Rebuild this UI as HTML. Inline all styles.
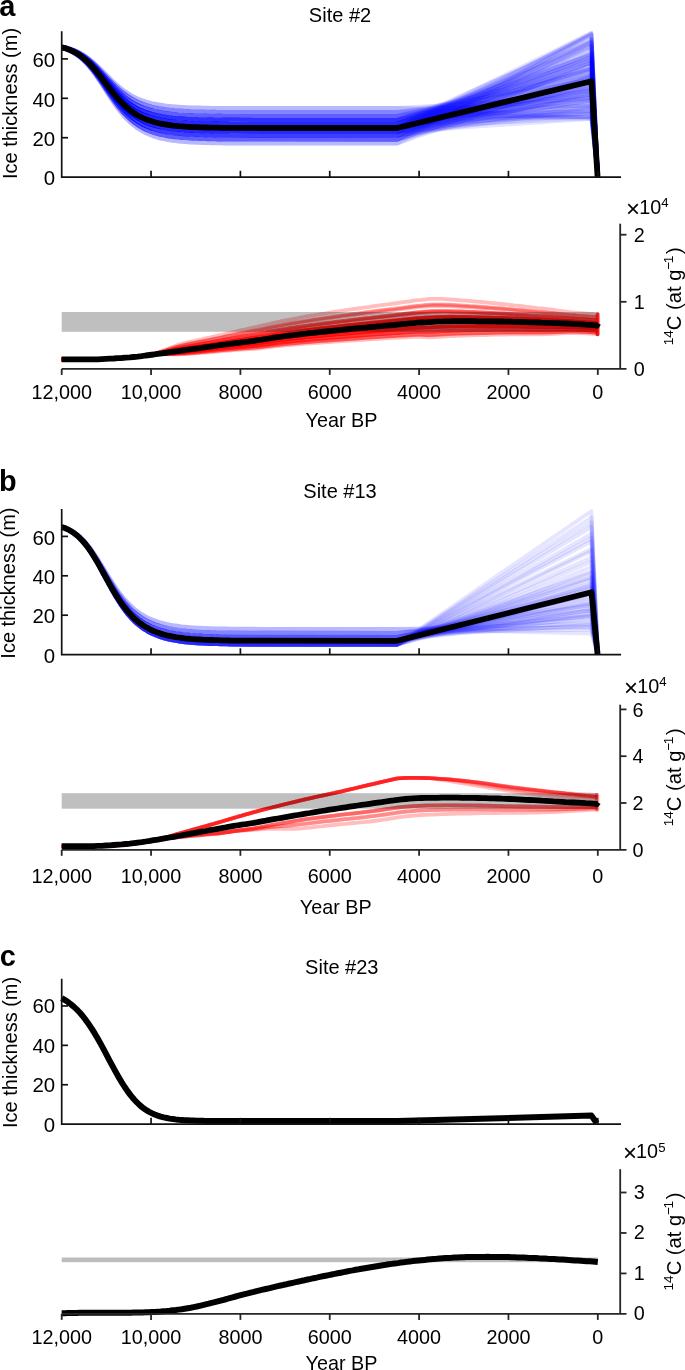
<!DOCTYPE html>
<html><head><meta charset="utf-8"><style>
html,body{margin:0;padding:0;background:#fff;}
body{width:685px;height:1370px;overflow:hidden;}
svg{display:block;will-change:transform;}
</style></head><body>
<svg width="685" height="1370" viewBox="0 0 685 1370">
<rect width="685" height="1370" fill="#fff"/>
<text x="-0.8" y="15.6" font-size="29" font-weight="bold" font-family="Liberation Sans, sans-serif">a</text>
<text x="340" y="22.1" text-anchor="middle" font-size="20" font-family="Liberation Sans, sans-serif">Site #2</text>
<g><polyline points="61.7,46.5 64.7,47.1 67.7,47.8 70.7,48.7 73.7,49.8 76.7,51.1 79.7,52.5 82.7,54.2 85.7,56.2 88.7,58.3 91.7,60.7 94.7,63.3 97.7,66.1 100.7,69.0 103.7,72.0 106.7,75.0 109.7,78.0 112.7,80.9 115.7,83.7 118.7,86.3 121.7,88.7 124.7,91.0 127.7,93.0 130.7,94.9 133.7,96.5 136.7,98.0 139.7,99.3 142.7,100.4 145.7,101.4 148.7,102.3 151.7,103.1 154.7,103.7 157.7,104.3 160.7,104.8 163.7,105.3 166.7,105.7 169.7,106.0 172.7,106.3 175.7,106.5 178.7,106.7 181.7,106.9 184.7,107.1 187.7,107.2 190.7,107.4 193.7,107.5 196.7,107.6 199.7,107.6 202.7,107.7 205.7,107.8 208.7,107.8 211.7,107.9 214.7,107.9 217.7,107.9 220.7,108.0 223.7,108.0 226.7,108.0 229.7,108.0 260.0,108.1 397.0,108.1 591.4,117.8 597.9,177.1" fill="none" stroke="#0000ff" stroke-width="4.0" stroke-opacity="0.100" stroke-linejoin="round" /><polyline points="61.7,46.5 64.7,47.1 67.7,47.8 70.7,48.7 73.7,49.8 76.7,51.1 79.7,52.5 82.7,54.2 85.7,56.2 88.7,58.3 91.7,60.7 94.7,63.3 97.7,66.1 100.7,69.0 103.7,72.0 106.7,75.0 109.7,78.0 112.7,80.9 115.7,83.7 118.7,86.3 121.7,88.7 124.7,91.0 127.7,93.0 130.7,94.9 133.7,96.5 136.7,98.0 139.7,99.3 142.7,100.4 145.7,101.4 148.7,102.3 151.7,103.1 154.7,103.7 157.7,104.3 160.7,104.8 163.7,105.3 166.7,105.7 169.7,106.0 172.7,106.3 175.7,106.5 178.7,106.7 181.7,106.9 184.7,107.1 187.7,107.2 190.7,107.4 193.7,107.5 196.7,107.6 199.7,107.6 202.7,107.7 205.7,107.8 208.7,107.8 211.7,107.9 214.7,107.9 217.7,107.9 220.7,108.0 223.7,108.0 226.7,108.0 229.7,108.0 260.0,108.1 397.0,108.1 591.4,106.1 597.9,177.1" fill="none" stroke="#0000ff" stroke-width="4.0" stroke-opacity="0.100" stroke-linejoin="round" /><polyline points="61.7,46.5 64.7,47.1 67.7,47.8 70.7,48.7 73.7,49.8 76.7,51.1 79.7,52.5 82.7,54.2 85.7,56.2 88.7,58.3 91.7,60.7 94.7,63.3 97.7,66.1 100.7,69.0 103.7,72.0 106.7,75.0 109.7,78.0 112.7,80.9 115.7,83.7 118.7,86.3 121.7,88.7 124.7,91.0 127.7,93.0 130.7,94.9 133.7,96.5 136.7,98.0 139.7,99.3 142.7,100.4 145.7,101.4 148.7,102.3 151.7,103.1 154.7,103.7 157.7,104.3 160.7,104.8 163.7,105.3 166.7,105.7 169.7,106.0 172.7,106.3 175.7,106.5 178.7,106.7 181.7,106.9 184.7,107.1 187.7,107.2 190.7,107.4 193.7,107.5 196.7,107.6 199.7,107.6 202.7,107.7 205.7,107.8 208.7,107.8 211.7,107.9 214.7,107.9 217.7,107.9 220.7,108.0 223.7,108.0 226.7,108.0 229.7,108.0 260.0,108.1 397.0,108.1 591.4,96.3 597.9,177.1" fill="none" stroke="#0000ff" stroke-width="4.0" stroke-opacity="0.100" stroke-linejoin="round" /><polyline points="61.7,46.6 64.7,47.3 67.7,48.1 70.7,49.0 73.7,50.2 76.7,51.5 79.7,53.1 82.7,54.9 85.7,56.9 88.7,59.2 91.7,61.8 94.7,64.5 97.7,67.5 100.7,70.6 103.7,73.8 106.7,77.0 109.7,80.1 112.7,83.2 115.7,86.1 118.7,88.9 121.7,91.5 124.7,93.9 127.7,96.0 130.7,98.0 133.7,99.7 136.7,101.3 139.7,102.7 142.7,103.9 145.7,104.9 148.7,105.9 151.7,106.7 154.7,107.4 157.7,108.0 160.7,108.6 163.7,109.0 166.7,109.4 169.7,109.8 172.7,110.1 175.7,110.4 178.7,110.6 181.7,110.8 184.7,111.0 187.7,111.1 190.7,111.3 193.7,111.4 196.7,111.5 199.7,111.5 202.7,111.6 205.7,111.7 208.7,111.7 211.7,111.8 214.7,111.8 217.7,111.9 220.7,111.9 223.7,111.9 226.7,111.9 229.7,112.0 260.0,112.1 397.0,112.1 591.4,118.8 597.9,177.1" fill="none" stroke="#0000ff" stroke-width="4.0" stroke-opacity="0.100" stroke-linejoin="round" /><polyline points="61.7,46.6 64.7,47.3 67.7,48.1 70.7,49.0 73.7,50.2 76.7,51.5 79.7,53.1 82.7,54.9 85.7,56.9 88.7,59.2 91.7,61.8 94.7,64.5 97.7,67.5 100.7,70.6 103.7,73.8 106.7,77.0 109.7,80.1 112.7,83.2 115.7,86.1 118.7,88.9 121.7,91.5 124.7,93.9 127.7,96.0 130.7,98.0 133.7,99.7 136.7,101.3 139.7,102.7 142.7,103.9 145.7,104.9 148.7,105.9 151.7,106.7 154.7,107.4 157.7,108.0 160.7,108.6 163.7,109.0 166.7,109.4 169.7,109.8 172.7,110.1 175.7,110.4 178.7,110.6 181.7,110.8 184.7,111.0 187.7,111.1 190.7,111.3 193.7,111.4 196.7,111.5 199.7,111.5 202.7,111.6 205.7,111.7 208.7,111.7 211.7,111.8 214.7,111.8 217.7,111.9 220.7,111.9 223.7,111.9 226.7,111.9 229.7,112.0 260.0,112.1 397.0,112.1 591.4,111.3 597.9,177.1" fill="none" stroke="#0000ff" stroke-width="4.0" stroke-opacity="0.100" stroke-linejoin="round" /><polyline points="61.7,46.6 64.7,47.3 67.7,48.1 70.7,49.0 73.7,50.2 76.7,51.5 79.7,53.1 82.7,54.9 85.7,56.9 88.7,59.2 91.7,61.8 94.7,64.5 97.7,67.5 100.7,70.6 103.7,73.8 106.7,77.0 109.7,80.1 112.7,83.2 115.7,86.1 118.7,88.9 121.7,91.5 124.7,93.9 127.7,96.0 130.7,98.0 133.7,99.7 136.7,101.3 139.7,102.7 142.7,103.9 145.7,104.9 148.7,105.9 151.7,106.7 154.7,107.4 157.7,108.0 160.7,108.6 163.7,109.0 166.7,109.4 169.7,109.8 172.7,110.1 175.7,110.4 178.7,110.6 181.7,110.8 184.7,111.0 187.7,111.1 190.7,111.3 193.7,111.4 196.7,111.5 199.7,111.5 202.7,111.6 205.7,111.7 208.7,111.7 211.7,111.8 214.7,111.8 217.7,111.9 220.7,111.9 223.7,111.9 226.7,111.9 229.7,112.0 260.0,112.1 397.0,112.1 591.4,100.7 597.9,177.1" fill="none" stroke="#0000ff" stroke-width="4.0" stroke-opacity="0.100" stroke-linejoin="round" /><polyline points="61.7,46.6 64.7,47.3 67.7,48.1 70.7,49.0 73.7,50.2 76.7,51.5 79.7,53.1 82.7,54.9 85.7,56.9 88.7,59.2 91.7,61.8 94.7,64.5 97.7,67.5 100.7,70.6 103.7,73.8 106.7,77.0 109.7,80.1 112.7,83.2 115.7,86.1 118.7,88.9 121.7,91.5 124.7,93.9 127.7,96.0 130.7,98.0 133.7,99.7 136.7,101.3 139.7,102.7 142.7,103.9 145.7,104.9 148.7,105.9 151.7,106.7 154.7,107.4 157.7,108.0 160.7,108.6 163.7,109.0 166.7,109.4 169.7,109.8 172.7,110.1 175.7,110.4 178.7,110.6 181.7,110.8 184.7,111.0 187.7,111.1 190.7,111.3 193.7,111.4 196.7,111.5 199.7,111.5 202.7,111.6 205.7,111.7 208.7,111.7 211.7,111.8 214.7,111.8 217.7,111.9 220.7,111.9 223.7,111.9 226.7,111.9 229.7,112.0 260.0,112.1 397.0,112.1 591.4,97.9 597.9,177.1" fill="none" stroke="#0000ff" stroke-width="4.0" stroke-opacity="0.100" stroke-linejoin="round" /><polyline points="61.7,46.6 64.7,47.3 67.7,48.1 70.7,49.0 73.7,50.2 76.7,51.5 79.7,53.1 82.7,54.9 85.7,56.9 88.7,59.2 91.7,61.8 94.7,64.5 97.7,67.5 100.7,70.6 103.7,73.8 106.7,77.0 109.7,80.1 112.7,83.2 115.7,86.1 118.7,88.9 121.7,91.5 124.7,93.9 127.7,96.0 130.7,98.0 133.7,99.7 136.7,101.3 139.7,102.7 142.7,103.9 145.7,104.9 148.7,105.9 151.7,106.7 154.7,107.4 157.7,108.0 160.7,108.6 163.7,109.0 166.7,109.4 169.7,109.8 172.7,110.1 175.7,110.4 178.7,110.6 181.7,110.8 184.7,111.0 187.7,111.1 190.7,111.3 193.7,111.4 196.7,111.5 199.7,111.5 202.7,111.6 205.7,111.7 208.7,111.7 211.7,111.8 214.7,111.8 217.7,111.9 220.7,111.9 223.7,111.9 226.7,111.9 229.7,112.0 260.0,112.1 397.0,112.1 591.4,90.8 597.9,177.1" fill="none" stroke="#0000ff" stroke-width="4.0" stroke-opacity="0.100" stroke-linejoin="round" /><polyline points="61.7,46.6 64.7,47.3 67.7,48.1 70.7,49.0 73.7,50.2 76.7,51.5 79.7,53.1 82.7,54.9 85.7,56.9 88.7,59.2 91.7,61.8 94.7,64.5 97.7,67.5 100.7,70.6 103.7,73.8 106.7,77.0 109.7,80.1 112.7,83.2 115.7,86.1 118.7,88.9 121.7,91.5 124.7,93.9 127.7,96.0 130.7,98.0 133.7,99.7 136.7,101.3 139.7,102.7 142.7,103.9 145.7,104.9 148.7,105.9 151.7,106.7 154.7,107.4 157.7,108.0 160.7,108.6 163.7,109.0 166.7,109.4 169.7,109.8 172.7,110.1 175.7,110.4 178.7,110.6 181.7,110.8 184.7,111.0 187.7,111.1 190.7,111.3 193.7,111.4 196.7,111.5 199.7,111.5 202.7,111.6 205.7,111.7 208.7,111.7 211.7,111.8 214.7,111.8 217.7,111.9 220.7,111.9 223.7,111.9 226.7,111.9 229.7,112.0 260.0,112.1 397.0,112.1 591.4,80.0 597.9,177.1" fill="none" stroke="#0000ff" stroke-width="4.0" stroke-opacity="0.100" stroke-linejoin="round" /><polyline points="61.7,46.8 64.7,47.5 67.7,48.3 70.7,49.4 73.7,50.5 76.7,52.0 79.7,53.6 82.7,55.5 85.7,57.7 88.7,60.1 91.7,62.8 94.7,65.7 97.7,68.9 100.7,72.1 103.7,75.5 106.7,78.9 109.7,82.2 112.7,85.5 115.7,88.6 118.7,91.5 121.7,94.3 124.7,96.8 127.7,99.0 130.7,101.1 133.7,103.0 136.7,104.6 139.7,106.1 142.7,107.3 145.7,108.5 148.7,109.5 151.7,110.3 154.7,111.1 157.7,111.7 160.7,112.3 163.7,112.8 166.7,113.2 169.7,113.6 172.7,113.9 175.7,114.2 178.7,114.5 181.7,114.7 184.7,114.9 187.7,115.0 190.7,115.1 193.7,115.3 196.7,115.4 199.7,115.5 202.7,115.5 205.7,115.6 208.7,115.7 211.7,115.7 214.7,115.8 217.7,115.8 220.7,115.8 223.7,115.9 226.7,115.9 229.7,115.9 260.0,116.0 397.0,116.0 591.4,116.4 597.9,177.1" fill="none" stroke="#0000ff" stroke-width="4.0" stroke-opacity="0.100" stroke-linejoin="round" /><polyline points="61.7,46.8 64.7,47.5 67.7,48.3 70.7,49.4 73.7,50.5 76.7,52.0 79.7,53.6 82.7,55.5 85.7,57.7 88.7,60.1 91.7,62.8 94.7,65.7 97.7,68.9 100.7,72.1 103.7,75.5 106.7,78.9 109.7,82.2 112.7,85.5 115.7,88.6 118.7,91.5 121.7,94.3 124.7,96.8 127.7,99.0 130.7,101.1 133.7,103.0 136.7,104.6 139.7,106.1 142.7,107.3 145.7,108.5 148.7,109.5 151.7,110.3 154.7,111.1 157.7,111.7 160.7,112.3 163.7,112.8 166.7,113.2 169.7,113.6 172.7,113.9 175.7,114.2 178.7,114.5 181.7,114.7 184.7,114.9 187.7,115.0 190.7,115.1 193.7,115.3 196.7,115.4 199.7,115.5 202.7,115.5 205.7,115.6 208.7,115.7 211.7,115.7 214.7,115.8 217.7,115.8 220.7,115.8 223.7,115.9 226.7,115.9 229.7,115.9 260.0,116.0 397.0,116.0 591.4,111.4 597.9,177.1" fill="none" stroke="#0000ff" stroke-width="4.0" stroke-opacity="0.100" stroke-linejoin="round" /><polyline points="61.7,46.8 64.7,47.5 67.7,48.3 70.7,49.4 73.7,50.5 76.7,52.0 79.7,53.6 82.7,55.5 85.7,57.7 88.7,60.1 91.7,62.8 94.7,65.7 97.7,68.9 100.7,72.1 103.7,75.5 106.7,78.9 109.7,82.2 112.7,85.5 115.7,88.6 118.7,91.5 121.7,94.3 124.7,96.8 127.7,99.0 130.7,101.1 133.7,103.0 136.7,104.6 139.7,106.1 142.7,107.3 145.7,108.5 148.7,109.5 151.7,110.3 154.7,111.1 157.7,111.7 160.7,112.3 163.7,112.8 166.7,113.2 169.7,113.6 172.7,113.9 175.7,114.2 178.7,114.5 181.7,114.7 184.7,114.9 187.7,115.0 190.7,115.1 193.7,115.3 196.7,115.4 199.7,115.5 202.7,115.5 205.7,115.6 208.7,115.7 211.7,115.7 214.7,115.8 217.7,115.8 220.7,115.8 223.7,115.9 226.7,115.9 229.7,115.9 260.0,116.0 397.0,116.0 591.4,104.7 597.9,177.1" fill="none" stroke="#0000ff" stroke-width="4.0" stroke-opacity="0.100" stroke-linejoin="round" /><polyline points="61.7,46.8 64.7,47.5 67.7,48.3 70.7,49.4 73.7,50.5 76.7,52.0 79.7,53.6 82.7,55.5 85.7,57.7 88.7,60.1 91.7,62.8 94.7,65.7 97.7,68.9 100.7,72.1 103.7,75.5 106.7,78.9 109.7,82.2 112.7,85.5 115.7,88.6 118.7,91.5 121.7,94.3 124.7,96.8 127.7,99.0 130.7,101.1 133.7,103.0 136.7,104.6 139.7,106.1 142.7,107.3 145.7,108.5 148.7,109.5 151.7,110.3 154.7,111.1 157.7,111.7 160.7,112.3 163.7,112.8 166.7,113.2 169.7,113.6 172.7,113.9 175.7,114.2 178.7,114.5 181.7,114.7 184.7,114.9 187.7,115.0 190.7,115.1 193.7,115.3 196.7,115.4 199.7,115.5 202.7,115.5 205.7,115.6 208.7,115.7 211.7,115.7 214.7,115.8 217.7,115.8 220.7,115.8 223.7,115.9 226.7,115.9 229.7,115.9 260.0,116.0 397.0,116.0 591.4,97.9 597.9,177.1" fill="none" stroke="#0000ff" stroke-width="4.0" stroke-opacity="0.100" stroke-linejoin="round" /><polyline points="61.7,46.8 64.7,47.5 67.7,48.3 70.7,49.4 73.7,50.5 76.7,52.0 79.7,53.6 82.7,55.5 85.7,57.7 88.7,60.1 91.7,62.8 94.7,65.7 97.7,68.9 100.7,72.1 103.7,75.5 106.7,78.9 109.7,82.2 112.7,85.5 115.7,88.6 118.7,91.5 121.7,94.3 124.7,96.8 127.7,99.0 130.7,101.1 133.7,103.0 136.7,104.6 139.7,106.1 142.7,107.3 145.7,108.5 148.7,109.5 151.7,110.3 154.7,111.1 157.7,111.7 160.7,112.3 163.7,112.8 166.7,113.2 169.7,113.6 172.7,113.9 175.7,114.2 178.7,114.5 181.7,114.7 184.7,114.9 187.7,115.0 190.7,115.1 193.7,115.3 196.7,115.4 199.7,115.5 202.7,115.5 205.7,115.6 208.7,115.7 211.7,115.7 214.7,115.8 217.7,115.8 220.7,115.8 223.7,115.9 226.7,115.9 229.7,115.9 260.0,116.0 397.0,116.0 591.4,93.5 597.9,177.1" fill="none" stroke="#0000ff" stroke-width="4.0" stroke-opacity="0.100" stroke-linejoin="round" /><polyline points="61.7,46.8 64.7,47.5 67.7,48.3 70.7,49.4 73.7,50.5 76.7,52.0 79.7,53.6 82.7,55.5 85.7,57.7 88.7,60.1 91.7,62.8 94.7,65.7 97.7,68.9 100.7,72.1 103.7,75.5 106.7,78.9 109.7,82.2 112.7,85.5 115.7,88.6 118.7,91.5 121.7,94.3 124.7,96.8 127.7,99.0 130.7,101.1 133.7,103.0 136.7,104.6 139.7,106.1 142.7,107.3 145.7,108.5 148.7,109.5 151.7,110.3 154.7,111.1 157.7,111.7 160.7,112.3 163.7,112.8 166.7,113.2 169.7,113.6 172.7,113.9 175.7,114.2 178.7,114.5 181.7,114.7 184.7,114.9 187.7,115.0 190.7,115.1 193.7,115.3 196.7,115.4 199.7,115.5 202.7,115.5 205.7,115.6 208.7,115.7 211.7,115.7 214.7,115.8 217.7,115.8 220.7,115.8 223.7,115.9 226.7,115.9 229.7,115.9 260.0,116.0 397.0,116.0 591.4,87.9 597.9,177.1" fill="none" stroke="#0000ff" stroke-width="4.0" stroke-opacity="0.100" stroke-linejoin="round" /><polyline points="61.7,46.8 64.7,47.5 67.7,48.3 70.7,49.4 73.7,50.5 76.7,52.0 79.7,53.6 82.7,55.5 85.7,57.7 88.7,60.1 91.7,62.8 94.7,65.7 97.7,68.9 100.7,72.1 103.7,75.5 106.7,78.9 109.7,82.2 112.7,85.5 115.7,88.6 118.7,91.5 121.7,94.3 124.7,96.8 127.7,99.0 130.7,101.1 133.7,103.0 136.7,104.6 139.7,106.1 142.7,107.3 145.7,108.5 148.7,109.5 151.7,110.3 154.7,111.1 157.7,111.7 160.7,112.3 163.7,112.8 166.7,113.2 169.7,113.6 172.7,113.9 175.7,114.2 178.7,114.5 181.7,114.7 184.7,114.9 187.7,115.0 190.7,115.1 193.7,115.3 196.7,115.4 199.7,115.5 202.7,115.5 205.7,115.6 208.7,115.7 211.7,115.7 214.7,115.8 217.7,115.8 220.7,115.8 223.7,115.9 226.7,115.9 229.7,115.9 260.0,116.0 397.0,116.0 591.4,79.1 597.9,177.1" fill="none" stroke="#0000ff" stroke-width="4.0" stroke-opacity="0.100" stroke-linejoin="round" /><polyline points="61.7,46.8 64.7,47.5 67.7,48.3 70.7,49.4 73.7,50.5 76.7,52.0 79.7,53.6 82.7,55.5 85.7,57.7 88.7,60.1 91.7,62.8 94.7,65.7 97.7,68.9 100.7,72.1 103.7,75.5 106.7,78.9 109.7,82.2 112.7,85.5 115.7,88.6 118.7,91.5 121.7,94.3 124.7,96.8 127.7,99.0 130.7,101.1 133.7,103.0 136.7,104.6 139.7,106.1 142.7,107.3 145.7,108.5 148.7,109.5 151.7,110.3 154.7,111.1 157.7,111.7 160.7,112.3 163.7,112.8 166.7,113.2 169.7,113.6 172.7,113.9 175.7,114.2 178.7,114.5 181.7,114.7 184.7,114.9 187.7,115.0 190.7,115.1 193.7,115.3 196.7,115.4 199.7,115.5 202.7,115.5 205.7,115.6 208.7,115.7 211.7,115.7 214.7,115.8 217.7,115.8 220.7,115.8 223.7,115.9 226.7,115.9 229.7,115.9 260.0,116.0 397.0,116.0 591.4,73.5 597.9,177.1" fill="none" stroke="#0000ff" stroke-width="4.0" stroke-opacity="0.100" stroke-linejoin="round" /><polyline points="61.7,46.8 64.7,47.5 67.7,48.3 70.7,49.4 73.7,50.5 76.7,52.0 79.7,53.6 82.7,55.5 85.7,57.7 88.7,60.1 91.7,62.8 94.7,65.7 97.7,68.9 100.7,72.1 103.7,75.5 106.7,78.9 109.7,82.2 112.7,85.5 115.7,88.6 118.7,91.5 121.7,94.3 124.7,96.8 127.7,99.0 130.7,101.1 133.7,103.0 136.7,104.6 139.7,106.1 142.7,107.3 145.7,108.5 148.7,109.5 151.7,110.3 154.7,111.1 157.7,111.7 160.7,112.3 163.7,112.8 166.7,113.2 169.7,113.6 172.7,113.9 175.7,114.2 178.7,114.5 181.7,114.7 184.7,114.9 187.7,115.0 190.7,115.1 193.7,115.3 196.7,115.4 199.7,115.5 202.7,115.5 205.7,115.6 208.7,115.7 211.7,115.7 214.7,115.8 217.7,115.8 220.7,115.8 223.7,115.9 226.7,115.9 229.7,115.9 260.0,116.0 397.0,116.0 591.4,68.0 597.9,177.1" fill="none" stroke="#0000ff" stroke-width="4.0" stroke-opacity="0.100" stroke-linejoin="round" /><polyline points="61.7,47.0 64.7,47.7 67.7,48.6 70.7,49.7 73.7,50.9 76.7,52.4 79.7,54.1 82.7,56.2 85.7,58.4 88.7,61.0 91.7,63.8 94.7,66.9 97.7,70.2 100.7,73.7 103.7,77.2 106.7,80.8 109.7,84.3 112.7,87.8 115.7,91.0 118.7,94.1 121.7,97.0 124.7,99.7 127.7,102.1 130.7,104.2 133.7,106.2 136.7,107.9 139.7,109.5 142.7,110.8 145.7,112.0 148.7,113.0 151.7,113.9 154.7,114.7 157.7,115.4 160.7,116.0 163.7,116.6 166.7,117.0 169.7,117.4 172.7,117.8 175.7,118.1 178.7,118.3 181.7,118.5 184.7,118.7 187.7,118.9 190.7,119.0 193.7,119.2 196.7,119.3 199.7,119.4 202.7,119.4 205.7,119.5 208.7,119.6 211.7,119.6 214.7,119.7 217.7,119.7 220.7,119.8 223.7,119.8 226.7,119.8 229.7,119.8 260.0,119.9 397.0,120.0 591.4,116.7 597.9,177.1" fill="none" stroke="#0000ff" stroke-width="4.0" stroke-opacity="0.100" stroke-linejoin="round" /><polyline points="61.7,47.0 64.7,47.7 67.7,48.6 70.7,49.7 73.7,50.9 76.7,52.4 79.7,54.1 82.7,56.2 85.7,58.4 88.7,61.0 91.7,63.8 94.7,66.9 97.7,70.2 100.7,73.7 103.7,77.2 106.7,80.8 109.7,84.3 112.7,87.8 115.7,91.0 118.7,94.1 121.7,97.0 124.7,99.7 127.7,102.1 130.7,104.2 133.7,106.2 136.7,107.9 139.7,109.5 142.7,110.8 145.7,112.0 148.7,113.0 151.7,113.9 154.7,114.7 157.7,115.4 160.7,116.0 163.7,116.6 166.7,117.0 169.7,117.4 172.7,117.8 175.7,118.1 178.7,118.3 181.7,118.5 184.7,118.7 187.7,118.9 190.7,119.0 193.7,119.2 196.7,119.3 199.7,119.4 202.7,119.4 205.7,119.5 208.7,119.6 211.7,119.6 214.7,119.7 217.7,119.7 220.7,119.8 223.7,119.8 226.7,119.8 229.7,119.8 260.0,119.9 397.0,120.0 591.4,113.0 597.9,177.1" fill="none" stroke="#0000ff" stroke-width="4.0" stroke-opacity="0.100" stroke-linejoin="round" /><polyline points="61.7,47.0 64.7,47.7 67.7,48.6 70.7,49.7 73.7,50.9 76.7,52.4 79.7,54.1 82.7,56.2 85.7,58.4 88.7,61.0 91.7,63.8 94.7,66.9 97.7,70.2 100.7,73.7 103.7,77.2 106.7,80.8 109.7,84.3 112.7,87.8 115.7,91.0 118.7,94.1 121.7,97.0 124.7,99.7 127.7,102.1 130.7,104.2 133.7,106.2 136.7,107.9 139.7,109.5 142.7,110.8 145.7,112.0 148.7,113.0 151.7,113.9 154.7,114.7 157.7,115.4 160.7,116.0 163.7,116.6 166.7,117.0 169.7,117.4 172.7,117.8 175.7,118.1 178.7,118.3 181.7,118.5 184.7,118.7 187.7,118.9 190.7,119.0 193.7,119.2 196.7,119.3 199.7,119.4 202.7,119.4 205.7,119.5 208.7,119.6 211.7,119.6 214.7,119.7 217.7,119.7 220.7,119.8 223.7,119.8 226.7,119.8 229.7,119.8 260.0,119.9 397.0,120.0 591.4,107.0 597.9,177.1" fill="none" stroke="#0000ff" stroke-width="4.0" stroke-opacity="0.100" stroke-linejoin="round" /><polyline points="61.7,47.0 64.7,47.7 67.7,48.6 70.7,49.7 73.7,50.9 76.7,52.4 79.7,54.1 82.7,56.2 85.7,58.4 88.7,61.0 91.7,63.8 94.7,66.9 97.7,70.2 100.7,73.7 103.7,77.2 106.7,80.8 109.7,84.3 112.7,87.8 115.7,91.0 118.7,94.1 121.7,97.0 124.7,99.7 127.7,102.1 130.7,104.2 133.7,106.2 136.7,107.9 139.7,109.5 142.7,110.8 145.7,112.0 148.7,113.0 151.7,113.9 154.7,114.7 157.7,115.4 160.7,116.0 163.7,116.6 166.7,117.0 169.7,117.4 172.7,117.8 175.7,118.1 178.7,118.3 181.7,118.5 184.7,118.7 187.7,118.9 190.7,119.0 193.7,119.2 196.7,119.3 199.7,119.4 202.7,119.4 205.7,119.5 208.7,119.6 211.7,119.6 214.7,119.7 217.7,119.7 220.7,119.8 223.7,119.8 226.7,119.8 229.7,119.8 260.0,119.9 397.0,120.0 591.4,104.9 597.9,177.1" fill="none" stroke="#0000ff" stroke-width="4.0" stroke-opacity="0.100" stroke-linejoin="round" /><polyline points="61.7,47.0 64.7,47.7 67.7,48.6 70.7,49.7 73.7,50.9 76.7,52.4 79.7,54.1 82.7,56.2 85.7,58.4 88.7,61.0 91.7,63.8 94.7,66.9 97.7,70.2 100.7,73.7 103.7,77.2 106.7,80.8 109.7,84.3 112.7,87.8 115.7,91.0 118.7,94.1 121.7,97.0 124.7,99.7 127.7,102.1 130.7,104.2 133.7,106.2 136.7,107.9 139.7,109.5 142.7,110.8 145.7,112.0 148.7,113.0 151.7,113.9 154.7,114.7 157.7,115.4 160.7,116.0 163.7,116.6 166.7,117.0 169.7,117.4 172.7,117.8 175.7,118.1 178.7,118.3 181.7,118.5 184.7,118.7 187.7,118.9 190.7,119.0 193.7,119.2 196.7,119.3 199.7,119.4 202.7,119.4 205.7,119.5 208.7,119.6 211.7,119.6 214.7,119.7 217.7,119.7 220.7,119.8 223.7,119.8 226.7,119.8 229.7,119.8 260.0,119.9 397.0,120.0 591.4,99.2 597.9,177.1" fill="none" stroke="#0000ff" stroke-width="4.0" stroke-opacity="0.100" stroke-linejoin="round" /><polyline points="61.7,47.0 64.7,47.7 67.7,48.6 70.7,49.7 73.7,50.9 76.7,52.4 79.7,54.1 82.7,56.2 85.7,58.4 88.7,61.0 91.7,63.8 94.7,66.9 97.7,70.2 100.7,73.7 103.7,77.2 106.7,80.8 109.7,84.3 112.7,87.8 115.7,91.0 118.7,94.1 121.7,97.0 124.7,99.7 127.7,102.1 130.7,104.2 133.7,106.2 136.7,107.9 139.7,109.5 142.7,110.8 145.7,112.0 148.7,113.0 151.7,113.9 154.7,114.7 157.7,115.4 160.7,116.0 163.7,116.6 166.7,117.0 169.7,117.4 172.7,117.8 175.7,118.1 178.7,118.3 181.7,118.5 184.7,118.7 187.7,118.9 190.7,119.0 193.7,119.2 196.7,119.3 199.7,119.4 202.7,119.4 205.7,119.5 208.7,119.6 211.7,119.6 214.7,119.7 217.7,119.7 220.7,119.8 223.7,119.8 226.7,119.8 229.7,119.8 260.0,119.9 397.0,120.0 591.4,94.9 597.9,177.1" fill="none" stroke="#0000ff" stroke-width="4.0" stroke-opacity="0.100" stroke-linejoin="round" /><polyline points="61.7,47.0 64.7,47.7 67.7,48.6 70.7,49.7 73.7,50.9 76.7,52.4 79.7,54.1 82.7,56.2 85.7,58.4 88.7,61.0 91.7,63.8 94.7,66.9 97.7,70.2 100.7,73.7 103.7,77.2 106.7,80.8 109.7,84.3 112.7,87.8 115.7,91.0 118.7,94.1 121.7,97.0 124.7,99.7 127.7,102.1 130.7,104.2 133.7,106.2 136.7,107.9 139.7,109.5 142.7,110.8 145.7,112.0 148.7,113.0 151.7,113.9 154.7,114.7 157.7,115.4 160.7,116.0 163.7,116.6 166.7,117.0 169.7,117.4 172.7,117.8 175.7,118.1 178.7,118.3 181.7,118.5 184.7,118.7 187.7,118.9 190.7,119.0 193.7,119.2 196.7,119.3 199.7,119.4 202.7,119.4 205.7,119.5 208.7,119.6 211.7,119.6 214.7,119.7 217.7,119.7 220.7,119.8 223.7,119.8 226.7,119.8 229.7,119.8 260.0,119.9 397.0,120.0 591.4,90.7 597.9,177.1" fill="none" stroke="#0000ff" stroke-width="4.0" stroke-opacity="0.100" stroke-linejoin="round" /><polyline points="61.7,47.0 64.7,47.7 67.7,48.6 70.7,49.7 73.7,50.9 76.7,52.4 79.7,54.1 82.7,56.2 85.7,58.4 88.7,61.0 91.7,63.8 94.7,66.9 97.7,70.2 100.7,73.7 103.7,77.2 106.7,80.8 109.7,84.3 112.7,87.8 115.7,91.0 118.7,94.1 121.7,97.0 124.7,99.7 127.7,102.1 130.7,104.2 133.7,106.2 136.7,107.9 139.7,109.5 142.7,110.8 145.7,112.0 148.7,113.0 151.7,113.9 154.7,114.7 157.7,115.4 160.7,116.0 163.7,116.6 166.7,117.0 169.7,117.4 172.7,117.8 175.7,118.1 178.7,118.3 181.7,118.5 184.7,118.7 187.7,118.9 190.7,119.0 193.7,119.2 196.7,119.3 199.7,119.4 202.7,119.4 205.7,119.5 208.7,119.6 211.7,119.6 214.7,119.7 217.7,119.7 220.7,119.8 223.7,119.8 226.7,119.8 229.7,119.8 260.0,119.9 397.0,120.0 591.4,85.4 597.9,177.1" fill="none" stroke="#0000ff" stroke-width="4.0" stroke-opacity="0.100" stroke-linejoin="round" /><polyline points="61.7,47.0 64.7,47.7 67.7,48.6 70.7,49.7 73.7,50.9 76.7,52.4 79.7,54.1 82.7,56.2 85.7,58.4 88.7,61.0 91.7,63.8 94.7,66.9 97.7,70.2 100.7,73.7 103.7,77.2 106.7,80.8 109.7,84.3 112.7,87.8 115.7,91.0 118.7,94.1 121.7,97.0 124.7,99.7 127.7,102.1 130.7,104.2 133.7,106.2 136.7,107.9 139.7,109.5 142.7,110.8 145.7,112.0 148.7,113.0 151.7,113.9 154.7,114.7 157.7,115.4 160.7,116.0 163.7,116.6 166.7,117.0 169.7,117.4 172.7,117.8 175.7,118.1 178.7,118.3 181.7,118.5 184.7,118.7 187.7,118.9 190.7,119.0 193.7,119.2 196.7,119.3 199.7,119.4 202.7,119.4 205.7,119.5 208.7,119.6 211.7,119.6 214.7,119.7 217.7,119.7 220.7,119.8 223.7,119.8 226.7,119.8 229.7,119.8 260.0,119.9 397.0,120.0 591.4,81.9 597.9,177.1" fill="none" stroke="#0000ff" stroke-width="4.0" stroke-opacity="0.100" stroke-linejoin="round" /><polyline points="61.7,47.0 64.7,47.7 67.7,48.6 70.7,49.7 73.7,50.9 76.7,52.4 79.7,54.1 82.7,56.2 85.7,58.4 88.7,61.0 91.7,63.8 94.7,66.9 97.7,70.2 100.7,73.7 103.7,77.2 106.7,80.8 109.7,84.3 112.7,87.8 115.7,91.0 118.7,94.1 121.7,97.0 124.7,99.7 127.7,102.1 130.7,104.2 133.7,106.2 136.7,107.9 139.7,109.5 142.7,110.8 145.7,112.0 148.7,113.0 151.7,113.9 154.7,114.7 157.7,115.4 160.7,116.0 163.7,116.6 166.7,117.0 169.7,117.4 172.7,117.8 175.7,118.1 178.7,118.3 181.7,118.5 184.7,118.7 187.7,118.9 190.7,119.0 193.7,119.2 196.7,119.3 199.7,119.4 202.7,119.4 205.7,119.5 208.7,119.6 211.7,119.6 214.7,119.7 217.7,119.7 220.7,119.8 223.7,119.8 226.7,119.8 229.7,119.8 260.0,119.9 397.0,120.0 591.4,75.6 597.9,177.1" fill="none" stroke="#0000ff" stroke-width="4.0" stroke-opacity="0.100" stroke-linejoin="round" /><polyline points="61.7,47.0 64.7,47.7 67.7,48.6 70.7,49.7 73.7,50.9 76.7,52.4 79.7,54.1 82.7,56.2 85.7,58.4 88.7,61.0 91.7,63.8 94.7,66.9 97.7,70.2 100.7,73.7 103.7,77.2 106.7,80.8 109.7,84.3 112.7,87.8 115.7,91.0 118.7,94.1 121.7,97.0 124.7,99.7 127.7,102.1 130.7,104.2 133.7,106.2 136.7,107.9 139.7,109.5 142.7,110.8 145.7,112.0 148.7,113.0 151.7,113.9 154.7,114.7 157.7,115.4 160.7,116.0 163.7,116.6 166.7,117.0 169.7,117.4 172.7,117.8 175.7,118.1 178.7,118.3 181.7,118.5 184.7,118.7 187.7,118.9 190.7,119.0 193.7,119.2 196.7,119.3 199.7,119.4 202.7,119.4 205.7,119.5 208.7,119.6 211.7,119.6 214.7,119.7 217.7,119.7 220.7,119.8 223.7,119.8 226.7,119.8 229.7,119.8 260.0,119.9 397.0,120.0 591.4,70.8 597.9,177.1" fill="none" stroke="#0000ff" stroke-width="4.0" stroke-opacity="0.100" stroke-linejoin="round" /><polyline points="61.7,47.0 64.7,47.7 67.7,48.6 70.7,49.7 73.7,50.9 76.7,52.4 79.7,54.1 82.7,56.2 85.7,58.4 88.7,61.0 91.7,63.8 94.7,66.9 97.7,70.2 100.7,73.7 103.7,77.2 106.7,80.8 109.7,84.3 112.7,87.8 115.7,91.0 118.7,94.1 121.7,97.0 124.7,99.7 127.7,102.1 130.7,104.2 133.7,106.2 136.7,107.9 139.7,109.5 142.7,110.8 145.7,112.0 148.7,113.0 151.7,113.9 154.7,114.7 157.7,115.4 160.7,116.0 163.7,116.6 166.7,117.0 169.7,117.4 172.7,117.8 175.7,118.1 178.7,118.3 181.7,118.5 184.7,118.7 187.7,118.9 190.7,119.0 193.7,119.2 196.7,119.3 199.7,119.4 202.7,119.4 205.7,119.5 208.7,119.6 211.7,119.6 214.7,119.7 217.7,119.7 220.7,119.8 223.7,119.8 226.7,119.8 229.7,119.8 260.0,119.9 397.0,120.0 591.4,68.6 597.9,177.1" fill="none" stroke="#0000ff" stroke-width="4.0" stroke-opacity="0.100" stroke-linejoin="round" /><polyline points="61.7,47.0 64.7,47.7 67.7,48.6 70.7,49.7 73.7,50.9 76.7,52.4 79.7,54.1 82.7,56.2 85.7,58.4 88.7,61.0 91.7,63.8 94.7,66.9 97.7,70.2 100.7,73.7 103.7,77.2 106.7,80.8 109.7,84.3 112.7,87.8 115.7,91.0 118.7,94.1 121.7,97.0 124.7,99.7 127.7,102.1 130.7,104.2 133.7,106.2 136.7,107.9 139.7,109.5 142.7,110.8 145.7,112.0 148.7,113.0 151.7,113.9 154.7,114.7 157.7,115.4 160.7,116.0 163.7,116.6 166.7,117.0 169.7,117.4 172.7,117.8 175.7,118.1 178.7,118.3 181.7,118.5 184.7,118.7 187.7,118.9 190.7,119.0 193.7,119.2 196.7,119.3 199.7,119.4 202.7,119.4 205.7,119.5 208.7,119.6 211.7,119.6 214.7,119.7 217.7,119.7 220.7,119.8 223.7,119.8 226.7,119.8 229.7,119.8 260.0,119.9 397.0,120.0 591.4,62.9 597.9,177.1" fill="none" stroke="#0000ff" stroke-width="4.0" stroke-opacity="0.100" stroke-linejoin="round" /><polyline points="61.7,47.0 64.7,47.7 67.7,48.6 70.7,49.7 73.7,50.9 76.7,52.4 79.7,54.1 82.7,56.2 85.7,58.4 88.7,61.0 91.7,63.8 94.7,66.9 97.7,70.2 100.7,73.7 103.7,77.2 106.7,80.8 109.7,84.3 112.7,87.8 115.7,91.0 118.7,94.1 121.7,97.0 124.7,99.7 127.7,102.1 130.7,104.2 133.7,106.2 136.7,107.9 139.7,109.5 142.7,110.8 145.7,112.0 148.7,113.0 151.7,113.9 154.7,114.7 157.7,115.4 160.7,116.0 163.7,116.6 166.7,117.0 169.7,117.4 172.7,117.8 175.7,118.1 178.7,118.3 181.7,118.5 184.7,118.7 187.7,118.9 190.7,119.0 193.7,119.2 196.7,119.3 199.7,119.4 202.7,119.4 205.7,119.5 208.7,119.6 211.7,119.6 214.7,119.7 217.7,119.7 220.7,119.8 223.7,119.8 226.7,119.8 229.7,119.8 260.0,119.9 397.0,120.0 591.4,58.9 597.9,177.1" fill="none" stroke="#0000ff" stroke-width="4.0" stroke-opacity="0.100" stroke-linejoin="round" /><polyline points="61.7,47.0 64.7,47.7 67.7,48.6 70.7,49.7 73.7,50.9 76.7,52.4 79.7,54.1 82.7,56.2 85.7,58.4 88.7,61.0 91.7,63.8 94.7,66.9 97.7,70.2 100.7,73.7 103.7,77.2 106.7,80.8 109.7,84.3 112.7,87.8 115.7,91.0 118.7,94.1 121.7,97.0 124.7,99.7 127.7,102.1 130.7,104.2 133.7,106.2 136.7,107.9 139.7,109.5 142.7,110.8 145.7,112.0 148.7,113.0 151.7,113.9 154.7,114.7 157.7,115.4 160.7,116.0 163.7,116.6 166.7,117.0 169.7,117.4 172.7,117.8 175.7,118.1 178.7,118.3 181.7,118.5 184.7,118.7 187.7,118.9 190.7,119.0 193.7,119.2 196.7,119.3 199.7,119.4 202.7,119.4 205.7,119.5 208.7,119.6 211.7,119.6 214.7,119.7 217.7,119.7 220.7,119.8 223.7,119.8 226.7,119.8 229.7,119.8 260.0,119.9 397.0,120.0 591.4,55.0 597.9,177.1" fill="none" stroke="#0000ff" stroke-width="4.0" stroke-opacity="0.100" stroke-linejoin="round" /><polyline points="61.7,47.1 64.7,47.9 67.7,48.9 70.7,50.0 73.7,51.3 76.7,52.9 79.7,54.7 82.7,56.8 85.7,59.2 88.7,61.9 91.7,64.9 94.7,68.1 97.7,71.6 100.7,75.2 103.7,79.0 106.7,82.7 109.7,86.4 112.7,90.0 115.7,93.5 118.7,96.7 121.7,99.8 124.7,102.5 127.7,105.1 130.7,107.4 133.7,109.4 136.7,111.2 139.7,112.8 142.7,114.3 145.7,115.5 148.7,116.6 151.7,117.6 154.7,118.4 157.7,119.1 160.7,119.8 163.7,120.3 166.7,120.8 169.7,121.2 172.7,121.6 175.7,121.9 178.7,122.2 181.7,122.4 184.7,122.6 187.7,122.8 190.7,122.9 193.7,123.1 196.7,123.2 199.7,123.3 202.7,123.4 205.7,123.4 208.7,123.5 211.7,123.6 214.7,123.6 217.7,123.6 220.7,123.7 223.7,123.7 226.7,123.7 229.7,123.8 260.0,123.9 397.0,123.9 591.4,116.2 597.9,177.1" fill="none" stroke="#0000ff" stroke-width="4.0" stroke-opacity="0.100" stroke-linejoin="round" /><polyline points="61.7,47.1 64.7,47.9 67.7,48.9 70.7,50.0 73.7,51.3 76.7,52.9 79.7,54.7 82.7,56.8 85.7,59.2 88.7,61.9 91.7,64.9 94.7,68.1 97.7,71.6 100.7,75.2 103.7,79.0 106.7,82.7 109.7,86.4 112.7,90.0 115.7,93.5 118.7,96.7 121.7,99.8 124.7,102.5 127.7,105.1 130.7,107.4 133.7,109.4 136.7,111.2 139.7,112.8 142.7,114.3 145.7,115.5 148.7,116.6 151.7,117.6 154.7,118.4 157.7,119.1 160.7,119.8 163.7,120.3 166.7,120.8 169.7,121.2 172.7,121.6 175.7,121.9 178.7,122.2 181.7,122.4 184.7,122.6 187.7,122.8 190.7,122.9 193.7,123.1 196.7,123.2 199.7,123.3 202.7,123.4 205.7,123.4 208.7,123.5 211.7,123.6 214.7,123.6 217.7,123.6 220.7,123.7 223.7,123.7 226.7,123.7 229.7,123.8 260.0,123.9 397.0,123.9 591.4,113.0 597.9,177.1" fill="none" stroke="#0000ff" stroke-width="4.0" stroke-opacity="0.100" stroke-linejoin="round" /><polyline points="61.7,47.1 64.7,47.9 67.7,48.9 70.7,50.0 73.7,51.3 76.7,52.9 79.7,54.7 82.7,56.8 85.7,59.2 88.7,61.9 91.7,64.9 94.7,68.1 97.7,71.6 100.7,75.2 103.7,79.0 106.7,82.7 109.7,86.4 112.7,90.0 115.7,93.5 118.7,96.7 121.7,99.8 124.7,102.5 127.7,105.1 130.7,107.4 133.7,109.4 136.7,111.2 139.7,112.8 142.7,114.3 145.7,115.5 148.7,116.6 151.7,117.6 154.7,118.4 157.7,119.1 160.7,119.8 163.7,120.3 166.7,120.8 169.7,121.2 172.7,121.6 175.7,121.9 178.7,122.2 181.7,122.4 184.7,122.6 187.7,122.8 190.7,122.9 193.7,123.1 196.7,123.2 199.7,123.3 202.7,123.4 205.7,123.4 208.7,123.5 211.7,123.6 214.7,123.6 217.7,123.6 220.7,123.7 223.7,123.7 226.7,123.7 229.7,123.8 260.0,123.9 397.0,123.9 591.4,109.1 597.9,177.1" fill="none" stroke="#0000ff" stroke-width="4.0" stroke-opacity="0.100" stroke-linejoin="round" /><polyline points="61.7,47.1 64.7,47.9 67.7,48.9 70.7,50.0 73.7,51.3 76.7,52.9 79.7,54.7 82.7,56.8 85.7,59.2 88.7,61.9 91.7,64.9 94.7,68.1 97.7,71.6 100.7,75.2 103.7,79.0 106.7,82.7 109.7,86.4 112.7,90.0 115.7,93.5 118.7,96.7 121.7,99.8 124.7,102.5 127.7,105.1 130.7,107.4 133.7,109.4 136.7,111.2 139.7,112.8 142.7,114.3 145.7,115.5 148.7,116.6 151.7,117.6 154.7,118.4 157.7,119.1 160.7,119.8 163.7,120.3 166.7,120.8 169.7,121.2 172.7,121.6 175.7,121.9 178.7,122.2 181.7,122.4 184.7,122.6 187.7,122.8 190.7,122.9 193.7,123.1 196.7,123.2 199.7,123.3 202.7,123.4 205.7,123.4 208.7,123.5 211.7,123.6 214.7,123.6 217.7,123.6 220.7,123.7 223.7,123.7 226.7,123.7 229.7,123.8 260.0,123.9 397.0,123.9 591.4,102.4 597.9,177.1" fill="none" stroke="#0000ff" stroke-width="4.0" stroke-opacity="0.100" stroke-linejoin="round" /><polyline points="61.7,47.1 64.7,47.9 67.7,48.9 70.7,50.0 73.7,51.3 76.7,52.9 79.7,54.7 82.7,56.8 85.7,59.2 88.7,61.9 91.7,64.9 94.7,68.1 97.7,71.6 100.7,75.2 103.7,79.0 106.7,82.7 109.7,86.4 112.7,90.0 115.7,93.5 118.7,96.7 121.7,99.8 124.7,102.5 127.7,105.1 130.7,107.4 133.7,109.4 136.7,111.2 139.7,112.8 142.7,114.3 145.7,115.5 148.7,116.6 151.7,117.6 154.7,118.4 157.7,119.1 160.7,119.8 163.7,120.3 166.7,120.8 169.7,121.2 172.7,121.6 175.7,121.9 178.7,122.2 181.7,122.4 184.7,122.6 187.7,122.8 190.7,122.9 193.7,123.1 196.7,123.2 199.7,123.3 202.7,123.4 205.7,123.4 208.7,123.5 211.7,123.6 214.7,123.6 217.7,123.6 220.7,123.7 223.7,123.7 226.7,123.7 229.7,123.8 260.0,123.9 397.0,123.9 591.4,99.2 597.9,177.1" fill="none" stroke="#0000ff" stroke-width="4.0" stroke-opacity="0.100" stroke-linejoin="round" /><polyline points="61.7,47.1 64.7,47.9 67.7,48.9 70.7,50.0 73.7,51.3 76.7,52.9 79.7,54.7 82.7,56.8 85.7,59.2 88.7,61.9 91.7,64.9 94.7,68.1 97.7,71.6 100.7,75.2 103.7,79.0 106.7,82.7 109.7,86.4 112.7,90.0 115.7,93.5 118.7,96.7 121.7,99.8 124.7,102.5 127.7,105.1 130.7,107.4 133.7,109.4 136.7,111.2 139.7,112.8 142.7,114.3 145.7,115.5 148.7,116.6 151.7,117.6 154.7,118.4 157.7,119.1 160.7,119.8 163.7,120.3 166.7,120.8 169.7,121.2 172.7,121.6 175.7,121.9 178.7,122.2 181.7,122.4 184.7,122.6 187.7,122.8 190.7,122.9 193.7,123.1 196.7,123.2 199.7,123.3 202.7,123.4 205.7,123.4 208.7,123.5 211.7,123.6 214.7,123.6 217.7,123.6 220.7,123.7 223.7,123.7 226.7,123.7 229.7,123.8 260.0,123.9 397.0,123.9 591.4,92.0 597.9,177.1" fill="none" stroke="#0000ff" stroke-width="4.0" stroke-opacity="0.100" stroke-linejoin="round" /><polyline points="61.7,47.1 64.7,47.9 67.7,48.9 70.7,50.0 73.7,51.3 76.7,52.9 79.7,54.7 82.7,56.8 85.7,59.2 88.7,61.9 91.7,64.9 94.7,68.1 97.7,71.6 100.7,75.2 103.7,79.0 106.7,82.7 109.7,86.4 112.7,90.0 115.7,93.5 118.7,96.7 121.7,99.8 124.7,102.5 127.7,105.1 130.7,107.4 133.7,109.4 136.7,111.2 139.7,112.8 142.7,114.3 145.7,115.5 148.7,116.6 151.7,117.6 154.7,118.4 157.7,119.1 160.7,119.8 163.7,120.3 166.7,120.8 169.7,121.2 172.7,121.6 175.7,121.9 178.7,122.2 181.7,122.4 184.7,122.6 187.7,122.8 190.7,122.9 193.7,123.1 196.7,123.2 199.7,123.3 202.7,123.4 205.7,123.4 208.7,123.5 211.7,123.6 214.7,123.6 217.7,123.6 220.7,123.7 223.7,123.7 226.7,123.7 229.7,123.8 260.0,123.9 397.0,123.9 591.4,89.5 597.9,177.1" fill="none" stroke="#0000ff" stroke-width="4.0" stroke-opacity="0.100" stroke-linejoin="round" /><polyline points="61.7,47.1 64.7,47.9 67.7,48.9 70.7,50.0 73.7,51.3 76.7,52.9 79.7,54.7 82.7,56.8 85.7,59.2 88.7,61.9 91.7,64.9 94.7,68.1 97.7,71.6 100.7,75.2 103.7,79.0 106.7,82.7 109.7,86.4 112.7,90.0 115.7,93.5 118.7,96.7 121.7,99.8 124.7,102.5 127.7,105.1 130.7,107.4 133.7,109.4 136.7,111.2 139.7,112.8 142.7,114.3 145.7,115.5 148.7,116.6 151.7,117.6 154.7,118.4 157.7,119.1 160.7,119.8 163.7,120.3 166.7,120.8 169.7,121.2 172.7,121.6 175.7,121.9 178.7,122.2 181.7,122.4 184.7,122.6 187.7,122.8 190.7,122.9 193.7,123.1 196.7,123.2 199.7,123.3 202.7,123.4 205.7,123.4 208.7,123.5 211.7,123.6 214.7,123.6 217.7,123.6 220.7,123.7 223.7,123.7 226.7,123.7 229.7,123.8 260.0,123.9 397.0,123.9 591.4,85.3 597.9,177.1" fill="none" stroke="#0000ff" stroke-width="4.0" stroke-opacity="0.100" stroke-linejoin="round" /><polyline points="61.7,47.1 64.7,47.9 67.7,48.9 70.7,50.0 73.7,51.3 76.7,52.9 79.7,54.7 82.7,56.8 85.7,59.2 88.7,61.9 91.7,64.9 94.7,68.1 97.7,71.6 100.7,75.2 103.7,79.0 106.7,82.7 109.7,86.4 112.7,90.0 115.7,93.5 118.7,96.7 121.7,99.8 124.7,102.5 127.7,105.1 130.7,107.4 133.7,109.4 136.7,111.2 139.7,112.8 142.7,114.3 145.7,115.5 148.7,116.6 151.7,117.6 154.7,118.4 157.7,119.1 160.7,119.8 163.7,120.3 166.7,120.8 169.7,121.2 172.7,121.6 175.7,121.9 178.7,122.2 181.7,122.4 184.7,122.6 187.7,122.8 190.7,122.9 193.7,123.1 196.7,123.2 199.7,123.3 202.7,123.4 205.7,123.4 208.7,123.5 211.7,123.6 214.7,123.6 217.7,123.6 220.7,123.7 223.7,123.7 226.7,123.7 229.7,123.8 260.0,123.9 397.0,123.9 591.4,79.9 597.9,177.1" fill="none" stroke="#0000ff" stroke-width="4.0" stroke-opacity="0.100" stroke-linejoin="round" /><polyline points="61.7,47.1 64.7,47.9 67.7,48.9 70.7,50.0 73.7,51.3 76.7,52.9 79.7,54.7 82.7,56.8 85.7,59.2 88.7,61.9 91.7,64.9 94.7,68.1 97.7,71.6 100.7,75.2 103.7,79.0 106.7,82.7 109.7,86.4 112.7,90.0 115.7,93.5 118.7,96.7 121.7,99.8 124.7,102.5 127.7,105.1 130.7,107.4 133.7,109.4 136.7,111.2 139.7,112.8 142.7,114.3 145.7,115.5 148.7,116.6 151.7,117.6 154.7,118.4 157.7,119.1 160.7,119.8 163.7,120.3 166.7,120.8 169.7,121.2 172.7,121.6 175.7,121.9 178.7,122.2 181.7,122.4 184.7,122.6 187.7,122.8 190.7,122.9 193.7,123.1 196.7,123.2 199.7,123.3 202.7,123.4 205.7,123.4 208.7,123.5 211.7,123.6 214.7,123.6 217.7,123.6 220.7,123.7 223.7,123.7 226.7,123.7 229.7,123.8 260.0,123.9 397.0,123.9 591.4,74.5 597.9,177.1" fill="none" stroke="#0000ff" stroke-width="4.0" stroke-opacity="0.100" stroke-linejoin="round" /><polyline points="61.7,47.1 64.7,47.9 67.7,48.9 70.7,50.0 73.7,51.3 76.7,52.9 79.7,54.7 82.7,56.8 85.7,59.2 88.7,61.9 91.7,64.9 94.7,68.1 97.7,71.6 100.7,75.2 103.7,79.0 106.7,82.7 109.7,86.4 112.7,90.0 115.7,93.5 118.7,96.7 121.7,99.8 124.7,102.5 127.7,105.1 130.7,107.4 133.7,109.4 136.7,111.2 139.7,112.8 142.7,114.3 145.7,115.5 148.7,116.6 151.7,117.6 154.7,118.4 157.7,119.1 160.7,119.8 163.7,120.3 166.7,120.8 169.7,121.2 172.7,121.6 175.7,121.9 178.7,122.2 181.7,122.4 184.7,122.6 187.7,122.8 190.7,122.9 193.7,123.1 196.7,123.2 199.7,123.3 202.7,123.4 205.7,123.4 208.7,123.5 211.7,123.6 214.7,123.6 217.7,123.6 220.7,123.7 223.7,123.7 226.7,123.7 229.7,123.8 260.0,123.9 397.0,123.9 591.4,69.3 597.9,177.1" fill="none" stroke="#0000ff" stroke-width="4.0" stroke-opacity="0.100" stroke-linejoin="round" /><polyline points="61.7,47.1 64.7,47.9 67.7,48.9 70.7,50.0 73.7,51.3 76.7,52.9 79.7,54.7 82.7,56.8 85.7,59.2 88.7,61.9 91.7,64.9 94.7,68.1 97.7,71.6 100.7,75.2 103.7,79.0 106.7,82.7 109.7,86.4 112.7,90.0 115.7,93.5 118.7,96.7 121.7,99.8 124.7,102.5 127.7,105.1 130.7,107.4 133.7,109.4 136.7,111.2 139.7,112.8 142.7,114.3 145.7,115.5 148.7,116.6 151.7,117.6 154.7,118.4 157.7,119.1 160.7,119.8 163.7,120.3 166.7,120.8 169.7,121.2 172.7,121.6 175.7,121.9 178.7,122.2 181.7,122.4 184.7,122.6 187.7,122.8 190.7,122.9 193.7,123.1 196.7,123.2 199.7,123.3 202.7,123.4 205.7,123.4 208.7,123.5 211.7,123.6 214.7,123.6 217.7,123.6 220.7,123.7 223.7,123.7 226.7,123.7 229.7,123.8 260.0,123.9 397.0,123.9 591.4,63.0 597.9,177.1" fill="none" stroke="#0000ff" stroke-width="4.0" stroke-opacity="0.100" stroke-linejoin="round" /><polyline points="61.7,47.1 64.7,47.9 67.7,48.9 70.7,50.0 73.7,51.3 76.7,52.9 79.7,54.7 82.7,56.8 85.7,59.2 88.7,61.9 91.7,64.9 94.7,68.1 97.7,71.6 100.7,75.2 103.7,79.0 106.7,82.7 109.7,86.4 112.7,90.0 115.7,93.5 118.7,96.7 121.7,99.8 124.7,102.5 127.7,105.1 130.7,107.4 133.7,109.4 136.7,111.2 139.7,112.8 142.7,114.3 145.7,115.5 148.7,116.6 151.7,117.6 154.7,118.4 157.7,119.1 160.7,119.8 163.7,120.3 166.7,120.8 169.7,121.2 172.7,121.6 175.7,121.9 178.7,122.2 181.7,122.4 184.7,122.6 187.7,122.8 190.7,122.9 193.7,123.1 196.7,123.2 199.7,123.3 202.7,123.4 205.7,123.4 208.7,123.5 211.7,123.6 214.7,123.6 217.7,123.6 220.7,123.7 223.7,123.7 226.7,123.7 229.7,123.8 260.0,123.9 397.0,123.9 591.4,58.8 597.9,177.1" fill="none" stroke="#0000ff" stroke-width="4.0" stroke-opacity="0.100" stroke-linejoin="round" /><polyline points="61.7,47.1 64.7,47.9 67.7,48.9 70.7,50.0 73.7,51.3 76.7,52.9 79.7,54.7 82.7,56.8 85.7,59.2 88.7,61.9 91.7,64.9 94.7,68.1 97.7,71.6 100.7,75.2 103.7,79.0 106.7,82.7 109.7,86.4 112.7,90.0 115.7,93.5 118.7,96.7 121.7,99.8 124.7,102.5 127.7,105.1 130.7,107.4 133.7,109.4 136.7,111.2 139.7,112.8 142.7,114.3 145.7,115.5 148.7,116.6 151.7,117.6 154.7,118.4 157.7,119.1 160.7,119.8 163.7,120.3 166.7,120.8 169.7,121.2 172.7,121.6 175.7,121.9 178.7,122.2 181.7,122.4 184.7,122.6 187.7,122.8 190.7,122.9 193.7,123.1 196.7,123.2 199.7,123.3 202.7,123.4 205.7,123.4 208.7,123.5 211.7,123.6 214.7,123.6 217.7,123.6 220.7,123.7 223.7,123.7 226.7,123.7 229.7,123.8 260.0,123.9 397.0,123.9 591.4,55.2 597.9,177.1" fill="none" stroke="#0000ff" stroke-width="4.0" stroke-opacity="0.100" stroke-linejoin="round" /><polyline points="61.7,47.1 64.7,47.9 67.7,48.9 70.7,50.0 73.7,51.3 76.7,52.9 79.7,54.7 82.7,56.8 85.7,59.2 88.7,61.9 91.7,64.9 94.7,68.1 97.7,71.6 100.7,75.2 103.7,79.0 106.7,82.7 109.7,86.4 112.7,90.0 115.7,93.5 118.7,96.7 121.7,99.8 124.7,102.5 127.7,105.1 130.7,107.4 133.7,109.4 136.7,111.2 139.7,112.8 142.7,114.3 145.7,115.5 148.7,116.6 151.7,117.6 154.7,118.4 157.7,119.1 160.7,119.8 163.7,120.3 166.7,120.8 169.7,121.2 172.7,121.6 175.7,121.9 178.7,122.2 181.7,122.4 184.7,122.6 187.7,122.8 190.7,122.9 193.7,123.1 196.7,123.2 199.7,123.3 202.7,123.4 205.7,123.4 208.7,123.5 211.7,123.6 214.7,123.6 217.7,123.6 220.7,123.7 223.7,123.7 226.7,123.7 229.7,123.8 260.0,123.9 397.0,123.9 591.4,51.5 597.9,177.1" fill="none" stroke="#0000ff" stroke-width="4.0" stroke-opacity="0.100" stroke-linejoin="round" /><polyline points="61.7,47.1 64.7,47.9 67.7,48.9 70.7,50.0 73.7,51.3 76.7,52.9 79.7,54.7 82.7,56.8 85.7,59.2 88.7,61.9 91.7,64.9 94.7,68.1 97.7,71.6 100.7,75.2 103.7,79.0 106.7,82.7 109.7,86.4 112.7,90.0 115.7,93.5 118.7,96.7 121.7,99.8 124.7,102.5 127.7,105.1 130.7,107.4 133.7,109.4 136.7,111.2 139.7,112.8 142.7,114.3 145.7,115.5 148.7,116.6 151.7,117.6 154.7,118.4 157.7,119.1 160.7,119.8 163.7,120.3 166.7,120.8 169.7,121.2 172.7,121.6 175.7,121.9 178.7,122.2 181.7,122.4 184.7,122.6 187.7,122.8 190.7,122.9 193.7,123.1 196.7,123.2 199.7,123.3 202.7,123.4 205.7,123.4 208.7,123.5 211.7,123.6 214.7,123.6 217.7,123.6 220.7,123.7 223.7,123.7 226.7,123.7 229.7,123.8 260.0,123.9 397.0,123.9 591.4,46.1 597.9,177.1" fill="none" stroke="#0000ff" stroke-width="4.0" stroke-opacity="0.100" stroke-linejoin="round" /><polyline points="61.7,47.1 64.7,47.9 67.7,48.9 70.7,50.0 73.7,51.3 76.7,52.9 79.7,54.7 82.7,56.8 85.7,59.2 88.7,61.9 91.7,64.9 94.7,68.1 97.7,71.6 100.7,75.2 103.7,79.0 106.7,82.7 109.7,86.4 112.7,90.0 115.7,93.5 118.7,96.7 121.7,99.8 124.7,102.5 127.7,105.1 130.7,107.4 133.7,109.4 136.7,111.2 139.7,112.8 142.7,114.3 145.7,115.5 148.7,116.6 151.7,117.6 154.7,118.4 157.7,119.1 160.7,119.8 163.7,120.3 166.7,120.8 169.7,121.2 172.7,121.6 175.7,121.9 178.7,122.2 181.7,122.4 184.7,122.6 187.7,122.8 190.7,122.9 193.7,123.1 196.7,123.2 199.7,123.3 202.7,123.4 205.7,123.4 208.7,123.5 211.7,123.6 214.7,123.6 217.7,123.6 220.7,123.7 223.7,123.7 226.7,123.7 229.7,123.8 260.0,123.9 397.0,123.9 591.4,38.5 597.9,177.1" fill="none" stroke="#0000ff" stroke-width="4.0" stroke-opacity="0.100" stroke-linejoin="round" /><polyline points="61.7,47.3 64.7,48.1 67.7,49.1 70.7,50.3 73.7,51.7 76.7,53.3 79.7,55.2 82.7,57.4 85.7,60.0 88.7,62.8 91.7,65.9 94.7,69.3 97.7,73.0 100.7,76.8 103.7,80.7 106.7,84.6 109.7,88.5 112.7,92.3 115.7,95.9 118.7,99.3 121.7,102.5 124.7,105.4 127.7,108.1 130.7,110.5 133.7,112.6 136.7,114.5 139.7,116.2 142.7,117.7 145.7,119.1 148.7,120.2 151.7,121.2 154.7,122.1 157.7,122.8 160.7,123.5 163.7,124.1 166.7,124.6 169.7,125.0 172.7,125.4 175.7,125.7 178.7,126.0 181.7,126.3 184.7,126.5 187.7,126.7 190.7,126.8 193.7,127.0 196.7,127.1 199.7,127.2 202.7,127.3 205.7,127.4 208.7,127.4 211.7,127.5 214.7,127.5 217.7,127.6 220.7,127.6 223.7,127.6 226.7,127.7 229.7,127.7 260.0,127.8 397.0,127.8 591.4,118.0 597.9,177.1" fill="none" stroke="#0000ff" stroke-width="4.0" stroke-opacity="0.100" stroke-linejoin="round" /><polyline points="61.7,47.3 64.7,48.1 67.7,49.1 70.7,50.3 73.7,51.7 76.7,53.3 79.7,55.2 82.7,57.4 85.7,60.0 88.7,62.8 91.7,65.9 94.7,69.3 97.7,73.0 100.7,76.8 103.7,80.7 106.7,84.6 109.7,88.5 112.7,92.3 115.7,95.9 118.7,99.3 121.7,102.5 124.7,105.4 127.7,108.1 130.7,110.5 133.7,112.6 136.7,114.5 139.7,116.2 142.7,117.7 145.7,119.1 148.7,120.2 151.7,121.2 154.7,122.1 157.7,122.8 160.7,123.5 163.7,124.1 166.7,124.6 169.7,125.0 172.7,125.4 175.7,125.7 178.7,126.0 181.7,126.3 184.7,126.5 187.7,126.7 190.7,126.8 193.7,127.0 196.7,127.1 199.7,127.2 202.7,127.3 205.7,127.4 208.7,127.4 211.7,127.5 214.7,127.5 217.7,127.6 220.7,127.6 223.7,127.6 226.7,127.7 229.7,127.7 260.0,127.8 397.0,127.8 591.4,113.3 597.9,177.1" fill="none" stroke="#0000ff" stroke-width="4.0" stroke-opacity="0.100" stroke-linejoin="round" /><polyline points="61.7,47.3 64.7,48.1 67.7,49.1 70.7,50.3 73.7,51.7 76.7,53.3 79.7,55.2 82.7,57.4 85.7,60.0 88.7,62.8 91.7,65.9 94.7,69.3 97.7,73.0 100.7,76.8 103.7,80.7 106.7,84.6 109.7,88.5 112.7,92.3 115.7,95.9 118.7,99.3 121.7,102.5 124.7,105.4 127.7,108.1 130.7,110.5 133.7,112.6 136.7,114.5 139.7,116.2 142.7,117.7 145.7,119.1 148.7,120.2 151.7,121.2 154.7,122.1 157.7,122.8 160.7,123.5 163.7,124.1 166.7,124.6 169.7,125.0 172.7,125.4 175.7,125.7 178.7,126.0 181.7,126.3 184.7,126.5 187.7,126.7 190.7,126.8 193.7,127.0 196.7,127.1 199.7,127.2 202.7,127.3 205.7,127.4 208.7,127.4 211.7,127.5 214.7,127.5 217.7,127.6 220.7,127.6 223.7,127.6 226.7,127.7 229.7,127.7 260.0,127.8 397.0,127.8 591.4,111.0 597.9,177.1" fill="none" stroke="#0000ff" stroke-width="4.0" stroke-opacity="0.100" stroke-linejoin="round" /><polyline points="61.7,47.3 64.7,48.1 67.7,49.1 70.7,50.3 73.7,51.7 76.7,53.3 79.7,55.2 82.7,57.4 85.7,60.0 88.7,62.8 91.7,65.9 94.7,69.3 97.7,73.0 100.7,76.8 103.7,80.7 106.7,84.6 109.7,88.5 112.7,92.3 115.7,95.9 118.7,99.3 121.7,102.5 124.7,105.4 127.7,108.1 130.7,110.5 133.7,112.6 136.7,114.5 139.7,116.2 142.7,117.7 145.7,119.1 148.7,120.2 151.7,121.2 154.7,122.1 157.7,122.8 160.7,123.5 163.7,124.1 166.7,124.6 169.7,125.0 172.7,125.4 175.7,125.7 178.7,126.0 181.7,126.3 184.7,126.5 187.7,126.7 190.7,126.8 193.7,127.0 196.7,127.1 199.7,127.2 202.7,127.3 205.7,127.4 208.7,127.4 211.7,127.5 214.7,127.5 217.7,127.6 220.7,127.6 223.7,127.6 226.7,127.7 229.7,127.7 260.0,127.8 397.0,127.8 591.4,107.0 597.9,177.1" fill="none" stroke="#0000ff" stroke-width="4.0" stroke-opacity="0.100" stroke-linejoin="round" /><polyline points="61.7,47.3 64.7,48.1 67.7,49.1 70.7,50.3 73.7,51.7 76.7,53.3 79.7,55.2 82.7,57.4 85.7,60.0 88.7,62.8 91.7,65.9 94.7,69.3 97.7,73.0 100.7,76.8 103.7,80.7 106.7,84.6 109.7,88.5 112.7,92.3 115.7,95.9 118.7,99.3 121.7,102.5 124.7,105.4 127.7,108.1 130.7,110.5 133.7,112.6 136.7,114.5 139.7,116.2 142.7,117.7 145.7,119.1 148.7,120.2 151.7,121.2 154.7,122.1 157.7,122.8 160.7,123.5 163.7,124.1 166.7,124.6 169.7,125.0 172.7,125.4 175.7,125.7 178.7,126.0 181.7,126.3 184.7,126.5 187.7,126.7 190.7,126.8 193.7,127.0 196.7,127.1 199.7,127.2 202.7,127.3 205.7,127.4 208.7,127.4 211.7,127.5 214.7,127.5 217.7,127.6 220.7,127.6 223.7,127.6 226.7,127.7 229.7,127.7 260.0,127.8 397.0,127.8 591.4,100.5 597.9,177.1" fill="none" stroke="#0000ff" stroke-width="4.0" stroke-opacity="0.100" stroke-linejoin="round" /><polyline points="61.7,47.3 64.7,48.1 67.7,49.1 70.7,50.3 73.7,51.7 76.7,53.3 79.7,55.2 82.7,57.4 85.7,60.0 88.7,62.8 91.7,65.9 94.7,69.3 97.7,73.0 100.7,76.8 103.7,80.7 106.7,84.6 109.7,88.5 112.7,92.3 115.7,95.9 118.7,99.3 121.7,102.5 124.7,105.4 127.7,108.1 130.7,110.5 133.7,112.6 136.7,114.5 139.7,116.2 142.7,117.7 145.7,119.1 148.7,120.2 151.7,121.2 154.7,122.1 157.7,122.8 160.7,123.5 163.7,124.1 166.7,124.6 169.7,125.0 172.7,125.4 175.7,125.7 178.7,126.0 181.7,126.3 184.7,126.5 187.7,126.7 190.7,126.8 193.7,127.0 196.7,127.1 199.7,127.2 202.7,127.3 205.7,127.4 208.7,127.4 211.7,127.5 214.7,127.5 217.7,127.6 220.7,127.6 223.7,127.6 226.7,127.7 229.7,127.7 260.0,127.8 397.0,127.8 591.4,97.2 597.9,177.1" fill="none" stroke="#0000ff" stroke-width="4.0" stroke-opacity="0.100" stroke-linejoin="round" /><polyline points="61.7,47.3 64.7,48.1 67.7,49.1 70.7,50.3 73.7,51.7 76.7,53.3 79.7,55.2 82.7,57.4 85.7,60.0 88.7,62.8 91.7,65.9 94.7,69.3 97.7,73.0 100.7,76.8 103.7,80.7 106.7,84.6 109.7,88.5 112.7,92.3 115.7,95.9 118.7,99.3 121.7,102.5 124.7,105.4 127.7,108.1 130.7,110.5 133.7,112.6 136.7,114.5 139.7,116.2 142.7,117.7 145.7,119.1 148.7,120.2 151.7,121.2 154.7,122.1 157.7,122.8 160.7,123.5 163.7,124.1 166.7,124.6 169.7,125.0 172.7,125.4 175.7,125.7 178.7,126.0 181.7,126.3 184.7,126.5 187.7,126.7 190.7,126.8 193.7,127.0 196.7,127.1 199.7,127.2 202.7,127.3 205.7,127.4 208.7,127.4 211.7,127.5 214.7,127.5 217.7,127.6 220.7,127.6 223.7,127.6 226.7,127.7 229.7,127.7 260.0,127.8 397.0,127.8 591.4,93.9 597.9,177.1" fill="none" stroke="#0000ff" stroke-width="4.0" stroke-opacity="0.100" stroke-linejoin="round" /><polyline points="61.7,47.3 64.7,48.1 67.7,49.1 70.7,50.3 73.7,51.7 76.7,53.3 79.7,55.2 82.7,57.4 85.7,60.0 88.7,62.8 91.7,65.9 94.7,69.3 97.7,73.0 100.7,76.8 103.7,80.7 106.7,84.6 109.7,88.5 112.7,92.3 115.7,95.9 118.7,99.3 121.7,102.5 124.7,105.4 127.7,108.1 130.7,110.5 133.7,112.6 136.7,114.5 139.7,116.2 142.7,117.7 145.7,119.1 148.7,120.2 151.7,121.2 154.7,122.1 157.7,122.8 160.7,123.5 163.7,124.1 166.7,124.6 169.7,125.0 172.7,125.4 175.7,125.7 178.7,126.0 181.7,126.3 184.7,126.5 187.7,126.7 190.7,126.8 193.7,127.0 196.7,127.1 199.7,127.2 202.7,127.3 205.7,127.4 208.7,127.4 211.7,127.5 214.7,127.5 217.7,127.6 220.7,127.6 223.7,127.6 226.7,127.7 229.7,127.7 260.0,127.8 397.0,127.8 591.4,89.7 597.9,177.1" fill="none" stroke="#0000ff" stroke-width="4.0" stroke-opacity="0.100" stroke-linejoin="round" /><polyline points="61.7,47.3 64.7,48.1 67.7,49.1 70.7,50.3 73.7,51.7 76.7,53.3 79.7,55.2 82.7,57.4 85.7,60.0 88.7,62.8 91.7,65.9 94.7,69.3 97.7,73.0 100.7,76.8 103.7,80.7 106.7,84.6 109.7,88.5 112.7,92.3 115.7,95.9 118.7,99.3 121.7,102.5 124.7,105.4 127.7,108.1 130.7,110.5 133.7,112.6 136.7,114.5 139.7,116.2 142.7,117.7 145.7,119.1 148.7,120.2 151.7,121.2 154.7,122.1 157.7,122.8 160.7,123.5 163.7,124.1 166.7,124.6 169.7,125.0 172.7,125.4 175.7,125.7 178.7,126.0 181.7,126.3 184.7,126.5 187.7,126.7 190.7,126.8 193.7,127.0 196.7,127.1 199.7,127.2 202.7,127.3 205.7,127.4 208.7,127.4 211.7,127.5 214.7,127.5 217.7,127.6 220.7,127.6 223.7,127.6 226.7,127.7 229.7,127.7 260.0,127.8 397.0,127.8 591.4,86.3 597.9,177.1" fill="none" stroke="#0000ff" stroke-width="4.0" stroke-opacity="0.100" stroke-linejoin="round" /><polyline points="61.7,47.3 64.7,48.1 67.7,49.1 70.7,50.3 73.7,51.7 76.7,53.3 79.7,55.2 82.7,57.4 85.7,60.0 88.7,62.8 91.7,65.9 94.7,69.3 97.7,73.0 100.7,76.8 103.7,80.7 106.7,84.6 109.7,88.5 112.7,92.3 115.7,95.9 118.7,99.3 121.7,102.5 124.7,105.4 127.7,108.1 130.7,110.5 133.7,112.6 136.7,114.5 139.7,116.2 142.7,117.7 145.7,119.1 148.7,120.2 151.7,121.2 154.7,122.1 157.7,122.8 160.7,123.5 163.7,124.1 166.7,124.6 169.7,125.0 172.7,125.4 175.7,125.7 178.7,126.0 181.7,126.3 184.7,126.5 187.7,126.7 190.7,126.8 193.7,127.0 196.7,127.1 199.7,127.2 202.7,127.3 205.7,127.4 208.7,127.4 211.7,127.5 214.7,127.5 217.7,127.6 220.7,127.6 223.7,127.6 226.7,127.7 229.7,127.7 260.0,127.8 397.0,127.8 591.4,81.9 597.9,177.1" fill="none" stroke="#0000ff" stroke-width="4.0" stroke-opacity="0.100" stroke-linejoin="round" /><polyline points="61.7,47.3 64.7,48.1 67.7,49.1 70.7,50.3 73.7,51.7 76.7,53.3 79.7,55.2 82.7,57.4 85.7,60.0 88.7,62.8 91.7,65.9 94.7,69.3 97.7,73.0 100.7,76.8 103.7,80.7 106.7,84.6 109.7,88.5 112.7,92.3 115.7,95.9 118.7,99.3 121.7,102.5 124.7,105.4 127.7,108.1 130.7,110.5 133.7,112.6 136.7,114.5 139.7,116.2 142.7,117.7 145.7,119.1 148.7,120.2 151.7,121.2 154.7,122.1 157.7,122.8 160.7,123.5 163.7,124.1 166.7,124.6 169.7,125.0 172.7,125.4 175.7,125.7 178.7,126.0 181.7,126.3 184.7,126.5 187.7,126.7 190.7,126.8 193.7,127.0 196.7,127.1 199.7,127.2 202.7,127.3 205.7,127.4 208.7,127.4 211.7,127.5 214.7,127.5 217.7,127.6 220.7,127.6 223.7,127.6 226.7,127.7 229.7,127.7 260.0,127.8 397.0,127.8 591.4,78.3 597.9,177.1" fill="none" stroke="#0000ff" stroke-width="4.0" stroke-opacity="0.100" stroke-linejoin="round" /><polyline points="61.7,47.3 64.7,48.1 67.7,49.1 70.7,50.3 73.7,51.7 76.7,53.3 79.7,55.2 82.7,57.4 85.7,60.0 88.7,62.8 91.7,65.9 94.7,69.3 97.7,73.0 100.7,76.8 103.7,80.7 106.7,84.6 109.7,88.5 112.7,92.3 115.7,95.9 118.7,99.3 121.7,102.5 124.7,105.4 127.7,108.1 130.7,110.5 133.7,112.6 136.7,114.5 139.7,116.2 142.7,117.7 145.7,119.1 148.7,120.2 151.7,121.2 154.7,122.1 157.7,122.8 160.7,123.5 163.7,124.1 166.7,124.6 169.7,125.0 172.7,125.4 175.7,125.7 178.7,126.0 181.7,126.3 184.7,126.5 187.7,126.7 190.7,126.8 193.7,127.0 196.7,127.1 199.7,127.2 202.7,127.3 205.7,127.4 208.7,127.4 211.7,127.5 214.7,127.5 217.7,127.6 220.7,127.6 223.7,127.6 226.7,127.7 229.7,127.7 260.0,127.8 397.0,127.8 591.4,71.8 597.9,177.1" fill="none" stroke="#0000ff" stroke-width="4.0" stroke-opacity="0.100" stroke-linejoin="round" /><polyline points="61.7,47.3 64.7,48.1 67.7,49.1 70.7,50.3 73.7,51.7 76.7,53.3 79.7,55.2 82.7,57.4 85.7,60.0 88.7,62.8 91.7,65.9 94.7,69.3 97.7,73.0 100.7,76.8 103.7,80.7 106.7,84.6 109.7,88.5 112.7,92.3 115.7,95.9 118.7,99.3 121.7,102.5 124.7,105.4 127.7,108.1 130.7,110.5 133.7,112.6 136.7,114.5 139.7,116.2 142.7,117.7 145.7,119.1 148.7,120.2 151.7,121.2 154.7,122.1 157.7,122.8 160.7,123.5 163.7,124.1 166.7,124.6 169.7,125.0 172.7,125.4 175.7,125.7 178.7,126.0 181.7,126.3 184.7,126.5 187.7,126.7 190.7,126.8 193.7,127.0 196.7,127.1 199.7,127.2 202.7,127.3 205.7,127.4 208.7,127.4 211.7,127.5 214.7,127.5 217.7,127.6 220.7,127.6 223.7,127.6 226.7,127.7 229.7,127.7 260.0,127.8 397.0,127.8 591.4,68.8 597.9,177.1" fill="none" stroke="#0000ff" stroke-width="4.0" stroke-opacity="0.100" stroke-linejoin="round" /><polyline points="61.7,47.3 64.7,48.1 67.7,49.1 70.7,50.3 73.7,51.7 76.7,53.3 79.7,55.2 82.7,57.4 85.7,60.0 88.7,62.8 91.7,65.9 94.7,69.3 97.7,73.0 100.7,76.8 103.7,80.7 106.7,84.6 109.7,88.5 112.7,92.3 115.7,95.9 118.7,99.3 121.7,102.5 124.7,105.4 127.7,108.1 130.7,110.5 133.7,112.6 136.7,114.5 139.7,116.2 142.7,117.7 145.7,119.1 148.7,120.2 151.7,121.2 154.7,122.1 157.7,122.8 160.7,123.5 163.7,124.1 166.7,124.6 169.7,125.0 172.7,125.4 175.7,125.7 178.7,126.0 181.7,126.3 184.7,126.5 187.7,126.7 190.7,126.8 193.7,127.0 196.7,127.1 199.7,127.2 202.7,127.3 205.7,127.4 208.7,127.4 211.7,127.5 214.7,127.5 217.7,127.6 220.7,127.6 223.7,127.6 226.7,127.7 229.7,127.7 260.0,127.8 397.0,127.8 591.4,65.7 597.9,177.1" fill="none" stroke="#0000ff" stroke-width="4.0" stroke-opacity="0.100" stroke-linejoin="round" /><polyline points="61.7,47.3 64.7,48.1 67.7,49.1 70.7,50.3 73.7,51.7 76.7,53.3 79.7,55.2 82.7,57.4 85.7,60.0 88.7,62.8 91.7,65.9 94.7,69.3 97.7,73.0 100.7,76.8 103.7,80.7 106.7,84.6 109.7,88.5 112.7,92.3 115.7,95.9 118.7,99.3 121.7,102.5 124.7,105.4 127.7,108.1 130.7,110.5 133.7,112.6 136.7,114.5 139.7,116.2 142.7,117.7 145.7,119.1 148.7,120.2 151.7,121.2 154.7,122.1 157.7,122.8 160.7,123.5 163.7,124.1 166.7,124.6 169.7,125.0 172.7,125.4 175.7,125.7 178.7,126.0 181.7,126.3 184.7,126.5 187.7,126.7 190.7,126.8 193.7,127.0 196.7,127.1 199.7,127.2 202.7,127.3 205.7,127.4 208.7,127.4 211.7,127.5 214.7,127.5 217.7,127.6 220.7,127.6 223.7,127.6 226.7,127.7 229.7,127.7 260.0,127.8 397.0,127.8 591.4,59.8 597.9,177.1" fill="none" stroke="#0000ff" stroke-width="4.0" stroke-opacity="0.100" stroke-linejoin="round" /><polyline points="61.7,47.3 64.7,48.1 67.7,49.1 70.7,50.3 73.7,51.7 76.7,53.3 79.7,55.2 82.7,57.4 85.7,60.0 88.7,62.8 91.7,65.9 94.7,69.3 97.7,73.0 100.7,76.8 103.7,80.7 106.7,84.6 109.7,88.5 112.7,92.3 115.7,95.9 118.7,99.3 121.7,102.5 124.7,105.4 127.7,108.1 130.7,110.5 133.7,112.6 136.7,114.5 139.7,116.2 142.7,117.7 145.7,119.1 148.7,120.2 151.7,121.2 154.7,122.1 157.7,122.8 160.7,123.5 163.7,124.1 166.7,124.6 169.7,125.0 172.7,125.4 175.7,125.7 178.7,126.0 181.7,126.3 184.7,126.5 187.7,126.7 190.7,126.8 193.7,127.0 196.7,127.1 199.7,127.2 202.7,127.3 205.7,127.4 208.7,127.4 211.7,127.5 214.7,127.5 217.7,127.6 220.7,127.6 223.7,127.6 226.7,127.7 229.7,127.7 260.0,127.8 397.0,127.8 591.4,57.3 597.9,177.1" fill="none" stroke="#0000ff" stroke-width="4.0" stroke-opacity="0.100" stroke-linejoin="round" /><polyline points="61.7,47.3 64.7,48.1 67.7,49.1 70.7,50.3 73.7,51.7 76.7,53.3 79.7,55.2 82.7,57.4 85.7,60.0 88.7,62.8 91.7,65.9 94.7,69.3 97.7,73.0 100.7,76.8 103.7,80.7 106.7,84.6 109.7,88.5 112.7,92.3 115.7,95.9 118.7,99.3 121.7,102.5 124.7,105.4 127.7,108.1 130.7,110.5 133.7,112.6 136.7,114.5 139.7,116.2 142.7,117.7 145.7,119.1 148.7,120.2 151.7,121.2 154.7,122.1 157.7,122.8 160.7,123.5 163.7,124.1 166.7,124.6 169.7,125.0 172.7,125.4 175.7,125.7 178.7,126.0 181.7,126.3 184.7,126.5 187.7,126.7 190.7,126.8 193.7,127.0 196.7,127.1 199.7,127.2 202.7,127.3 205.7,127.4 208.7,127.4 211.7,127.5 214.7,127.5 217.7,127.6 220.7,127.6 223.7,127.6 226.7,127.7 229.7,127.7 260.0,127.8 397.0,127.8 591.4,53.6 597.9,177.1" fill="none" stroke="#0000ff" stroke-width="4.0" stroke-opacity="0.100" stroke-linejoin="round" /><polyline points="61.7,47.3 64.7,48.1 67.7,49.1 70.7,50.3 73.7,51.7 76.7,53.3 79.7,55.2 82.7,57.4 85.7,60.0 88.7,62.8 91.7,65.9 94.7,69.3 97.7,73.0 100.7,76.8 103.7,80.7 106.7,84.6 109.7,88.5 112.7,92.3 115.7,95.9 118.7,99.3 121.7,102.5 124.7,105.4 127.7,108.1 130.7,110.5 133.7,112.6 136.7,114.5 139.7,116.2 142.7,117.7 145.7,119.1 148.7,120.2 151.7,121.2 154.7,122.1 157.7,122.8 160.7,123.5 163.7,124.1 166.7,124.6 169.7,125.0 172.7,125.4 175.7,125.7 178.7,126.0 181.7,126.3 184.7,126.5 187.7,126.7 190.7,126.8 193.7,127.0 196.7,127.1 199.7,127.2 202.7,127.3 205.7,127.4 208.7,127.4 211.7,127.5 214.7,127.5 217.7,127.6 220.7,127.6 223.7,127.6 226.7,127.7 229.7,127.7 260.0,127.8 397.0,127.8 591.4,47.9 597.9,177.1" fill="none" stroke="#0000ff" stroke-width="4.0" stroke-opacity="0.100" stroke-linejoin="round" /><polyline points="61.7,47.3 64.7,48.1 67.7,49.1 70.7,50.3 73.7,51.7 76.7,53.3 79.7,55.2 82.7,57.4 85.7,60.0 88.7,62.8 91.7,65.9 94.7,69.3 97.7,73.0 100.7,76.8 103.7,80.7 106.7,84.6 109.7,88.5 112.7,92.3 115.7,95.9 118.7,99.3 121.7,102.5 124.7,105.4 127.7,108.1 130.7,110.5 133.7,112.6 136.7,114.5 139.7,116.2 142.7,117.7 145.7,119.1 148.7,120.2 151.7,121.2 154.7,122.1 157.7,122.8 160.7,123.5 163.7,124.1 166.7,124.6 169.7,125.0 172.7,125.4 175.7,125.7 178.7,126.0 181.7,126.3 184.7,126.5 187.7,126.7 190.7,126.8 193.7,127.0 196.7,127.1 199.7,127.2 202.7,127.3 205.7,127.4 208.7,127.4 211.7,127.5 214.7,127.5 217.7,127.6 220.7,127.6 223.7,127.6 226.7,127.7 229.7,127.7 260.0,127.8 397.0,127.8 591.4,43.0 597.9,177.1" fill="none" stroke="#0000ff" stroke-width="4.0" stroke-opacity="0.100" stroke-linejoin="round" /><polyline points="61.7,47.3 64.7,48.1 67.7,49.1 70.7,50.3 73.7,51.7 76.7,53.3 79.7,55.2 82.7,57.4 85.7,60.0 88.7,62.8 91.7,65.9 94.7,69.3 97.7,73.0 100.7,76.8 103.7,80.7 106.7,84.6 109.7,88.5 112.7,92.3 115.7,95.9 118.7,99.3 121.7,102.5 124.7,105.4 127.7,108.1 130.7,110.5 133.7,112.6 136.7,114.5 139.7,116.2 142.7,117.7 145.7,119.1 148.7,120.2 151.7,121.2 154.7,122.1 157.7,122.8 160.7,123.5 163.7,124.1 166.7,124.6 169.7,125.0 172.7,125.4 175.7,125.7 178.7,126.0 181.7,126.3 184.7,126.5 187.7,126.7 190.7,126.8 193.7,127.0 196.7,127.1 199.7,127.2 202.7,127.3 205.7,127.4 208.7,127.4 211.7,127.5 214.7,127.5 217.7,127.6 220.7,127.6 223.7,127.6 226.7,127.7 229.7,127.7 260.0,127.8 397.0,127.8 591.4,41.4 597.9,177.1" fill="none" stroke="#0000ff" stroke-width="4.0" stroke-opacity="0.100" stroke-linejoin="round" /><polyline points="61.7,47.3 64.7,48.1 67.7,49.1 70.7,50.3 73.7,51.7 76.7,53.3 79.7,55.2 82.7,57.4 85.7,60.0 88.7,62.8 91.7,65.9 94.7,69.3 97.7,73.0 100.7,76.8 103.7,80.7 106.7,84.6 109.7,88.5 112.7,92.3 115.7,95.9 118.7,99.3 121.7,102.5 124.7,105.4 127.7,108.1 130.7,110.5 133.7,112.6 136.7,114.5 139.7,116.2 142.7,117.7 145.7,119.1 148.7,120.2 151.7,121.2 154.7,122.1 157.7,122.8 160.7,123.5 163.7,124.1 166.7,124.6 169.7,125.0 172.7,125.4 175.7,125.7 178.7,126.0 181.7,126.3 184.7,126.5 187.7,126.7 190.7,126.8 193.7,127.0 196.7,127.1 199.7,127.2 202.7,127.3 205.7,127.4 208.7,127.4 211.7,127.5 214.7,127.5 217.7,127.6 220.7,127.6 223.7,127.6 226.7,127.7 229.7,127.7 260.0,127.8 397.0,127.8 591.4,35.0 597.9,177.1" fill="none" stroke="#0000ff" stroke-width="4.0" stroke-opacity="0.100" stroke-linejoin="round" /><polyline points="61.7,47.3 64.7,48.1 67.7,49.1 70.7,50.3 73.7,51.7 76.7,53.3 79.7,55.2 82.7,57.4 85.7,60.0 88.7,62.8 91.7,65.9 94.7,69.3 97.7,73.0 100.7,76.8 103.7,80.7 106.7,84.6 109.7,88.5 112.7,92.3 115.7,95.9 118.7,99.3 121.7,102.5 124.7,105.4 127.7,108.1 130.7,110.5 133.7,112.6 136.7,114.5 139.7,116.2 142.7,117.7 145.7,119.1 148.7,120.2 151.7,121.2 154.7,122.1 157.7,122.8 160.7,123.5 163.7,124.1 166.7,124.6 169.7,125.0 172.7,125.4 175.7,125.7 178.7,126.0 181.7,126.3 184.7,126.5 187.7,126.7 190.7,126.8 193.7,127.0 196.7,127.1 199.7,127.2 202.7,127.3 205.7,127.4 208.7,127.4 211.7,127.5 214.7,127.5 217.7,127.6 220.7,127.6 223.7,127.6 226.7,127.7 229.7,127.7 260.0,127.8 397.0,127.8 591.4,32.7 597.9,177.1" fill="none" stroke="#0000ff" stroke-width="4.0" stroke-opacity="0.100" stroke-linejoin="round" /><polyline points="61.7,47.5 64.7,48.3 67.7,49.4 70.7,50.6 73.7,52.0 76.7,53.8 79.7,55.8 82.7,58.1 85.7,60.7 88.7,63.7 91.7,67.0 94.7,70.5 97.7,74.3 100.7,78.3 103.7,82.4 106.7,86.5 109.7,90.6 112.7,94.6 115.7,98.4 118.7,101.9 121.7,105.3 124.7,108.3 127.7,111.1 130.7,113.6 133.7,115.9 136.7,117.9 139.7,119.6 142.7,121.2 145.7,122.6 148.7,123.8 151.7,124.8 154.7,125.8 157.7,126.6 160.7,127.3 163.7,127.9 166.7,128.4 169.7,128.8 172.7,129.2 175.7,129.6 178.7,129.9 181.7,130.1 184.7,130.4 187.7,130.5 190.7,130.7 193.7,130.9 196.7,131.0 199.7,131.1 202.7,131.2 205.7,131.3 208.7,131.3 211.7,131.4 214.7,131.5 217.7,131.5 220.7,131.5 223.7,131.6 226.7,131.6 229.7,131.6 260.0,131.8 397.0,131.8 591.4,118.8 597.9,177.1" fill="none" stroke="#0000ff" stroke-width="4.0" stroke-opacity="0.100" stroke-linejoin="round" /><polyline points="61.7,47.5 64.7,48.3 67.7,49.4 70.7,50.6 73.7,52.0 76.7,53.8 79.7,55.8 82.7,58.1 85.7,60.7 88.7,63.7 91.7,67.0 94.7,70.5 97.7,74.3 100.7,78.3 103.7,82.4 106.7,86.5 109.7,90.6 112.7,94.6 115.7,98.4 118.7,101.9 121.7,105.3 124.7,108.3 127.7,111.1 130.7,113.6 133.7,115.9 136.7,117.9 139.7,119.6 142.7,121.2 145.7,122.6 148.7,123.8 151.7,124.8 154.7,125.8 157.7,126.6 160.7,127.3 163.7,127.9 166.7,128.4 169.7,128.8 172.7,129.2 175.7,129.6 178.7,129.9 181.7,130.1 184.7,130.4 187.7,130.5 190.7,130.7 193.7,130.9 196.7,131.0 199.7,131.1 202.7,131.2 205.7,131.3 208.7,131.3 211.7,131.4 214.7,131.5 217.7,131.5 220.7,131.5 223.7,131.6 226.7,131.6 229.7,131.6 260.0,131.8 397.0,131.8 591.4,113.8 597.9,177.1" fill="none" stroke="#0000ff" stroke-width="4.0" stroke-opacity="0.100" stroke-linejoin="round" /><polyline points="61.7,47.5 64.7,48.3 67.7,49.4 70.7,50.6 73.7,52.0 76.7,53.8 79.7,55.8 82.7,58.1 85.7,60.7 88.7,63.7 91.7,67.0 94.7,70.5 97.7,74.3 100.7,78.3 103.7,82.4 106.7,86.5 109.7,90.6 112.7,94.6 115.7,98.4 118.7,101.9 121.7,105.3 124.7,108.3 127.7,111.1 130.7,113.6 133.7,115.9 136.7,117.9 139.7,119.6 142.7,121.2 145.7,122.6 148.7,123.8 151.7,124.8 154.7,125.8 157.7,126.6 160.7,127.3 163.7,127.9 166.7,128.4 169.7,128.8 172.7,129.2 175.7,129.6 178.7,129.9 181.7,130.1 184.7,130.4 187.7,130.5 190.7,130.7 193.7,130.9 196.7,131.0 199.7,131.1 202.7,131.2 205.7,131.3 208.7,131.3 211.7,131.4 214.7,131.5 217.7,131.5 220.7,131.5 223.7,131.6 226.7,131.6 229.7,131.6 260.0,131.8 397.0,131.8 591.4,107.5 597.9,177.1" fill="none" stroke="#0000ff" stroke-width="4.0" stroke-opacity="0.100" stroke-linejoin="round" /><polyline points="61.7,47.5 64.7,48.3 67.7,49.4 70.7,50.6 73.7,52.0 76.7,53.8 79.7,55.8 82.7,58.1 85.7,60.7 88.7,63.7 91.7,67.0 94.7,70.5 97.7,74.3 100.7,78.3 103.7,82.4 106.7,86.5 109.7,90.6 112.7,94.6 115.7,98.4 118.7,101.9 121.7,105.3 124.7,108.3 127.7,111.1 130.7,113.6 133.7,115.9 136.7,117.9 139.7,119.6 142.7,121.2 145.7,122.6 148.7,123.8 151.7,124.8 154.7,125.8 157.7,126.6 160.7,127.3 163.7,127.9 166.7,128.4 169.7,128.8 172.7,129.2 175.7,129.6 178.7,129.9 181.7,130.1 184.7,130.4 187.7,130.5 190.7,130.7 193.7,130.9 196.7,131.0 199.7,131.1 202.7,131.2 205.7,131.3 208.7,131.3 211.7,131.4 214.7,131.5 217.7,131.5 220.7,131.5 223.7,131.6 226.7,131.6 229.7,131.6 260.0,131.8 397.0,131.8 591.4,100.6 597.9,177.1" fill="none" stroke="#0000ff" stroke-width="4.0" stroke-opacity="0.100" stroke-linejoin="round" /><polyline points="61.7,47.5 64.7,48.3 67.7,49.4 70.7,50.6 73.7,52.0 76.7,53.8 79.7,55.8 82.7,58.1 85.7,60.7 88.7,63.7 91.7,67.0 94.7,70.5 97.7,74.3 100.7,78.3 103.7,82.4 106.7,86.5 109.7,90.6 112.7,94.6 115.7,98.4 118.7,101.9 121.7,105.3 124.7,108.3 127.7,111.1 130.7,113.6 133.7,115.9 136.7,117.9 139.7,119.6 142.7,121.2 145.7,122.6 148.7,123.8 151.7,124.8 154.7,125.8 157.7,126.6 160.7,127.3 163.7,127.9 166.7,128.4 169.7,128.8 172.7,129.2 175.7,129.6 178.7,129.9 181.7,130.1 184.7,130.4 187.7,130.5 190.7,130.7 193.7,130.9 196.7,131.0 199.7,131.1 202.7,131.2 205.7,131.3 208.7,131.3 211.7,131.4 214.7,131.5 217.7,131.5 220.7,131.5 223.7,131.6 226.7,131.6 229.7,131.6 260.0,131.8 397.0,131.8 591.4,96.1 597.9,177.1" fill="none" stroke="#0000ff" stroke-width="4.0" stroke-opacity="0.100" stroke-linejoin="round" /><polyline points="61.7,47.5 64.7,48.3 67.7,49.4 70.7,50.6 73.7,52.0 76.7,53.8 79.7,55.8 82.7,58.1 85.7,60.7 88.7,63.7 91.7,67.0 94.7,70.5 97.7,74.3 100.7,78.3 103.7,82.4 106.7,86.5 109.7,90.6 112.7,94.6 115.7,98.4 118.7,101.9 121.7,105.3 124.7,108.3 127.7,111.1 130.7,113.6 133.7,115.9 136.7,117.9 139.7,119.6 142.7,121.2 145.7,122.6 148.7,123.8 151.7,124.8 154.7,125.8 157.7,126.6 160.7,127.3 163.7,127.9 166.7,128.4 169.7,128.8 172.7,129.2 175.7,129.6 178.7,129.9 181.7,130.1 184.7,130.4 187.7,130.5 190.7,130.7 193.7,130.9 196.7,131.0 199.7,131.1 202.7,131.2 205.7,131.3 208.7,131.3 211.7,131.4 214.7,131.5 217.7,131.5 220.7,131.5 223.7,131.6 226.7,131.6 229.7,131.6 260.0,131.8 397.0,131.8 591.4,89.5 597.9,177.1" fill="none" stroke="#0000ff" stroke-width="4.0" stroke-opacity="0.100" stroke-linejoin="round" /><polyline points="61.7,47.5 64.7,48.3 67.7,49.4 70.7,50.6 73.7,52.0 76.7,53.8 79.7,55.8 82.7,58.1 85.7,60.7 88.7,63.7 91.7,67.0 94.7,70.5 97.7,74.3 100.7,78.3 103.7,82.4 106.7,86.5 109.7,90.6 112.7,94.6 115.7,98.4 118.7,101.9 121.7,105.3 124.7,108.3 127.7,111.1 130.7,113.6 133.7,115.9 136.7,117.9 139.7,119.6 142.7,121.2 145.7,122.6 148.7,123.8 151.7,124.8 154.7,125.8 157.7,126.6 160.7,127.3 163.7,127.9 166.7,128.4 169.7,128.8 172.7,129.2 175.7,129.6 178.7,129.9 181.7,130.1 184.7,130.4 187.7,130.5 190.7,130.7 193.7,130.9 196.7,131.0 199.7,131.1 202.7,131.2 205.7,131.3 208.7,131.3 211.7,131.4 214.7,131.5 217.7,131.5 220.7,131.5 223.7,131.6 226.7,131.6 229.7,131.6 260.0,131.8 397.0,131.8 591.4,86.5 597.9,177.1" fill="none" stroke="#0000ff" stroke-width="4.0" stroke-opacity="0.100" stroke-linejoin="round" /><polyline points="61.7,47.5 64.7,48.3 67.7,49.4 70.7,50.6 73.7,52.0 76.7,53.8 79.7,55.8 82.7,58.1 85.7,60.7 88.7,63.7 91.7,67.0 94.7,70.5 97.7,74.3 100.7,78.3 103.7,82.4 106.7,86.5 109.7,90.6 112.7,94.6 115.7,98.4 118.7,101.9 121.7,105.3 124.7,108.3 127.7,111.1 130.7,113.6 133.7,115.9 136.7,117.9 139.7,119.6 142.7,121.2 145.7,122.6 148.7,123.8 151.7,124.8 154.7,125.8 157.7,126.6 160.7,127.3 163.7,127.9 166.7,128.4 169.7,128.8 172.7,129.2 175.7,129.6 178.7,129.9 181.7,130.1 184.7,130.4 187.7,130.5 190.7,130.7 193.7,130.9 196.7,131.0 199.7,131.1 202.7,131.2 205.7,131.3 208.7,131.3 211.7,131.4 214.7,131.5 217.7,131.5 220.7,131.5 223.7,131.6 226.7,131.6 229.7,131.6 260.0,131.8 397.0,131.8 591.4,80.9 597.9,177.1" fill="none" stroke="#0000ff" stroke-width="4.0" stroke-opacity="0.100" stroke-linejoin="round" /><polyline points="61.7,47.5 64.7,48.3 67.7,49.4 70.7,50.6 73.7,52.0 76.7,53.8 79.7,55.8 82.7,58.1 85.7,60.7 88.7,63.7 91.7,67.0 94.7,70.5 97.7,74.3 100.7,78.3 103.7,82.4 106.7,86.5 109.7,90.6 112.7,94.6 115.7,98.4 118.7,101.9 121.7,105.3 124.7,108.3 127.7,111.1 130.7,113.6 133.7,115.9 136.7,117.9 139.7,119.6 142.7,121.2 145.7,122.6 148.7,123.8 151.7,124.8 154.7,125.8 157.7,126.6 160.7,127.3 163.7,127.9 166.7,128.4 169.7,128.8 172.7,129.2 175.7,129.6 178.7,129.9 181.7,130.1 184.7,130.4 187.7,130.5 190.7,130.7 193.7,130.9 196.7,131.0 199.7,131.1 202.7,131.2 205.7,131.3 208.7,131.3 211.7,131.4 214.7,131.5 217.7,131.5 220.7,131.5 223.7,131.6 226.7,131.6 229.7,131.6 260.0,131.8 397.0,131.8 591.4,75.8 597.9,177.1" fill="none" stroke="#0000ff" stroke-width="4.0" stroke-opacity="0.100" stroke-linejoin="round" /><polyline points="61.7,47.5 64.7,48.3 67.7,49.4 70.7,50.6 73.7,52.0 76.7,53.8 79.7,55.8 82.7,58.1 85.7,60.7 88.7,63.7 91.7,67.0 94.7,70.5 97.7,74.3 100.7,78.3 103.7,82.4 106.7,86.5 109.7,90.6 112.7,94.6 115.7,98.4 118.7,101.9 121.7,105.3 124.7,108.3 127.7,111.1 130.7,113.6 133.7,115.9 136.7,117.9 139.7,119.6 142.7,121.2 145.7,122.6 148.7,123.8 151.7,124.8 154.7,125.8 157.7,126.6 160.7,127.3 163.7,127.9 166.7,128.4 169.7,128.8 172.7,129.2 175.7,129.6 178.7,129.9 181.7,130.1 184.7,130.4 187.7,130.5 190.7,130.7 193.7,130.9 196.7,131.0 199.7,131.1 202.7,131.2 205.7,131.3 208.7,131.3 211.7,131.4 214.7,131.5 217.7,131.5 220.7,131.5 223.7,131.6 226.7,131.6 229.7,131.6 260.0,131.8 397.0,131.8 591.4,67.8 597.9,177.1" fill="none" stroke="#0000ff" stroke-width="4.0" stroke-opacity="0.100" stroke-linejoin="round" /><polyline points="61.7,47.5 64.7,48.3 67.7,49.4 70.7,50.6 73.7,52.0 76.7,53.8 79.7,55.8 82.7,58.1 85.7,60.7 88.7,63.7 91.7,67.0 94.7,70.5 97.7,74.3 100.7,78.3 103.7,82.4 106.7,86.5 109.7,90.6 112.7,94.6 115.7,98.4 118.7,101.9 121.7,105.3 124.7,108.3 127.7,111.1 130.7,113.6 133.7,115.9 136.7,117.9 139.7,119.6 142.7,121.2 145.7,122.6 148.7,123.8 151.7,124.8 154.7,125.8 157.7,126.6 160.7,127.3 163.7,127.9 166.7,128.4 169.7,128.8 172.7,129.2 175.7,129.6 178.7,129.9 181.7,130.1 184.7,130.4 187.7,130.5 190.7,130.7 193.7,130.9 196.7,131.0 199.7,131.1 202.7,131.2 205.7,131.3 208.7,131.3 211.7,131.4 214.7,131.5 217.7,131.5 220.7,131.5 223.7,131.6 226.7,131.6 229.7,131.6 260.0,131.8 397.0,131.8 591.4,62.6 597.9,177.1" fill="none" stroke="#0000ff" stroke-width="4.0" stroke-opacity="0.100" stroke-linejoin="round" /><polyline points="61.7,47.5 64.7,48.3 67.7,49.4 70.7,50.6 73.7,52.0 76.7,53.8 79.7,55.8 82.7,58.1 85.7,60.7 88.7,63.7 91.7,67.0 94.7,70.5 97.7,74.3 100.7,78.3 103.7,82.4 106.7,86.5 109.7,90.6 112.7,94.6 115.7,98.4 118.7,101.9 121.7,105.3 124.7,108.3 127.7,111.1 130.7,113.6 133.7,115.9 136.7,117.9 139.7,119.6 142.7,121.2 145.7,122.6 148.7,123.8 151.7,124.8 154.7,125.8 157.7,126.6 160.7,127.3 163.7,127.9 166.7,128.4 169.7,128.8 172.7,129.2 175.7,129.6 178.7,129.9 181.7,130.1 184.7,130.4 187.7,130.5 190.7,130.7 193.7,130.9 196.7,131.0 199.7,131.1 202.7,131.2 205.7,131.3 208.7,131.3 211.7,131.4 214.7,131.5 217.7,131.5 220.7,131.5 223.7,131.6 226.7,131.6 229.7,131.6 260.0,131.8 397.0,131.8 591.4,59.5 597.9,177.1" fill="none" stroke="#0000ff" stroke-width="4.0" stroke-opacity="0.100" stroke-linejoin="round" /><polyline points="61.7,47.5 64.7,48.3 67.7,49.4 70.7,50.6 73.7,52.0 76.7,53.8 79.7,55.8 82.7,58.1 85.7,60.7 88.7,63.7 91.7,67.0 94.7,70.5 97.7,74.3 100.7,78.3 103.7,82.4 106.7,86.5 109.7,90.6 112.7,94.6 115.7,98.4 118.7,101.9 121.7,105.3 124.7,108.3 127.7,111.1 130.7,113.6 133.7,115.9 136.7,117.9 139.7,119.6 142.7,121.2 145.7,122.6 148.7,123.8 151.7,124.8 154.7,125.8 157.7,126.6 160.7,127.3 163.7,127.9 166.7,128.4 169.7,128.8 172.7,129.2 175.7,129.6 178.7,129.9 181.7,130.1 184.7,130.4 187.7,130.5 190.7,130.7 193.7,130.9 196.7,131.0 199.7,131.1 202.7,131.2 205.7,131.3 208.7,131.3 211.7,131.4 214.7,131.5 217.7,131.5 220.7,131.5 223.7,131.6 226.7,131.6 229.7,131.6 260.0,131.8 397.0,131.8 591.4,53.9 597.9,177.1" fill="none" stroke="#0000ff" stroke-width="4.0" stroke-opacity="0.100" stroke-linejoin="round" /><polyline points="61.7,47.5 64.7,48.3 67.7,49.4 70.7,50.6 73.7,52.0 76.7,53.8 79.7,55.8 82.7,58.1 85.7,60.7 88.7,63.7 91.7,67.0 94.7,70.5 97.7,74.3 100.7,78.3 103.7,82.4 106.7,86.5 109.7,90.6 112.7,94.6 115.7,98.4 118.7,101.9 121.7,105.3 124.7,108.3 127.7,111.1 130.7,113.6 133.7,115.9 136.7,117.9 139.7,119.6 142.7,121.2 145.7,122.6 148.7,123.8 151.7,124.8 154.7,125.8 157.7,126.6 160.7,127.3 163.7,127.9 166.7,128.4 169.7,128.8 172.7,129.2 175.7,129.6 178.7,129.9 181.7,130.1 184.7,130.4 187.7,130.5 190.7,130.7 193.7,130.9 196.7,131.0 199.7,131.1 202.7,131.2 205.7,131.3 208.7,131.3 211.7,131.4 214.7,131.5 217.7,131.5 220.7,131.5 223.7,131.6 226.7,131.6 229.7,131.6 260.0,131.8 397.0,131.8 591.4,49.0 597.9,177.1" fill="none" stroke="#0000ff" stroke-width="4.0" stroke-opacity="0.100" stroke-linejoin="round" /><polyline points="61.7,47.5 64.7,48.3 67.7,49.4 70.7,50.6 73.7,52.0 76.7,53.8 79.7,55.8 82.7,58.1 85.7,60.7 88.7,63.7 91.7,67.0 94.7,70.5 97.7,74.3 100.7,78.3 103.7,82.4 106.7,86.5 109.7,90.6 112.7,94.6 115.7,98.4 118.7,101.9 121.7,105.3 124.7,108.3 127.7,111.1 130.7,113.6 133.7,115.9 136.7,117.9 139.7,119.6 142.7,121.2 145.7,122.6 148.7,123.8 151.7,124.8 154.7,125.8 157.7,126.6 160.7,127.3 163.7,127.9 166.7,128.4 169.7,128.8 172.7,129.2 175.7,129.6 178.7,129.9 181.7,130.1 184.7,130.4 187.7,130.5 190.7,130.7 193.7,130.9 196.7,131.0 199.7,131.1 202.7,131.2 205.7,131.3 208.7,131.3 211.7,131.4 214.7,131.5 217.7,131.5 220.7,131.5 223.7,131.6 226.7,131.6 229.7,131.6 260.0,131.8 397.0,131.8 591.4,42.1 597.9,177.1" fill="none" stroke="#0000ff" stroke-width="4.0" stroke-opacity="0.100" stroke-linejoin="round" /><polyline points="61.7,47.5 64.7,48.3 67.7,49.4 70.7,50.6 73.7,52.0 76.7,53.8 79.7,55.8 82.7,58.1 85.7,60.7 88.7,63.7 91.7,67.0 94.7,70.5 97.7,74.3 100.7,78.3 103.7,82.4 106.7,86.5 109.7,90.6 112.7,94.6 115.7,98.4 118.7,101.9 121.7,105.3 124.7,108.3 127.7,111.1 130.7,113.6 133.7,115.9 136.7,117.9 139.7,119.6 142.7,121.2 145.7,122.6 148.7,123.8 151.7,124.8 154.7,125.8 157.7,126.6 160.7,127.3 163.7,127.9 166.7,128.4 169.7,128.8 172.7,129.2 175.7,129.6 178.7,129.9 181.7,130.1 184.7,130.4 187.7,130.5 190.7,130.7 193.7,130.9 196.7,131.0 199.7,131.1 202.7,131.2 205.7,131.3 208.7,131.3 211.7,131.4 214.7,131.5 217.7,131.5 220.7,131.5 223.7,131.6 226.7,131.6 229.7,131.6 260.0,131.8 397.0,131.8 591.4,39.4 597.9,177.1" fill="none" stroke="#0000ff" stroke-width="4.0" stroke-opacity="0.100" stroke-linejoin="round" /><polyline points="61.7,47.5 64.7,48.3 67.7,49.4 70.7,50.6 73.7,52.0 76.7,53.8 79.7,55.8 82.7,58.1 85.7,60.7 88.7,63.7 91.7,67.0 94.7,70.5 97.7,74.3 100.7,78.3 103.7,82.4 106.7,86.5 109.7,90.6 112.7,94.6 115.7,98.4 118.7,101.9 121.7,105.3 124.7,108.3 127.7,111.1 130.7,113.6 133.7,115.9 136.7,117.9 139.7,119.6 142.7,121.2 145.7,122.6 148.7,123.8 151.7,124.8 154.7,125.8 157.7,126.6 160.7,127.3 163.7,127.9 166.7,128.4 169.7,128.8 172.7,129.2 175.7,129.6 178.7,129.9 181.7,130.1 184.7,130.4 187.7,130.5 190.7,130.7 193.7,130.9 196.7,131.0 199.7,131.1 202.7,131.2 205.7,131.3 208.7,131.3 211.7,131.4 214.7,131.5 217.7,131.5 220.7,131.5 223.7,131.6 226.7,131.6 229.7,131.6 260.0,131.8 397.0,131.8 591.4,34.0 597.9,177.1" fill="none" stroke="#0000ff" stroke-width="4.0" stroke-opacity="0.100" stroke-linejoin="round" /><polyline points="61.7,47.7 64.7,48.5 67.7,49.6 70.7,50.9 73.7,52.4 76.7,54.2 79.7,56.3 82.7,58.7 85.7,61.5 88.7,64.6 91.7,68.0 94.7,71.7 97.7,75.7 100.7,79.9 103.7,84.1 106.7,88.5 109.7,92.7 112.7,96.9 115.7,100.8 118.7,104.5 121.7,108.0 124.7,111.2 127.7,114.1 130.7,116.7 133.7,119.1 136.7,121.2 139.7,123.0 142.7,124.7 145.7,126.1 148.7,127.4 151.7,128.5 154.7,129.4 157.7,130.3 160.7,131.0 163.7,131.6 166.7,132.2 169.7,132.6 172.7,133.1 175.7,133.4 178.7,133.7 181.7,134.0 184.7,134.2 187.7,134.4 190.7,134.6 193.7,134.8 196.7,134.9 199.7,135.0 202.7,135.1 205.7,135.2 208.7,135.3 211.7,135.3 214.7,135.4 217.7,135.4 220.7,135.5 223.7,135.5 226.7,135.5 229.7,135.6 260.0,135.7 397.0,135.7 591.4,108.4 597.9,177.1" fill="none" stroke="#0000ff" stroke-width="4.0" stroke-opacity="0.100" stroke-linejoin="round" /><polyline points="61.7,47.7 64.7,48.5 67.7,49.6 70.7,50.9 73.7,52.4 76.7,54.2 79.7,56.3 82.7,58.7 85.7,61.5 88.7,64.6 91.7,68.0 94.7,71.7 97.7,75.7 100.7,79.9 103.7,84.1 106.7,88.5 109.7,92.7 112.7,96.9 115.7,100.8 118.7,104.5 121.7,108.0 124.7,111.2 127.7,114.1 130.7,116.7 133.7,119.1 136.7,121.2 139.7,123.0 142.7,124.7 145.7,126.1 148.7,127.4 151.7,128.5 154.7,129.4 157.7,130.3 160.7,131.0 163.7,131.6 166.7,132.2 169.7,132.6 172.7,133.1 175.7,133.4 178.7,133.7 181.7,134.0 184.7,134.2 187.7,134.4 190.7,134.6 193.7,134.8 196.7,134.9 199.7,135.0 202.7,135.1 205.7,135.2 208.7,135.3 211.7,135.3 214.7,135.4 217.7,135.4 220.7,135.5 223.7,135.5 226.7,135.5 229.7,135.6 260.0,135.7 397.0,135.7 591.4,102.8 597.9,177.1" fill="none" stroke="#0000ff" stroke-width="4.0" stroke-opacity="0.100" stroke-linejoin="round" /><polyline points="61.7,47.7 64.7,48.5 67.7,49.6 70.7,50.9 73.7,52.4 76.7,54.2 79.7,56.3 82.7,58.7 85.7,61.5 88.7,64.6 91.7,68.0 94.7,71.7 97.7,75.7 100.7,79.9 103.7,84.1 106.7,88.5 109.7,92.7 112.7,96.9 115.7,100.8 118.7,104.5 121.7,108.0 124.7,111.2 127.7,114.1 130.7,116.7 133.7,119.1 136.7,121.2 139.7,123.0 142.7,124.7 145.7,126.1 148.7,127.4 151.7,128.5 154.7,129.4 157.7,130.3 160.7,131.0 163.7,131.6 166.7,132.2 169.7,132.6 172.7,133.1 175.7,133.4 178.7,133.7 181.7,134.0 184.7,134.2 187.7,134.4 190.7,134.6 193.7,134.8 196.7,134.9 199.7,135.0 202.7,135.1 205.7,135.2 208.7,135.3 211.7,135.3 214.7,135.4 217.7,135.4 220.7,135.5 223.7,135.5 226.7,135.5 229.7,135.6 260.0,135.7 397.0,135.7 591.4,93.9 597.9,177.1" fill="none" stroke="#0000ff" stroke-width="4.0" stroke-opacity="0.100" stroke-linejoin="round" /><polyline points="61.7,47.7 64.7,48.5 67.7,49.6 70.7,50.9 73.7,52.4 76.7,54.2 79.7,56.3 82.7,58.7 85.7,61.5 88.7,64.6 91.7,68.0 94.7,71.7 97.7,75.7 100.7,79.9 103.7,84.1 106.7,88.5 109.7,92.7 112.7,96.9 115.7,100.8 118.7,104.5 121.7,108.0 124.7,111.2 127.7,114.1 130.7,116.7 133.7,119.1 136.7,121.2 139.7,123.0 142.7,124.7 145.7,126.1 148.7,127.4 151.7,128.5 154.7,129.4 157.7,130.3 160.7,131.0 163.7,131.6 166.7,132.2 169.7,132.6 172.7,133.1 175.7,133.4 178.7,133.7 181.7,134.0 184.7,134.2 187.7,134.4 190.7,134.6 193.7,134.8 196.7,134.9 199.7,135.0 202.7,135.1 205.7,135.2 208.7,135.3 211.7,135.3 214.7,135.4 217.7,135.4 220.7,135.5 223.7,135.5 226.7,135.5 229.7,135.6 260.0,135.7 397.0,135.7 591.4,88.1 597.9,177.1" fill="none" stroke="#0000ff" stroke-width="4.0" stroke-opacity="0.100" stroke-linejoin="round" /><polyline points="61.7,47.7 64.7,48.5 67.7,49.6 70.7,50.9 73.7,52.4 76.7,54.2 79.7,56.3 82.7,58.7 85.7,61.5 88.7,64.6 91.7,68.0 94.7,71.7 97.7,75.7 100.7,79.9 103.7,84.1 106.7,88.5 109.7,92.7 112.7,96.9 115.7,100.8 118.7,104.5 121.7,108.0 124.7,111.2 127.7,114.1 130.7,116.7 133.7,119.1 136.7,121.2 139.7,123.0 142.7,124.7 145.7,126.1 148.7,127.4 151.7,128.5 154.7,129.4 157.7,130.3 160.7,131.0 163.7,131.6 166.7,132.2 169.7,132.6 172.7,133.1 175.7,133.4 178.7,133.7 181.7,134.0 184.7,134.2 187.7,134.4 190.7,134.6 193.7,134.8 196.7,134.9 199.7,135.0 202.7,135.1 205.7,135.2 208.7,135.3 211.7,135.3 214.7,135.4 217.7,135.4 220.7,135.5 223.7,135.5 226.7,135.5 229.7,135.6 260.0,135.7 397.0,135.7 591.4,82.7 597.9,177.1" fill="none" stroke="#0000ff" stroke-width="4.0" stroke-opacity="0.100" stroke-linejoin="round" /><polyline points="61.7,47.7 64.7,48.5 67.7,49.6 70.7,50.9 73.7,52.4 76.7,54.2 79.7,56.3 82.7,58.7 85.7,61.5 88.7,64.6 91.7,68.0 94.7,71.7 97.7,75.7 100.7,79.9 103.7,84.1 106.7,88.5 109.7,92.7 112.7,96.9 115.7,100.8 118.7,104.5 121.7,108.0 124.7,111.2 127.7,114.1 130.7,116.7 133.7,119.1 136.7,121.2 139.7,123.0 142.7,124.7 145.7,126.1 148.7,127.4 151.7,128.5 154.7,129.4 157.7,130.3 160.7,131.0 163.7,131.6 166.7,132.2 169.7,132.6 172.7,133.1 175.7,133.4 178.7,133.7 181.7,134.0 184.7,134.2 187.7,134.4 190.7,134.6 193.7,134.8 196.7,134.9 199.7,135.0 202.7,135.1 205.7,135.2 208.7,135.3 211.7,135.3 214.7,135.4 217.7,135.4 220.7,135.5 223.7,135.5 226.7,135.5 229.7,135.6 260.0,135.7 397.0,135.7 591.4,76.0 597.9,177.1" fill="none" stroke="#0000ff" stroke-width="4.0" stroke-opacity="0.100" stroke-linejoin="round" /><polyline points="61.7,47.7 64.7,48.5 67.7,49.6 70.7,50.9 73.7,52.4 76.7,54.2 79.7,56.3 82.7,58.7 85.7,61.5 88.7,64.6 91.7,68.0 94.7,71.7 97.7,75.7 100.7,79.9 103.7,84.1 106.7,88.5 109.7,92.7 112.7,96.9 115.7,100.8 118.7,104.5 121.7,108.0 124.7,111.2 127.7,114.1 130.7,116.7 133.7,119.1 136.7,121.2 139.7,123.0 142.7,124.7 145.7,126.1 148.7,127.4 151.7,128.5 154.7,129.4 157.7,130.3 160.7,131.0 163.7,131.6 166.7,132.2 169.7,132.6 172.7,133.1 175.7,133.4 178.7,133.7 181.7,134.0 184.7,134.2 187.7,134.4 190.7,134.6 193.7,134.8 196.7,134.9 199.7,135.0 202.7,135.1 205.7,135.2 208.7,135.3 211.7,135.3 214.7,135.4 217.7,135.4 220.7,135.5 223.7,135.5 226.7,135.5 229.7,135.6 260.0,135.7 397.0,135.7 591.4,69.6 597.9,177.1" fill="none" stroke="#0000ff" stroke-width="4.0" stroke-opacity="0.100" stroke-linejoin="round" /><polyline points="61.7,47.7 64.7,48.5 67.7,49.6 70.7,50.9 73.7,52.4 76.7,54.2 79.7,56.3 82.7,58.7 85.7,61.5 88.7,64.6 91.7,68.0 94.7,71.7 97.7,75.7 100.7,79.9 103.7,84.1 106.7,88.5 109.7,92.7 112.7,96.9 115.7,100.8 118.7,104.5 121.7,108.0 124.7,111.2 127.7,114.1 130.7,116.7 133.7,119.1 136.7,121.2 139.7,123.0 142.7,124.7 145.7,126.1 148.7,127.4 151.7,128.5 154.7,129.4 157.7,130.3 160.7,131.0 163.7,131.6 166.7,132.2 169.7,132.6 172.7,133.1 175.7,133.4 178.7,133.7 181.7,134.0 184.7,134.2 187.7,134.4 190.7,134.6 193.7,134.8 196.7,134.9 199.7,135.0 202.7,135.1 205.7,135.2 208.7,135.3 211.7,135.3 214.7,135.4 217.7,135.4 220.7,135.5 223.7,135.5 226.7,135.5 229.7,135.6 260.0,135.7 397.0,135.7 591.4,62.9 597.9,177.1" fill="none" stroke="#0000ff" stroke-width="4.0" stroke-opacity="0.100" stroke-linejoin="round" /><polyline points="61.7,47.7 64.7,48.5 67.7,49.6 70.7,50.9 73.7,52.4 76.7,54.2 79.7,56.3 82.7,58.7 85.7,61.5 88.7,64.6 91.7,68.0 94.7,71.7 97.7,75.7 100.7,79.9 103.7,84.1 106.7,88.5 109.7,92.7 112.7,96.9 115.7,100.8 118.7,104.5 121.7,108.0 124.7,111.2 127.7,114.1 130.7,116.7 133.7,119.1 136.7,121.2 139.7,123.0 142.7,124.7 145.7,126.1 148.7,127.4 151.7,128.5 154.7,129.4 157.7,130.3 160.7,131.0 163.7,131.6 166.7,132.2 169.7,132.6 172.7,133.1 175.7,133.4 178.7,133.7 181.7,134.0 184.7,134.2 187.7,134.4 190.7,134.6 193.7,134.8 196.7,134.9 199.7,135.0 202.7,135.1 205.7,135.2 208.7,135.3 211.7,135.3 214.7,135.4 217.7,135.4 220.7,135.5 223.7,135.5 226.7,135.5 229.7,135.6 260.0,135.7 397.0,135.7 591.4,56.0 597.9,177.1" fill="none" stroke="#0000ff" stroke-width="4.0" stroke-opacity="0.100" stroke-linejoin="round" /><polyline points="61.7,47.7 64.7,48.5 67.7,49.6 70.7,50.9 73.7,52.4 76.7,54.2 79.7,56.3 82.7,58.7 85.7,61.5 88.7,64.6 91.7,68.0 94.7,71.7 97.7,75.7 100.7,79.9 103.7,84.1 106.7,88.5 109.7,92.7 112.7,96.9 115.7,100.8 118.7,104.5 121.7,108.0 124.7,111.2 127.7,114.1 130.7,116.7 133.7,119.1 136.7,121.2 139.7,123.0 142.7,124.7 145.7,126.1 148.7,127.4 151.7,128.5 154.7,129.4 157.7,130.3 160.7,131.0 163.7,131.6 166.7,132.2 169.7,132.6 172.7,133.1 175.7,133.4 178.7,133.7 181.7,134.0 184.7,134.2 187.7,134.4 190.7,134.6 193.7,134.8 196.7,134.9 199.7,135.0 202.7,135.1 205.7,135.2 208.7,135.3 211.7,135.3 214.7,135.4 217.7,135.4 220.7,135.5 223.7,135.5 226.7,135.5 229.7,135.6 260.0,135.7 397.0,135.7 591.4,53.2 597.9,177.1" fill="none" stroke="#0000ff" stroke-width="4.0" stroke-opacity="0.100" stroke-linejoin="round" /><polyline points="61.7,47.7 64.7,48.5 67.7,49.6 70.7,50.9 73.7,52.4 76.7,54.2 79.7,56.3 82.7,58.7 85.7,61.5 88.7,64.6 91.7,68.0 94.7,71.7 97.7,75.7 100.7,79.9 103.7,84.1 106.7,88.5 109.7,92.7 112.7,96.9 115.7,100.8 118.7,104.5 121.7,108.0 124.7,111.2 127.7,114.1 130.7,116.7 133.7,119.1 136.7,121.2 139.7,123.0 142.7,124.7 145.7,126.1 148.7,127.4 151.7,128.5 154.7,129.4 157.7,130.3 160.7,131.0 163.7,131.6 166.7,132.2 169.7,132.6 172.7,133.1 175.7,133.4 178.7,133.7 181.7,134.0 184.7,134.2 187.7,134.4 190.7,134.6 193.7,134.8 196.7,134.9 199.7,135.0 202.7,135.1 205.7,135.2 208.7,135.3 211.7,135.3 214.7,135.4 217.7,135.4 220.7,135.5 223.7,135.5 226.7,135.5 229.7,135.6 260.0,135.7 397.0,135.7 591.4,44.8 597.9,177.1" fill="none" stroke="#0000ff" stroke-width="4.0" stroke-opacity="0.100" stroke-linejoin="round" /><polyline points="61.7,47.7 64.7,48.5 67.7,49.6 70.7,50.9 73.7,52.4 76.7,54.2 79.7,56.3 82.7,58.7 85.7,61.5 88.7,64.6 91.7,68.0 94.7,71.7 97.7,75.7 100.7,79.9 103.7,84.1 106.7,88.5 109.7,92.7 112.7,96.9 115.7,100.8 118.7,104.5 121.7,108.0 124.7,111.2 127.7,114.1 130.7,116.7 133.7,119.1 136.7,121.2 139.7,123.0 142.7,124.7 145.7,126.1 148.7,127.4 151.7,128.5 154.7,129.4 157.7,130.3 160.7,131.0 163.7,131.6 166.7,132.2 169.7,132.6 172.7,133.1 175.7,133.4 178.7,133.7 181.7,134.0 184.7,134.2 187.7,134.4 190.7,134.6 193.7,134.8 196.7,134.9 199.7,135.0 202.7,135.1 205.7,135.2 208.7,135.3 211.7,135.3 214.7,135.4 217.7,135.4 220.7,135.5 223.7,135.5 226.7,135.5 229.7,135.6 260.0,135.7 397.0,135.7 591.4,40.7 597.9,177.1" fill="none" stroke="#0000ff" stroke-width="4.0" stroke-opacity="0.100" stroke-linejoin="round" /><polyline points="61.7,47.7 64.7,48.5 67.7,49.6 70.7,50.9 73.7,52.4 76.7,54.2 79.7,56.3 82.7,58.7 85.7,61.5 88.7,64.6 91.7,68.0 94.7,71.7 97.7,75.7 100.7,79.9 103.7,84.1 106.7,88.5 109.7,92.7 112.7,96.9 115.7,100.8 118.7,104.5 121.7,108.0 124.7,111.2 127.7,114.1 130.7,116.7 133.7,119.1 136.7,121.2 139.7,123.0 142.7,124.7 145.7,126.1 148.7,127.4 151.7,128.5 154.7,129.4 157.7,130.3 160.7,131.0 163.7,131.6 166.7,132.2 169.7,132.6 172.7,133.1 175.7,133.4 178.7,133.7 181.7,134.0 184.7,134.2 187.7,134.4 190.7,134.6 193.7,134.8 196.7,134.9 199.7,135.0 202.7,135.1 205.7,135.2 208.7,135.3 211.7,135.3 214.7,135.4 217.7,135.4 220.7,135.5 223.7,135.5 226.7,135.5 229.7,135.6 260.0,135.7 397.0,135.7 591.4,33.1 597.9,177.1" fill="none" stroke="#0000ff" stroke-width="4.0" stroke-opacity="0.100" stroke-linejoin="round" /><polyline points="61.7,47.8 64.7,48.7 67.7,49.9 70.7,51.2 73.7,52.8 76.7,54.7 79.7,56.8 82.7,59.4 85.7,62.2 88.7,65.5 91.7,69.1 94.7,72.9 97.7,77.1 100.7,81.4 103.7,85.9 106.7,90.4 109.7,94.8 112.7,99.1 115.7,103.3 118.7,107.2 121.7,110.8 124.7,114.1 127.7,117.1 130.7,119.9 133.7,122.3 136.7,124.5 139.7,126.4 142.7,128.1 145.7,129.6 148.7,130.9 151.7,132.1 154.7,133.1 157.7,134.0 160.7,134.7 163.7,135.4 166.7,136.0 169.7,136.5 172.7,136.9 175.7,137.3 178.7,137.6 181.7,137.9 184.7,138.1 187.7,138.3 190.7,138.5 193.7,138.7 196.7,138.8 199.7,138.9 202.7,139.0 205.7,139.1 208.7,139.2 211.7,139.2 214.7,139.3 217.7,139.4 220.7,139.4 223.7,139.4 226.7,139.5 229.7,139.5 260.0,139.6 397.0,139.7 591.4,92.2 597.9,177.1" fill="none" stroke="#0000ff" stroke-width="4.0" stroke-opacity="0.100" stroke-linejoin="round" /><polyline points="61.7,47.8 64.7,48.7 67.7,49.9 70.7,51.2 73.7,52.8 76.7,54.7 79.7,56.8 82.7,59.4 85.7,62.2 88.7,65.5 91.7,69.1 94.7,72.9 97.7,77.1 100.7,81.4 103.7,85.9 106.7,90.4 109.7,94.8 112.7,99.1 115.7,103.3 118.7,107.2 121.7,110.8 124.7,114.1 127.7,117.1 130.7,119.9 133.7,122.3 136.7,124.5 139.7,126.4 142.7,128.1 145.7,129.6 148.7,130.9 151.7,132.1 154.7,133.1 157.7,134.0 160.7,134.7 163.7,135.4 166.7,136.0 169.7,136.5 172.7,136.9 175.7,137.3 178.7,137.6 181.7,137.9 184.7,138.1 187.7,138.3 190.7,138.5 193.7,138.7 196.7,138.8 199.7,138.9 202.7,139.0 205.7,139.1 208.7,139.2 211.7,139.2 214.7,139.3 217.7,139.4 220.7,139.4 223.7,139.4 226.7,139.5 229.7,139.5 260.0,139.6 397.0,139.7 591.4,84.1 597.9,177.1" fill="none" stroke="#0000ff" stroke-width="4.0" stroke-opacity="0.100" stroke-linejoin="round" /><polyline points="61.7,47.8 64.7,48.7 67.7,49.9 70.7,51.2 73.7,52.8 76.7,54.7 79.7,56.8 82.7,59.4 85.7,62.2 88.7,65.5 91.7,69.1 94.7,72.9 97.7,77.1 100.7,81.4 103.7,85.9 106.7,90.4 109.7,94.8 112.7,99.1 115.7,103.3 118.7,107.2 121.7,110.8 124.7,114.1 127.7,117.1 130.7,119.9 133.7,122.3 136.7,124.5 139.7,126.4 142.7,128.1 145.7,129.6 148.7,130.9 151.7,132.1 154.7,133.1 157.7,134.0 160.7,134.7 163.7,135.4 166.7,136.0 169.7,136.5 172.7,136.9 175.7,137.3 178.7,137.6 181.7,137.9 184.7,138.1 187.7,138.3 190.7,138.5 193.7,138.7 196.7,138.8 199.7,138.9 202.7,139.0 205.7,139.1 208.7,139.2 211.7,139.2 214.7,139.3 217.7,139.4 220.7,139.4 223.7,139.4 226.7,139.5 229.7,139.5 260.0,139.6 397.0,139.7 591.4,77.3 597.9,177.1" fill="none" stroke="#0000ff" stroke-width="4.0" stroke-opacity="0.100" stroke-linejoin="round" /><polyline points="61.7,47.8 64.7,48.7 67.7,49.9 70.7,51.2 73.7,52.8 76.7,54.7 79.7,56.8 82.7,59.4 85.7,62.2 88.7,65.5 91.7,69.1 94.7,72.9 97.7,77.1 100.7,81.4 103.7,85.9 106.7,90.4 109.7,94.8 112.7,99.1 115.7,103.3 118.7,107.2 121.7,110.8 124.7,114.1 127.7,117.1 130.7,119.9 133.7,122.3 136.7,124.5 139.7,126.4 142.7,128.1 145.7,129.6 148.7,130.9 151.7,132.1 154.7,133.1 157.7,134.0 160.7,134.7 163.7,135.4 166.7,136.0 169.7,136.5 172.7,136.9 175.7,137.3 178.7,137.6 181.7,137.9 184.7,138.1 187.7,138.3 190.7,138.5 193.7,138.7 196.7,138.8 199.7,138.9 202.7,139.0 205.7,139.1 208.7,139.2 211.7,139.2 214.7,139.3 217.7,139.4 220.7,139.4 223.7,139.4 226.7,139.5 229.7,139.5 260.0,139.6 397.0,139.7 591.4,73.6 597.9,177.1" fill="none" stroke="#0000ff" stroke-width="4.0" stroke-opacity="0.100" stroke-linejoin="round" /><polyline points="61.7,47.8 64.7,48.7 67.7,49.9 70.7,51.2 73.7,52.8 76.7,54.7 79.7,56.8 82.7,59.4 85.7,62.2 88.7,65.5 91.7,69.1 94.7,72.9 97.7,77.1 100.7,81.4 103.7,85.9 106.7,90.4 109.7,94.8 112.7,99.1 115.7,103.3 118.7,107.2 121.7,110.8 124.7,114.1 127.7,117.1 130.7,119.9 133.7,122.3 136.7,124.5 139.7,126.4 142.7,128.1 145.7,129.6 148.7,130.9 151.7,132.1 154.7,133.1 157.7,134.0 160.7,134.7 163.7,135.4 166.7,136.0 169.7,136.5 172.7,136.9 175.7,137.3 178.7,137.6 181.7,137.9 184.7,138.1 187.7,138.3 190.7,138.5 193.7,138.7 196.7,138.8 199.7,138.9 202.7,139.0 205.7,139.1 208.7,139.2 211.7,139.2 214.7,139.3 217.7,139.4 220.7,139.4 223.7,139.4 226.7,139.5 229.7,139.5 260.0,139.6 397.0,139.7 591.4,64.3 597.9,177.1" fill="none" stroke="#0000ff" stroke-width="4.0" stroke-opacity="0.100" stroke-linejoin="round" /><polyline points="61.7,47.8 64.7,48.7 67.7,49.9 70.7,51.2 73.7,52.8 76.7,54.7 79.7,56.8 82.7,59.4 85.7,62.2 88.7,65.5 91.7,69.1 94.7,72.9 97.7,77.1 100.7,81.4 103.7,85.9 106.7,90.4 109.7,94.8 112.7,99.1 115.7,103.3 118.7,107.2 121.7,110.8 124.7,114.1 127.7,117.1 130.7,119.9 133.7,122.3 136.7,124.5 139.7,126.4 142.7,128.1 145.7,129.6 148.7,130.9 151.7,132.1 154.7,133.1 157.7,134.0 160.7,134.7 163.7,135.4 166.7,136.0 169.7,136.5 172.7,136.9 175.7,137.3 178.7,137.6 181.7,137.9 184.7,138.1 187.7,138.3 190.7,138.5 193.7,138.7 196.7,138.8 199.7,138.9 202.7,139.0 205.7,139.1 208.7,139.2 211.7,139.2 214.7,139.3 217.7,139.4 220.7,139.4 223.7,139.4 226.7,139.5 229.7,139.5 260.0,139.6 397.0,139.7 591.4,57.9 597.9,177.1" fill="none" stroke="#0000ff" stroke-width="4.0" stroke-opacity="0.100" stroke-linejoin="round" /><polyline points="61.7,47.8 64.7,48.7 67.7,49.9 70.7,51.2 73.7,52.8 76.7,54.7 79.7,56.8 82.7,59.4 85.7,62.2 88.7,65.5 91.7,69.1 94.7,72.9 97.7,77.1 100.7,81.4 103.7,85.9 106.7,90.4 109.7,94.8 112.7,99.1 115.7,103.3 118.7,107.2 121.7,110.8 124.7,114.1 127.7,117.1 130.7,119.9 133.7,122.3 136.7,124.5 139.7,126.4 142.7,128.1 145.7,129.6 148.7,130.9 151.7,132.1 154.7,133.1 157.7,134.0 160.7,134.7 163.7,135.4 166.7,136.0 169.7,136.5 172.7,136.9 175.7,137.3 178.7,137.6 181.7,137.9 184.7,138.1 187.7,138.3 190.7,138.5 193.7,138.7 196.7,138.8 199.7,138.9 202.7,139.0 205.7,139.1 208.7,139.2 211.7,139.2 214.7,139.3 217.7,139.4 220.7,139.4 223.7,139.4 226.7,139.5 229.7,139.5 260.0,139.6 397.0,139.7 591.4,45.9 597.9,177.1" fill="none" stroke="#0000ff" stroke-width="4.0" stroke-opacity="0.100" stroke-linejoin="round" /><polyline points="61.7,47.8 64.7,48.7 67.7,49.9 70.7,51.2 73.7,52.8 76.7,54.7 79.7,56.8 82.7,59.4 85.7,62.2 88.7,65.5 91.7,69.1 94.7,72.9 97.7,77.1 100.7,81.4 103.7,85.9 106.7,90.4 109.7,94.8 112.7,99.1 115.7,103.3 118.7,107.2 121.7,110.8 124.7,114.1 127.7,117.1 130.7,119.9 133.7,122.3 136.7,124.5 139.7,126.4 142.7,128.1 145.7,129.6 148.7,130.9 151.7,132.1 154.7,133.1 157.7,134.0 160.7,134.7 163.7,135.4 166.7,136.0 169.7,136.5 172.7,136.9 175.7,137.3 178.7,137.6 181.7,137.9 184.7,138.1 187.7,138.3 190.7,138.5 193.7,138.7 196.7,138.8 199.7,138.9 202.7,139.0 205.7,139.1 208.7,139.2 211.7,139.2 214.7,139.3 217.7,139.4 220.7,139.4 223.7,139.4 226.7,139.5 229.7,139.5 260.0,139.6 397.0,139.7 591.4,42.9 597.9,177.1" fill="none" stroke="#0000ff" stroke-width="4.0" stroke-opacity="0.100" stroke-linejoin="round" /><polyline points="61.7,47.8 64.7,48.7 67.7,49.9 70.7,51.2 73.7,52.8 76.7,54.7 79.7,56.8 82.7,59.4 85.7,62.2 88.7,65.5 91.7,69.1 94.7,72.9 97.7,77.1 100.7,81.4 103.7,85.9 106.7,90.4 109.7,94.8 112.7,99.1 115.7,103.3 118.7,107.2 121.7,110.8 124.7,114.1 127.7,117.1 130.7,119.9 133.7,122.3 136.7,124.5 139.7,126.4 142.7,128.1 145.7,129.6 148.7,130.9 151.7,132.1 154.7,133.1 157.7,134.0 160.7,134.7 163.7,135.4 166.7,136.0 169.7,136.5 172.7,136.9 175.7,137.3 178.7,137.6 181.7,137.9 184.7,138.1 187.7,138.3 190.7,138.5 193.7,138.7 196.7,138.8 199.7,138.9 202.7,139.0 205.7,139.1 208.7,139.2 211.7,139.2 214.7,139.3 217.7,139.4 220.7,139.4 223.7,139.4 226.7,139.5 229.7,139.5 260.0,139.6 397.0,139.7 591.4,34.9 597.9,177.1" fill="none" stroke="#0000ff" stroke-width="4.0" stroke-opacity="0.100" stroke-linejoin="round" /><polyline points="61.7,48.0 64.7,49.0 67.7,50.1 70.7,51.5 73.7,53.2 76.7,55.1 79.7,57.4 82.7,60.0 85.7,63.0 88.7,66.4 91.7,70.1 94.7,74.1 97.7,78.5 100.7,83.0 103.7,87.6 106.7,92.3 109.7,96.9 112.7,101.4 115.7,105.7 118.7,109.8 121.7,113.5 124.7,117.0 127.7,120.1 130.7,123.0 133.7,125.5 136.7,127.8 139.7,129.8 142.7,131.6 145.7,133.2 148.7,134.5 151.7,135.7 154.7,136.8 157.7,137.7 160.7,138.5 163.7,139.1 166.7,139.7 169.7,140.3 172.7,140.7 175.7,141.1 178.7,141.4 181.7,141.7 184.7,142.0 187.7,142.2 190.7,142.4 193.7,142.6 196.7,142.7 199.7,142.8 202.7,142.9 205.7,143.0 208.7,143.1 211.7,143.2 214.7,143.2 217.7,143.3 220.7,143.3 223.7,143.4 226.7,143.4 229.7,143.4 260.0,143.6 397.0,143.6 591.4,76.6 597.9,177.1" fill="none" stroke="#0000ff" stroke-width="4.0" stroke-opacity="0.100" stroke-linejoin="round" /><polyline points="61.7,48.0 64.7,49.0 67.7,50.1 70.7,51.5 73.7,53.2 76.7,55.1 79.7,57.4 82.7,60.0 85.7,63.0 88.7,66.4 91.7,70.1 94.7,74.1 97.7,78.5 100.7,83.0 103.7,87.6 106.7,92.3 109.7,96.9 112.7,101.4 115.7,105.7 118.7,109.8 121.7,113.5 124.7,117.0 127.7,120.1 130.7,123.0 133.7,125.5 136.7,127.8 139.7,129.8 142.7,131.6 145.7,133.2 148.7,134.5 151.7,135.7 154.7,136.8 157.7,137.7 160.7,138.5 163.7,139.1 166.7,139.7 169.7,140.3 172.7,140.7 175.7,141.1 178.7,141.4 181.7,141.7 184.7,142.0 187.7,142.2 190.7,142.4 193.7,142.6 196.7,142.7 199.7,142.8 202.7,142.9 205.7,143.0 208.7,143.1 211.7,143.2 214.7,143.2 217.7,143.3 220.7,143.3 223.7,143.4 226.7,143.4 229.7,143.4 260.0,143.6 397.0,143.6 591.4,62.3 597.9,177.1" fill="none" stroke="#0000ff" stroke-width="4.0" stroke-opacity="0.100" stroke-linejoin="round" /><polyline points="61.7,48.0 64.7,49.0 67.7,50.1 70.7,51.5 73.7,53.2 76.7,55.1 79.7,57.4 82.7,60.0 85.7,63.0 88.7,66.4 91.7,70.1 94.7,74.1 97.7,78.5 100.7,83.0 103.7,87.6 106.7,92.3 109.7,96.9 112.7,101.4 115.7,105.7 118.7,109.8 121.7,113.5 124.7,117.0 127.7,120.1 130.7,123.0 133.7,125.5 136.7,127.8 139.7,129.8 142.7,131.6 145.7,133.2 148.7,134.5 151.7,135.7 154.7,136.8 157.7,137.7 160.7,138.5 163.7,139.1 166.7,139.7 169.7,140.3 172.7,140.7 175.7,141.1 178.7,141.4 181.7,141.7 184.7,142.0 187.7,142.2 190.7,142.4 193.7,142.6 196.7,142.7 199.7,142.8 202.7,142.9 205.7,143.0 208.7,143.1 211.7,143.2 214.7,143.2 217.7,143.3 220.7,143.3 223.7,143.4 226.7,143.4 229.7,143.4 260.0,143.6 397.0,143.6 591.4,34.1 597.9,177.1" fill="none" stroke="#0000ff" stroke-width="4.0" stroke-opacity="0.100" stroke-linejoin="round" /></g>
<polyline points="61.7,47.3 64.7,48.1 67.7,49.1 70.7,50.3 73.7,51.7 76.7,53.3 79.7,55.2 82.7,57.5 85.7,60.0 88.7,62.8 91.7,66.0 94.7,69.4 97.7,73.0 100.7,76.8 103.7,80.7 106.7,84.7 109.7,88.6 112.7,92.4 115.7,96.0 118.7,99.4 121.7,102.6 124.7,105.5 127.7,108.2 130.7,110.6 133.7,112.8 136.7,114.7 139.7,116.4 142.7,117.9 145.7,119.2 148.7,120.3 151.7,121.3 154.7,122.2 157.7,123.0 160.7,123.7 163.7,124.2 166.7,124.7 169.7,125.2 172.7,125.6 175.7,125.9 178.7,126.2 181.7,126.4 184.7,126.6 187.7,126.8 190.7,127.0 193.7,127.1 196.7,127.2 199.7,127.3 202.7,127.4 205.7,127.5 208.7,127.6 211.7,127.6 214.7,127.7 217.7,127.7 220.7,127.8 223.7,127.8 226.7,127.8 229.7,127.8 260.0,128.0 397.0,128.0 591.5,81.2 597.6,177.1" fill="none" stroke="#000" stroke-width="5.8" stroke-linejoin="round" />
<path d="M61.70,32.00 V177.10 H620.20" fill="none" stroke="#111" stroke-width="1.7" stroke-linecap="square"/>
<line x1="61.70" y1="137.70" x2="68.00" y2="137.70" stroke="#111" stroke-width="1.7"/>
<line x1="61.70" y1="98.30" x2="68.00" y2="98.30" stroke="#111" stroke-width="1.7"/>
<line x1="61.70" y1="58.90" x2="68.00" y2="58.90" stroke="#111" stroke-width="1.7"/>
<text x="55.2" y="185.30" text-anchor="end" font-size="20.4" font-family="Liberation Sans, sans-serif">0</text>
<text x="55.2" y="145.90" text-anchor="end" font-size="20.4" font-family="Liberation Sans, sans-serif">20</text>
<text x="55.2" y="106.50" text-anchor="end" font-size="20.4" font-family="Liberation Sans, sans-serif">40</text>
<text x="55.2" y="67.10" text-anchor="end" font-size="20.4" font-family="Liberation Sans, sans-serif">60</text>
<line x1="151.05" y1="177.10" x2="151.05" y2="170.80" stroke="#111" stroke-width="1.7"/>
<line x1="240.40" y1="177.10" x2="240.40" y2="170.80" stroke="#111" stroke-width="1.7"/>
<line x1="329.75" y1="177.10" x2="329.75" y2="170.80" stroke="#111" stroke-width="1.7"/>
<line x1="419.10" y1="177.10" x2="419.10" y2="170.80" stroke="#111" stroke-width="1.7"/>
<line x1="508.45" y1="177.10" x2="508.45" y2="170.80" stroke="#111" stroke-width="1.7"/>
<line x1="597.80" y1="177.10" x2="597.80" y2="170.80" stroke="#111" stroke-width="1.7"/>
<text transform="translate(16.9,103.5) rotate(-90)" text-anchor="middle" font-size="20.0" font-family="Liberation Sans, sans-serif">Ice thickness (m)</text>
<g><polyline points="61.7,359.4 65.7,359.4 69.7,359.4 73.7,359.4 77.7,359.4 81.7,359.4 85.7,359.4 89.7,359.4 93.7,359.4 97.7,359.3 101.7,359.1 105.7,358.9 109.7,358.7 113.7,358.5 117.7,358.2 121.7,358.0 125.7,357.7 129.7,357.4 133.7,357.0 137.7,356.6 141.7,356.1 145.7,355.5 149.7,355.0 153.7,353.9 157.7,352.5 161.7,351.1 165.7,349.7 169.7,348.1 173.7,346.5 177.7,345.1 181.7,343.9 185.7,342.9 189.7,341.9 193.7,341.0 197.7,340.1 201.7,339.3 205.7,338.4 209.7,337.5 213.7,336.6 217.7,335.7 221.7,334.8 225.7,333.9 229.7,332.9 233.7,332.0 237.7,331.1 241.7,330.1 245.7,329.3 249.7,328.4 253.7,327.5 257.7,326.6 261.7,325.7 265.7,324.8 269.7,323.9 273.7,322.9 277.7,322.0 281.7,321.2 285.7,320.3 289.7,319.6 293.7,318.8 297.7,318.1 301.7,317.3 305.7,316.6 309.7,315.9 313.7,315.3 317.7,314.6 321.7,313.9 325.7,313.3 329.7,312.6 333.7,312.0 337.7,311.4 341.7,310.8 345.7,310.2 349.7,309.6 353.7,309.0 357.7,308.5 361.7,307.9 365.7,307.3 369.7,306.8 373.7,306.2 377.7,305.7 381.7,305.1 385.7,304.6 389.7,304.1 393.7,303.5 397.7,303.0 401.7,302.4 405.7,301.8 409.7,301.3 413.7,300.7 417.7,300.2 421.7,299.8 425.7,299.3 429.7,298.9 433.7,298.8 437.7,298.8 441.7,298.9 445.7,299.1 449.7,299.3 453.7,299.6 457.7,300.0 461.7,300.3 465.7,300.6 469.7,300.9 473.7,301.3 477.7,301.7 481.7,302.0 485.7,302.4 489.7,302.8 493.7,303.2 497.7,303.6 501.7,304.0 505.7,304.4 509.7,304.8 513.7,305.3 517.7,305.7 521.7,306.2 525.7,306.7 529.7,307.1 533.7,307.6 537.7,308.1 541.7,308.5 545.7,309.0 549.7,309.5 553.7,310.0 557.7,310.6 561.7,311.1 565.7,311.6 569.7,312.1 573.7,312.5 577.7,312.8 581.7,313.1 585.7,313.5 589.7,313.8 593.7,314.2 597.8,314.5" fill="none" stroke="#ff0000" stroke-width="3.8" stroke-opacity="0.260" stroke-linejoin="round" /><polyline points="61.7,359.4 65.7,359.4 69.7,359.4 73.7,359.4 77.7,359.4 81.7,359.4 85.7,359.4 89.7,359.4 93.7,359.4 97.7,359.3 101.7,359.1 105.7,358.9 109.7,358.7 113.7,358.5 117.7,358.2 121.7,358.0 125.7,357.7 129.7,357.4 133.7,357.0 137.7,356.6 141.7,356.1 145.7,355.5 149.7,355.0 153.7,354.0 157.7,352.9 161.7,351.7 165.7,350.5 169.7,349.2 173.7,347.9 177.7,346.7 181.7,345.7 185.7,344.8 189.7,343.9 193.7,343.1 197.7,342.3 201.7,341.5 205.7,340.8 209.7,340.0 213.7,339.2 217.7,338.3 221.7,337.5 225.7,336.7 229.7,335.8 233.7,335.0 237.7,334.2 241.7,333.4 245.7,332.6 249.7,331.8 253.7,331.0 257.7,330.3 261.7,329.5 265.7,328.6 269.7,327.7 273.7,326.9 277.7,326.0 281.7,325.3 285.7,324.5 289.7,323.8 293.7,323.1 297.7,322.5 301.7,321.8 305.7,321.2 309.7,320.6 313.7,319.9 317.7,319.3 321.7,318.7 325.7,318.1 329.7,317.6 333.7,317.0 337.7,316.4 341.7,315.9 345.7,315.3 349.7,314.8 353.7,314.3 357.7,313.8 361.7,313.2 365.7,312.7 369.7,312.2 373.7,311.7 377.7,311.2 381.7,310.7 385.7,310.2 389.7,309.7 393.7,309.3 397.7,308.8 401.7,308.3 405.7,307.7 409.7,307.2 413.7,306.7 417.7,306.2 421.7,305.8 425.7,305.4 429.7,305.1 433.7,305.0 437.7,304.9 441.7,305.0 445.7,305.1 449.7,305.2 453.7,305.4 457.7,305.6 461.7,305.9 465.7,306.1 469.7,306.4 473.7,306.6 477.7,306.9 481.7,307.2 485.7,307.5 489.7,307.8 493.7,308.1 497.7,308.4 501.7,308.7 505.7,309.0 509.7,309.3 513.7,309.7 517.7,310.0 521.7,310.4 525.7,310.8 529.7,311.2 533.7,311.6 537.7,311.9 541.7,312.3 545.7,312.7 549.7,313.1 553.7,313.5 557.7,314.0 561.7,314.4 565.7,314.8 569.7,315.2 573.7,315.5 577.7,315.8 581.7,316.1 585.7,316.4 589.7,316.8 593.7,317.1 597.8,317.5" fill="none" stroke="#ff0000" stroke-width="3.8" stroke-opacity="0.260" stroke-linejoin="round" /><polyline points="61.7,359.4 65.7,359.4 69.7,359.4 73.7,359.4 77.7,359.4 81.7,359.4 85.7,359.4 89.7,359.4 93.7,359.4 97.7,359.3 101.7,359.1 105.7,358.9 109.7,358.7 113.7,358.5 117.7,358.2 121.7,358.0 125.7,357.7 129.7,357.4 133.7,357.0 137.7,356.6 141.7,356.1 145.7,355.5 149.7,355.0 153.7,354.0 157.7,352.9 161.7,351.6 165.7,350.4 169.7,349.1 173.7,347.8 177.7,346.5 181.7,345.5 185.7,344.6 189.7,343.7 193.7,342.9 197.7,342.1 201.7,341.3 205.7,340.5 209.7,339.8 213.7,338.9 217.7,338.1 221.7,337.3 225.7,336.4 229.7,335.6 233.7,334.7 237.7,333.9 241.7,333.1 245.7,332.3 249.7,331.5 253.7,330.7 257.7,329.9 261.7,329.1 265.7,328.3 269.7,327.4 273.7,326.5 277.7,325.7 281.7,324.9 285.7,324.2 289.7,323.4 293.7,322.7 297.7,322.1 301.7,321.4 305.7,320.8 309.7,320.1 313.7,319.5 317.7,318.9 321.7,318.3 325.7,317.7 329.7,317.1 333.7,316.5 337.7,316.0 341.7,315.4 345.7,314.9 349.7,314.3 353.7,313.8 357.7,313.3 361.7,312.8 365.7,312.2 369.7,311.7 373.7,311.2 377.7,310.7 381.7,310.2 385.7,309.7 389.7,309.2 393.7,308.7 397.7,308.2 401.7,307.7 405.7,307.2 409.7,306.6 413.7,306.1 417.7,305.7 421.7,305.3 425.7,304.9 429.7,304.6 433.7,304.4 437.7,304.4 441.7,304.4 445.7,304.5 449.7,304.7 453.7,304.9 457.7,305.1 461.7,305.3 465.7,305.6 469.7,305.9 473.7,306.1 477.7,306.4 481.7,306.7 485.7,307.0 489.7,307.3 493.7,307.6 497.7,307.9 501.7,308.2 505.7,308.6 509.7,308.9 513.7,309.3 517.7,309.6 521.7,310.0 525.7,310.4 529.7,310.8 533.7,311.2 537.7,311.6 541.7,311.9 545.7,312.4 549.7,312.8 553.7,313.2 557.7,313.6 561.7,314.1 565.7,314.5 569.7,314.9 573.7,315.2 577.7,315.6 581.7,315.8 585.7,316.2 589.7,316.5 593.7,316.8 597.8,317.2" fill="none" stroke="#ff0000" stroke-width="3.8" stroke-opacity="0.260" stroke-linejoin="round" /><polyline points="61.7,359.4 65.7,359.4 69.7,359.4 73.7,359.4 77.7,359.4 81.7,359.4 85.7,359.4 89.7,359.4 93.7,359.4 97.7,359.3 101.7,359.1 105.7,358.9 109.7,358.7 113.7,358.5 117.7,358.2 121.7,358.0 125.7,357.7 129.7,357.4 133.7,357.0 137.7,356.6 141.7,356.1 145.7,355.5 149.7,355.0 153.7,354.1 157.7,353.0 161.7,351.8 165.7,350.6 169.7,349.4 173.7,348.1 177.7,346.9 181.7,346.0 185.7,345.1 189.7,344.3 193.7,343.5 197.7,342.7 201.7,341.9 205.7,341.2 209.7,340.4 213.7,339.6 217.7,338.8 221.7,338.0 225.7,337.1 229.7,336.3 233.7,335.5 237.7,334.7 241.7,333.9 245.7,333.2 249.7,332.4 253.7,331.6 257.7,330.9 261.7,330.1 265.7,329.2 269.7,328.4 273.7,327.5 277.7,326.7 281.7,326.0 285.7,325.2 289.7,324.5 293.7,323.9 297.7,323.2 301.7,322.6 305.7,321.9 309.7,321.3 313.7,320.7 317.7,320.1 321.7,319.5 325.7,319.0 329.7,318.4 333.7,317.8 337.7,317.3 341.7,316.7 345.7,316.2 349.7,315.7 353.7,315.2 357.7,314.7 361.7,314.1 365.7,313.6 369.7,313.1 373.7,312.6 377.7,312.2 381.7,311.7 385.7,311.2 389.7,310.7 393.7,310.2 397.7,309.7 401.7,309.2 405.7,308.7 409.7,308.2 413.7,307.7 417.7,307.2 421.7,306.9 425.7,306.5 429.7,306.2 433.7,306.0 437.7,306.0 441.7,306.0 445.7,306.1 449.7,306.2 453.7,306.4 457.7,306.6 461.7,306.8 465.7,307.0 469.7,307.3 473.7,307.5 477.7,307.8 481.7,308.1 485.7,308.3 489.7,308.6 493.7,308.9 497.7,309.2 501.7,309.5 505.7,309.8 509.7,310.1 513.7,310.4 517.7,310.8 521.7,311.1 525.7,311.5 529.7,311.8 533.7,312.2 537.7,312.6 541.7,312.9 545.7,313.3 549.7,313.7 553.7,314.1 557.7,314.5 561.7,314.9 565.7,315.3 569.7,315.7 573.7,316.0 577.7,316.3 581.7,316.6 585.7,316.9 589.7,317.3 593.7,317.6 597.8,317.9" fill="none" stroke="#ff0000" stroke-width="3.8" stroke-opacity="0.260" stroke-linejoin="round" /><polyline points="61.7,359.4 65.7,359.4 69.7,359.4 73.7,359.4 77.7,359.4 81.7,359.4 85.7,359.4 89.7,359.4 93.7,359.4 97.7,359.3 101.7,359.1 105.7,358.9 109.7,358.7 113.7,358.5 117.7,358.2 121.7,358.0 125.7,357.7 129.7,357.4 133.7,357.0 137.7,356.6 141.7,356.1 145.7,355.5 149.7,355.0 153.7,354.3 157.7,353.4 161.7,352.5 165.7,351.6 169.7,350.7 173.7,349.7 177.7,348.8 181.7,348.0 185.7,347.3 189.7,346.6 193.7,345.9 197.7,345.2 201.7,344.6 205.7,343.9 209.7,343.2 213.7,342.5 217.7,341.8 221.7,341.1 225.7,340.4 229.7,339.7 233.7,339.0 237.7,338.4 241.7,337.7 245.7,337.1 249.7,336.4 253.7,335.8 257.7,335.1 261.7,334.4 265.7,333.7 269.7,332.9 273.7,332.2 277.7,331.4 281.7,330.8 285.7,330.1 289.7,329.5 293.7,328.9 297.7,328.4 301.7,327.8 305.7,327.3 309.7,326.7 313.7,326.2 317.7,325.7 321.7,325.1 325.7,324.6 329.7,324.1 333.7,323.6 337.7,323.2 341.7,322.7 345.7,322.2 349.7,321.8 353.7,321.3 357.7,320.8 361.7,320.4 365.7,319.9 369.7,319.5 373.7,319.1 377.7,318.6 381.7,318.2 385.7,317.8 389.7,317.3 393.7,316.9 397.7,316.5 401.7,316.0 405.7,315.6 409.7,315.1 413.7,314.6 417.7,314.3 421.7,313.9 425.7,313.6 429.7,313.4 433.7,313.2 437.7,313.1 441.7,313.0 445.7,313.0 449.7,313.1 453.7,313.1 457.7,313.2 461.7,313.3 465.7,313.4 469.7,313.6 473.7,313.7 477.7,313.9 481.7,314.1 485.7,314.2 489.7,314.4 493.7,314.6 497.7,314.7 501.7,314.9 505.7,315.1 509.7,315.3 513.7,315.6 517.7,315.8 521.7,316.0 525.7,316.3 529.7,316.6 533.7,316.8 537.7,317.1 541.7,317.3 545.7,317.6 549.7,317.9 553.7,318.2 557.7,318.5 561.7,318.7 565.7,319.0 569.7,319.3 573.7,319.6 577.7,319.8 581.7,320.1 585.7,320.4 589.7,320.7 593.7,321.0 597.8,321.4" fill="none" stroke="#ff0000" stroke-width="3.8" stroke-opacity="0.260" stroke-linejoin="round" /><polyline points="61.7,359.4 65.7,359.4 69.7,359.4 73.7,359.4 77.7,359.4 81.7,359.4 85.7,359.4 89.7,359.4 93.7,359.4 97.7,359.3 101.7,359.1 105.7,358.9 109.7,358.7 113.7,358.5 117.7,358.2 121.7,358.0 125.7,357.7 129.7,357.4 133.7,357.0 137.7,356.6 141.7,356.1 145.7,355.5 149.7,355.0 153.7,354.2 157.7,353.3 161.7,352.3 165.7,351.3 169.7,350.3 173.7,349.3 177.7,348.3 181.7,347.5 185.7,346.7 189.7,346.0 193.7,345.2 197.7,344.5 201.7,343.9 205.7,343.2 209.7,342.5 213.7,341.7 217.7,341.0 221.7,340.3 225.7,339.5 229.7,338.8 233.7,338.1 237.7,337.4 241.7,336.7 245.7,336.0 249.7,335.3 253.7,334.6 257.7,334.0 261.7,333.2 265.7,332.5 269.7,331.7 273.7,330.9 277.7,330.1 281.7,329.5 285.7,328.8 289.7,328.2 293.7,327.6 297.7,327.0 301.7,326.4 305.7,325.8 309.7,325.2 313.7,324.7 317.7,324.2 321.7,323.6 325.7,323.1 329.7,322.6 333.7,322.1 337.7,321.6 341.7,321.1 345.7,320.6 349.7,320.1 353.7,319.6 357.7,319.2 361.7,318.7 365.7,318.2 369.7,317.8 373.7,317.3 377.7,316.9 381.7,316.4 385.7,316.0 389.7,315.5 393.7,315.1 397.7,314.6 401.7,314.2 405.7,313.7 409.7,313.2 413.7,312.7 417.7,312.3 421.7,312.0 425.7,311.7 429.7,311.4 433.7,311.2 437.7,311.2 441.7,311.1 445.7,311.1 449.7,311.2 453.7,311.3 457.7,311.4 461.7,311.5 465.7,311.7 469.7,311.9 473.7,312.0 477.7,312.2 481.7,312.4 485.7,312.6 489.7,312.8 493.7,313.0 497.7,313.2 501.7,313.4 505.7,313.7 509.7,313.9 513.7,314.2 517.7,314.4 521.7,314.7 525.7,315.0 529.7,315.3 533.7,315.6 537.7,315.9 541.7,316.1 545.7,316.4 549.7,316.7 553.7,317.1 557.7,317.4 561.7,317.7 565.7,318.0 569.7,318.3 573.7,318.6 577.7,318.9 581.7,319.2 585.7,319.4 589.7,319.8 593.7,320.1 597.8,320.4" fill="none" stroke="#ff0000" stroke-width="3.8" stroke-opacity="0.260" stroke-linejoin="round" /><polyline points="61.7,359.4 65.7,359.4 69.7,359.4 73.7,359.4 77.7,359.4 81.7,359.4 85.7,359.4 89.7,359.4 93.7,359.4 97.7,359.3 101.7,359.1 105.7,358.9 109.7,358.7 113.7,358.5 117.7,358.2 121.7,358.0 125.7,357.7 129.7,357.4 133.7,357.0 137.7,356.6 141.7,356.1 145.7,355.5 149.7,355.0 153.7,354.2 157.7,353.3 161.7,352.3 165.7,351.4 169.7,350.3 173.7,349.3 177.7,348.3 181.7,347.5 185.7,346.7 189.7,346.0 193.7,345.3 197.7,344.6 201.7,343.9 205.7,343.2 209.7,342.5 213.7,341.8 217.7,341.0 221.7,340.3 225.7,339.6 229.7,338.9 233.7,338.1 237.7,337.4 241.7,336.7 245.7,336.0 249.7,335.4 253.7,334.7 257.7,334.0 261.7,333.3 265.7,332.5 269.7,331.7 273.7,331.0 277.7,330.2 281.7,329.5 285.7,328.9 289.7,328.2 293.7,327.6 297.7,327.0 301.7,326.5 305.7,325.9 309.7,325.3 313.7,324.8 317.7,324.2 321.7,323.7 325.7,323.2 329.7,322.6 333.7,322.1 337.7,321.6 341.7,321.1 345.7,320.7 349.7,320.2 353.7,319.7 357.7,319.2 361.7,318.8 365.7,318.3 369.7,317.9 373.7,317.4 377.7,317.0 381.7,316.5 385.7,316.1 389.7,315.6 393.7,315.2 397.7,314.7 401.7,314.3 405.7,313.8 409.7,313.3 413.7,312.8 417.7,312.4 421.7,312.1 425.7,311.8 429.7,311.5 433.7,311.3 437.7,311.3 441.7,311.2 445.7,311.2 449.7,311.3 453.7,311.4 457.7,311.5 461.7,311.6 465.7,311.8 469.7,312.0 473.7,312.1 477.7,312.3 481.7,312.5 485.7,312.7 489.7,312.9 493.7,313.1 497.7,313.3 501.7,313.5 505.7,313.7 509.7,314.0 513.7,314.2 517.7,314.5 521.7,314.8 525.7,315.1 529.7,315.3 533.7,315.6 537.7,315.9 541.7,316.2 545.7,316.5 549.7,316.8 553.7,317.1 557.7,317.4 561.7,317.8 565.7,318.1 569.7,318.4 573.7,318.7 577.7,318.9 581.7,319.2 585.7,319.5 589.7,319.8 593.7,320.1 597.8,320.5" fill="none" stroke="#ff0000" stroke-width="3.8" stroke-opacity="0.260" stroke-linejoin="round" /><polyline points="61.7,359.4 65.7,359.4 69.7,359.4 73.7,359.4 77.7,359.4 81.7,359.4 85.7,359.4 89.7,359.4 93.7,359.4 97.7,359.3 101.7,359.1 105.7,358.9 109.7,358.7 113.7,358.5 117.7,358.2 121.7,358.0 125.7,357.7 129.7,357.4 133.7,357.0 137.7,356.6 141.7,356.1 145.7,355.5 149.7,355.0 153.7,354.2 157.7,353.3 161.7,352.4 165.7,351.5 169.7,350.5 173.7,349.5 177.7,348.5 181.7,347.7 185.7,347.0 189.7,346.2 193.7,345.5 197.7,344.8 201.7,344.2 205.7,343.5 209.7,342.8 213.7,342.1 217.7,341.3 221.7,340.6 225.7,339.9 229.7,339.2 233.7,338.5 237.7,337.8 241.7,337.1 245.7,336.4 249.7,335.8 253.7,335.1 257.7,334.4 261.7,333.7 265.7,333.0 269.7,332.2 273.7,331.4 277.7,330.7 281.7,330.0 285.7,329.4 289.7,328.7 293.7,328.1 297.7,327.5 301.7,327.0 305.7,326.4 309.7,325.9 313.7,325.3 317.7,324.8 321.7,324.3 325.7,323.7 329.7,323.2 333.7,322.7 337.7,322.2 341.7,321.7 345.7,321.3 349.7,320.8 353.7,320.3 357.7,319.9 361.7,319.4 365.7,318.9 369.7,318.5 373.7,318.0 377.7,317.6 381.7,317.2 385.7,316.7 389.7,316.3 393.7,315.8 397.7,315.4 401.7,315.0 405.7,314.5 409.7,314.0 413.7,313.5 417.7,313.1 421.7,312.8 425.7,312.5 429.7,312.2 433.7,312.1 437.7,312.0 441.7,311.9 445.7,311.9 449.7,312.0 453.7,312.1 457.7,312.2 461.7,312.3 465.7,312.4 469.7,312.6 473.7,312.7 477.7,312.9 481.7,313.1 485.7,313.3 489.7,313.5 493.7,313.7 497.7,313.9 501.7,314.1 505.7,314.3 509.7,314.5 513.7,314.7 517.7,315.0 521.7,315.3 525.7,315.5 529.7,315.8 533.7,316.1 537.7,316.4 541.7,316.6 545.7,316.9 549.7,317.2 553.7,317.5 557.7,317.8 561.7,318.1 565.7,318.4 569.7,318.7 573.7,319.0 577.7,319.3 581.7,319.5 585.7,319.8 589.7,320.1 593.7,320.5 597.8,320.8" fill="none" stroke="#ff0000" stroke-width="3.8" stroke-opacity="0.260" stroke-linejoin="round" /><polyline points="61.7,359.4 65.7,359.4 69.7,359.4 73.7,359.4 77.7,359.4 81.7,359.4 85.7,359.4 89.7,359.4 93.7,359.4 97.7,359.3 101.7,359.1 105.7,358.9 109.7,358.7 113.7,358.5 117.7,358.2 121.7,358.0 125.7,357.7 129.7,357.4 133.7,357.0 137.7,356.6 141.7,356.1 145.7,355.5 149.7,355.0 153.7,354.2 157.7,353.3 161.7,352.3 165.7,351.3 169.7,350.3 173.7,349.3 177.7,348.3 181.7,347.5 185.7,346.7 189.7,346.0 193.7,345.2 197.7,344.5 201.7,343.9 205.7,343.2 209.7,342.5 213.7,341.7 217.7,341.0 221.7,340.3 225.7,339.5 229.7,338.8 233.7,338.1 237.7,337.4 241.7,336.7 245.7,336.0 249.7,335.3 253.7,334.6 257.7,333.9 261.7,333.2 265.7,332.5 269.7,331.7 273.7,330.9 277.7,330.1 281.7,329.5 285.7,328.8 289.7,328.2 293.7,327.6 297.7,327.0 301.7,326.4 305.7,325.8 309.7,325.2 313.7,324.7 317.7,324.1 321.7,323.6 325.7,323.1 329.7,322.6 333.7,322.1 337.7,321.6 341.7,321.1 345.7,320.6 349.7,320.1 353.7,319.6 357.7,319.2 361.7,318.7 365.7,318.2 369.7,317.8 373.7,317.3 377.7,316.9 381.7,316.4 385.7,316.0 389.7,315.5 393.7,315.1 397.7,314.6 401.7,314.2 405.7,313.7 409.7,313.2 413.7,312.7 417.7,312.3 421.7,312.0 425.7,311.7 429.7,311.4 433.7,311.2 437.7,311.1 441.7,311.1 445.7,311.1 449.7,311.2 453.7,311.3 457.7,311.4 461.7,311.5 465.7,311.7 469.7,311.9 473.7,312.0 477.7,312.2 481.7,312.4 485.7,312.6 489.7,312.8 493.7,313.0 497.7,313.2 501.7,313.4 505.7,313.7 509.7,313.9 513.7,314.2 517.7,314.4 521.7,314.7 525.7,315.0 529.7,315.3 533.7,315.6 537.7,315.8 541.7,316.1 545.7,316.4 549.7,316.7 553.7,317.1 557.7,317.4 561.7,317.7 565.7,318.0 569.7,318.3 573.7,318.6 577.7,318.9 581.7,319.1 585.7,319.4 589.7,319.8 593.7,320.1 597.8,320.4" fill="none" stroke="#ff0000" stroke-width="3.8" stroke-opacity="0.260" stroke-linejoin="round" /><polyline points="61.7,359.4 65.7,359.4 69.7,359.4 73.7,359.4 77.7,359.4 81.7,359.4 85.7,359.4 89.7,359.4 93.7,359.4 97.7,359.3 101.7,359.1 105.7,358.9 109.7,358.7 113.7,358.5 117.7,358.2 121.7,358.0 125.7,357.7 129.7,357.4 133.7,357.0 137.7,356.6 141.7,356.1 145.7,355.5 149.7,355.0 153.7,354.4 157.7,353.6 161.7,352.9 165.7,352.1 169.7,351.4 173.7,350.6 177.7,349.8 181.7,349.2 185.7,348.5 189.7,347.9 193.7,347.3 197.7,346.6 201.7,346.0 205.7,345.4 209.7,344.8 213.7,344.1 217.7,343.5 221.7,342.8 225.7,342.2 229.7,341.6 233.7,341.0 237.7,340.3 241.7,339.8 245.7,339.2 249.7,338.6 253.7,338.0 257.7,337.4 261.7,336.8 265.7,336.1 269.7,335.4 273.7,334.7 277.7,334.0 281.7,333.4 285.7,332.8 289.7,332.2 293.7,331.7 297.7,331.2 301.7,330.6 305.7,330.1 309.7,329.6 313.7,329.2 317.7,328.7 321.7,328.2 325.7,327.7 329.7,327.3 333.7,326.8 337.7,326.4 341.7,325.9 345.7,325.5 349.7,325.1 353.7,324.6 357.7,324.2 361.7,323.8 365.7,323.4 369.7,323.0 373.7,322.5 377.7,322.1 381.7,321.7 385.7,321.3 389.7,320.9 393.7,320.5 397.7,320.1 401.7,319.7 405.7,319.3 409.7,318.8 413.7,318.4 417.7,318.1 421.7,317.8 425.7,317.5 429.7,317.3 433.7,317.1 437.7,317.0 441.7,316.9 445.7,316.8 449.7,316.8 453.7,316.8 457.7,316.8 461.7,316.9 465.7,316.9 469.7,317.0 473.7,317.1 477.7,317.2 481.7,317.3 485.7,317.4 489.7,317.5 493.7,317.7 497.7,317.8 501.7,317.9 505.7,318.0 509.7,318.2 513.7,318.4 517.7,318.5 521.7,318.7 525.7,318.9 529.7,319.1 533.7,319.3 537.7,319.5 541.7,319.7 545.7,319.9 549.7,320.1 553.7,320.4 557.7,320.6 561.7,320.8 565.7,321.1 569.7,321.3 573.7,321.5 577.7,321.8 581.7,322.0 585.7,322.3 589.7,322.6 593.7,322.9 597.8,323.2" fill="none" stroke="#ff0000" stroke-width="3.8" stroke-opacity="0.260" stroke-linejoin="round" /><polyline points="61.7,359.4 65.7,359.4 69.7,359.4 73.7,359.4 77.7,359.4 81.7,359.4 85.7,359.4 89.7,359.4 93.7,359.4 97.7,359.3 101.7,359.1 105.7,358.9 109.7,358.7 113.7,358.5 117.7,358.2 121.7,358.0 125.7,357.7 129.7,357.4 133.7,357.0 137.7,356.6 141.7,356.1 145.7,355.5 149.7,355.0 153.7,354.4 157.7,353.6 161.7,352.9 165.7,352.1 169.7,351.4 173.7,350.6 177.7,349.8 181.7,349.1 185.7,348.5 189.7,347.9 193.7,347.2 197.7,346.6 201.7,346.0 205.7,345.4 209.7,344.8 213.7,344.1 217.7,343.5 221.7,342.8 225.7,342.2 229.7,341.6 233.7,340.9 237.7,340.3 241.7,339.7 245.7,339.1 249.7,338.6 253.7,338.0 257.7,337.4 261.7,336.7 265.7,336.1 269.7,335.3 273.7,334.6 277.7,334.0 281.7,333.3 285.7,332.8 289.7,332.2 293.7,331.7 297.7,331.1 301.7,330.6 305.7,330.1 309.7,329.6 313.7,329.1 317.7,328.6 321.7,328.2 325.7,327.7 329.7,327.2 333.7,326.8 337.7,326.3 341.7,325.9 345.7,325.4 349.7,325.0 353.7,324.6 357.7,324.2 361.7,323.7 365.7,323.3 369.7,322.9 373.7,322.5 377.7,322.1 381.7,321.7 385.7,321.3 389.7,320.9 393.7,320.5 397.7,320.1 401.7,319.7 405.7,319.2 409.7,318.8 413.7,318.4 417.7,318.0 421.7,317.8 425.7,317.5 429.7,317.3 433.7,317.1 437.7,316.9 441.7,316.8 445.7,316.8 449.7,316.7 453.7,316.7 457.7,316.8 461.7,316.8 465.7,316.9 469.7,317.0 473.7,317.1 477.7,317.2 481.7,317.3 485.7,317.4 489.7,317.5 493.7,317.6 497.7,317.7 501.7,317.9 505.7,318.0 509.7,318.1 513.7,318.3 517.7,318.5 521.7,318.7 525.7,318.9 529.7,319.1 533.7,319.3 537.7,319.5 541.7,319.7 545.7,319.9 549.7,320.1 553.7,320.3 557.7,320.6 561.7,320.8 565.7,321.0 569.7,321.3 573.7,321.5 577.7,321.7 581.7,322.0 585.7,322.2 589.7,322.5 593.7,322.9 597.8,323.2" fill="none" stroke="#ff0000" stroke-width="3.8" stroke-opacity="0.260" stroke-linejoin="round" /><polyline points="61.7,359.4 65.7,359.4 69.7,359.4 73.7,359.4 77.7,359.4 81.7,359.4 85.7,359.4 89.7,359.4 93.7,359.4 97.7,359.3 101.7,359.1 105.7,358.9 109.7,358.7 113.7,358.5 117.7,358.2 121.7,358.0 125.7,357.7 129.7,357.4 133.7,357.0 137.7,356.6 141.7,356.1 145.7,355.5 149.7,355.0 153.7,354.4 157.7,353.7 161.7,352.9 165.7,352.2 169.7,351.4 173.7,350.6 177.7,349.9 181.7,349.2 185.7,348.6 189.7,348.0 193.7,347.3 197.7,346.7 201.7,346.1 205.7,345.5 209.7,344.9 213.7,344.2 217.7,343.6 221.7,343.0 225.7,342.3 229.7,341.7 233.7,341.1 237.7,340.5 241.7,339.9 245.7,339.3 249.7,338.7 253.7,338.2 257.7,337.6 261.7,336.9 265.7,336.3 269.7,335.5 273.7,334.8 277.7,334.2 281.7,333.6 285.7,333.0 289.7,332.4 293.7,331.9 297.7,331.3 301.7,330.8 305.7,330.3 309.7,329.8 313.7,329.4 317.7,328.9 321.7,328.4 325.7,327.9 329.7,327.5 333.7,327.0 337.7,326.6 341.7,326.1 345.7,325.7 349.7,325.3 353.7,324.9 357.7,324.4 361.7,324.0 365.7,323.6 369.7,323.2 373.7,322.8 377.7,322.4 381.7,322.0 385.7,321.6 389.7,321.2 393.7,320.8 397.7,320.4 401.7,320.0 405.7,319.5 409.7,319.1 413.7,318.7 417.7,318.3 421.7,318.1 425.7,317.8 429.7,317.6 433.7,317.4 437.7,317.2 441.7,317.1 445.7,317.1 449.7,317.0 453.7,317.0 457.7,317.1 461.7,317.1 465.7,317.2 469.7,317.3 473.7,317.3 477.7,317.4 481.7,317.5 485.7,317.6 489.7,317.8 493.7,317.9 497.7,318.0 501.7,318.1 505.7,318.2 509.7,318.4 513.7,318.5 517.7,318.7 521.7,318.9 525.7,319.1 529.7,319.3 533.7,319.5 537.7,319.7 541.7,319.9 545.7,320.1 549.7,320.3 553.7,320.5 557.7,320.7 561.7,321.0 565.7,321.2 569.7,321.4 573.7,321.7 577.7,321.9 581.7,322.1 585.7,322.4 589.7,322.7 593.7,323.0 597.8,323.4" fill="none" stroke="#ff0000" stroke-width="3.8" stroke-opacity="0.260" stroke-linejoin="round" /><polyline points="61.7,359.4 65.7,359.4 69.7,359.4 73.7,359.4 77.7,359.4 81.7,359.4 85.7,359.4 89.7,359.4 93.7,359.4 97.7,359.3 101.7,359.1 105.7,358.9 109.7,358.7 113.7,358.5 117.7,358.2 121.7,358.0 125.7,357.7 129.7,357.4 133.7,357.0 137.7,356.6 141.7,356.1 145.7,355.5 149.7,355.0 153.7,354.4 157.7,353.7 161.7,353.0 165.7,352.3 169.7,351.5 173.7,350.8 177.7,350.0 181.7,349.4 185.7,348.7 189.7,348.1 193.7,347.5 197.7,346.9 201.7,346.3 205.7,345.7 209.7,345.1 213.7,344.5 217.7,343.8 221.7,343.2 225.7,342.6 229.7,342.0 233.7,341.3 237.7,340.7 241.7,340.2 245.7,339.6 249.7,339.0 253.7,338.5 257.7,337.9 261.7,337.2 265.7,336.6 269.7,335.9 273.7,335.2 277.7,334.5 281.7,333.9 285.7,333.3 289.7,332.8 293.7,332.2 297.7,331.7 301.7,331.2 305.7,330.7 309.7,330.2 313.7,329.8 317.7,329.3 321.7,328.8 325.7,328.3 329.7,327.9 333.7,327.4 337.7,327.0 341.7,326.6 345.7,326.1 349.7,325.7 353.7,325.3 357.7,324.9 361.7,324.5 365.7,324.1 369.7,323.7 373.7,323.2 377.7,322.8 381.7,322.4 385.7,322.1 389.7,321.7 393.7,321.3 397.7,320.9 401.7,320.5 405.7,320.0 409.7,319.6 413.7,319.2 417.7,318.8 421.7,318.6 425.7,318.3 429.7,318.1 433.7,317.9 437.7,317.8 441.7,317.7 445.7,317.6 449.7,317.5 453.7,317.5 457.7,317.5 461.7,317.6 465.7,317.6 469.7,317.7 473.7,317.8 477.7,317.9 481.7,318.0 485.7,318.1 489.7,318.2 493.7,318.3 497.7,318.4 501.7,318.5 505.7,318.6 509.7,318.8 513.7,318.9 517.7,319.1 521.7,319.3 525.7,319.5 529.7,319.6 533.7,319.8 537.7,320.0 541.7,320.2 545.7,320.4 549.7,320.6 553.7,320.8 557.7,321.0 561.7,321.2 565.7,321.5 569.7,321.7 573.7,321.9 577.7,322.1 581.7,322.4 585.7,322.6 589.7,322.9 593.7,323.3 597.8,323.6" fill="none" stroke="#ff0000" stroke-width="3.8" stroke-opacity="0.260" stroke-linejoin="round" /><polyline points="61.7,359.4 65.7,359.4 69.7,359.4 73.7,359.4 77.7,359.4 81.7,359.4 85.7,359.4 89.7,359.4 93.7,359.4 97.7,359.3 101.7,359.1 105.7,358.9 109.7,358.7 113.7,358.5 117.7,358.2 121.7,358.0 125.7,357.7 129.7,357.4 133.7,357.0 137.7,356.6 141.7,356.1 145.7,355.5 149.7,355.0 153.7,354.4 157.7,353.7 161.7,352.9 165.7,352.2 169.7,351.4 173.7,350.6 177.7,349.9 181.7,349.2 185.7,348.6 189.7,347.9 193.7,347.3 197.7,346.7 201.7,346.1 205.7,345.5 209.7,344.8 213.7,344.2 217.7,343.6 221.7,342.9 225.7,342.3 229.7,341.7 233.7,341.0 237.7,340.4 241.7,339.8 245.7,339.3 249.7,338.7 253.7,338.1 257.7,337.5 261.7,336.9 265.7,336.2 269.7,335.5 273.7,334.8 277.7,334.1 281.7,333.5 285.7,332.9 289.7,332.3 293.7,331.8 297.7,331.3 301.7,330.8 305.7,330.3 309.7,329.8 313.7,329.3 317.7,328.8 321.7,328.3 325.7,327.9 329.7,327.4 333.7,326.9 337.7,326.5 341.7,326.1 345.7,325.6 349.7,325.2 353.7,324.8 357.7,324.4 361.7,323.9 365.7,323.5 369.7,323.1 373.7,322.7 377.7,322.3 381.7,321.9 385.7,321.5 389.7,321.1 393.7,320.7 397.7,320.3 401.7,319.9 405.7,319.4 409.7,319.0 413.7,318.6 417.7,318.2 421.7,318.0 425.7,317.7 429.7,317.5 433.7,317.3 437.7,317.1 441.7,317.0 445.7,317.0 449.7,316.9 453.7,316.9 457.7,317.0 461.7,317.0 465.7,317.1 469.7,317.2 473.7,317.3 477.7,317.4 481.7,317.5 485.7,317.6 489.7,317.7 493.7,317.8 497.7,317.9 501.7,318.0 505.7,318.2 509.7,318.3 513.7,318.5 517.7,318.7 521.7,318.8 525.7,319.0 529.7,319.2 533.7,319.4 537.7,319.6 541.7,319.8 545.7,320.0 549.7,320.2 553.7,320.5 557.7,320.7 561.7,320.9 565.7,321.1 569.7,321.4 573.7,321.6 577.7,321.8 581.7,322.1 585.7,322.3 589.7,322.6 593.7,323.0 597.8,323.3" fill="none" stroke="#ff0000" stroke-width="3.8" stroke-opacity="0.260" stroke-linejoin="round" /><polyline points="61.7,359.4 65.7,359.4 69.7,359.4 73.7,359.4 77.7,359.4 81.7,359.4 85.7,359.4 89.7,359.4 93.7,359.4 97.7,359.3 101.7,359.1 105.7,358.9 109.7,358.7 113.7,358.5 117.7,358.2 121.7,358.0 125.7,357.7 129.7,357.4 133.7,357.0 137.7,356.6 141.7,356.1 145.7,355.5 149.7,355.0 153.7,354.4 157.7,353.7 161.7,353.0 165.7,352.2 169.7,351.5 173.7,350.7 177.7,350.0 181.7,349.3 185.7,348.7 189.7,348.1 193.7,347.5 197.7,346.9 201.7,346.3 205.7,345.7 209.7,345.1 213.7,344.4 217.7,343.8 221.7,343.1 225.7,342.5 229.7,341.9 233.7,341.3 237.7,340.7 241.7,340.1 245.7,339.5 249.7,339.0 253.7,338.4 257.7,337.8 261.7,337.2 265.7,336.5 269.7,335.8 273.7,335.1 277.7,334.4 281.7,333.8 285.7,333.3 289.7,332.7 293.7,332.2 297.7,331.7 301.7,331.1 305.7,330.6 309.7,330.2 313.7,329.7 317.7,329.2 321.7,328.7 325.7,328.3 329.7,327.8 333.7,327.4 337.7,326.9 341.7,326.5 345.7,326.1 349.7,325.6 353.7,325.2 357.7,324.8 361.7,324.4 365.7,324.0 369.7,323.6 373.7,323.2 377.7,322.8 381.7,322.4 385.7,322.0 389.7,321.6 393.7,321.2 397.7,320.8 401.7,320.4 405.7,319.9 409.7,319.5 413.7,319.1 417.7,318.7 421.7,318.5 425.7,318.2 429.7,318.0 433.7,317.8 437.7,317.7 441.7,317.6 445.7,317.5 449.7,317.4 453.7,317.4 457.7,317.4 461.7,317.5 465.7,317.6 469.7,317.6 473.7,317.7 477.7,317.8 481.7,317.9 485.7,318.0 489.7,318.1 493.7,318.2 497.7,318.3 501.7,318.4 505.7,318.5 509.7,318.7 513.7,318.8 517.7,319.0 521.7,319.2 525.7,319.4 529.7,319.6 533.7,319.8 537.7,320.0 541.7,320.1 545.7,320.3 549.7,320.5 553.7,320.8 557.7,321.0 561.7,321.2 565.7,321.4 569.7,321.6 573.7,321.9 577.7,322.1 581.7,322.3 585.7,322.6 589.7,322.9 593.7,323.2 597.8,323.6" fill="none" stroke="#ff0000" stroke-width="3.8" stroke-opacity="0.260" stroke-linejoin="round" /><polyline points="61.7,359.4 65.7,359.4 69.7,359.4 73.7,359.4 77.7,359.4 81.7,359.4 85.7,359.4 89.7,359.4 93.7,359.4 97.7,359.3 101.7,359.1 105.7,358.9 109.7,358.7 113.7,358.5 117.7,358.2 121.7,358.0 125.7,357.7 129.7,357.4 133.7,357.0 137.7,356.6 141.7,356.1 145.7,355.5 149.7,355.0 153.7,354.4 157.7,353.6 161.7,352.9 165.7,352.1 169.7,351.4 173.7,350.6 177.7,349.8 181.7,349.1 185.7,348.5 189.7,347.8 193.7,347.2 197.7,346.6 201.7,346.0 205.7,345.4 209.7,344.7 213.7,344.1 217.7,343.5 221.7,342.8 225.7,342.2 229.7,341.5 233.7,340.9 237.7,340.3 241.7,339.7 245.7,339.1 249.7,338.5 253.7,338.0 257.7,337.4 261.7,336.7 265.7,336.0 269.7,335.3 273.7,334.6 277.7,333.9 281.7,333.3 285.7,332.7 289.7,332.2 293.7,331.6 297.7,331.1 301.7,330.6 305.7,330.1 309.7,329.6 313.7,329.1 317.7,328.6 321.7,328.1 325.7,327.7 329.7,327.2 333.7,326.7 337.7,326.3 341.7,325.8 345.7,325.4 349.7,325.0 353.7,324.6 357.7,324.1 361.7,323.7 365.7,323.3 369.7,322.9 373.7,322.5 377.7,322.1 381.7,321.7 385.7,321.3 389.7,320.9 393.7,320.4 397.7,320.0 401.7,319.6 405.7,319.2 409.7,318.8 413.7,318.3 417.7,318.0 421.7,317.7 425.7,317.4 429.7,317.2 433.7,317.0 437.7,316.9 441.7,316.8 445.7,316.7 449.7,316.7 453.7,316.7 457.7,316.7 461.7,316.8 465.7,316.9 469.7,316.9 473.7,317.0 477.7,317.1 481.7,317.2 485.7,317.4 489.7,317.5 493.7,317.6 497.7,317.7 501.7,317.8 505.7,318.0 509.7,318.1 513.7,318.3 517.7,318.5 521.7,318.7 525.7,318.9 529.7,319.1 533.7,319.3 537.7,319.5 541.7,319.7 545.7,319.9 549.7,320.1 553.7,320.3 557.7,320.5 561.7,320.8 565.7,321.0 569.7,321.2 573.7,321.5 577.7,321.7 581.7,321.9 585.7,322.2 589.7,322.5 593.7,322.8 597.8,323.2" fill="none" stroke="#ff0000" stroke-width="3.8" stroke-opacity="0.260" stroke-linejoin="round" /><polyline points="61.7,359.4 65.7,359.4 69.7,359.4 73.7,359.4 77.7,359.4 81.7,359.4 85.7,359.4 89.7,359.4 93.7,359.4 97.7,359.3 101.7,359.1 105.7,358.9 109.7,358.7 113.7,358.5 117.7,358.2 121.7,358.0 125.7,357.7 129.7,357.4 133.7,357.0 137.7,356.6 141.7,356.1 145.7,355.5 149.7,355.0 153.7,354.4 157.7,353.7 161.7,352.9 165.7,352.2 169.7,351.4 173.7,350.7 177.7,349.9 181.7,349.3 185.7,348.6 189.7,348.0 193.7,347.4 197.7,346.8 201.7,346.2 205.7,345.5 209.7,344.9 213.7,344.3 217.7,343.6 221.7,343.0 225.7,342.4 229.7,341.7 233.7,341.1 237.7,340.5 241.7,339.9 245.7,339.4 249.7,338.8 253.7,338.2 257.7,337.6 261.7,337.0 265.7,336.3 269.7,335.6 273.7,334.9 277.7,334.2 281.7,333.6 285.7,333.0 289.7,332.5 293.7,331.9 297.7,331.4 301.7,330.9 305.7,330.4 309.7,329.9 313.7,329.4 317.7,328.9 321.7,328.5 325.7,328.0 329.7,327.5 333.7,327.1 337.7,326.6 341.7,326.2 345.7,325.8 349.7,325.3 353.7,324.9 357.7,324.5 361.7,324.1 365.7,323.7 369.7,323.3 373.7,322.9 377.7,322.4 381.7,322.0 385.7,321.6 389.7,321.2 393.7,320.9 397.7,320.5 401.7,320.0 405.7,319.6 409.7,319.2 413.7,318.8 417.7,318.4 421.7,318.1 425.7,317.9 429.7,317.6 433.7,317.5 437.7,317.3 441.7,317.2 445.7,317.1 449.7,317.1 453.7,317.1 457.7,317.1 461.7,317.2 465.7,317.2 469.7,317.3 473.7,317.4 477.7,317.5 481.7,317.6 485.7,317.7 489.7,317.8 493.7,317.9 497.7,318.0 501.7,318.2 505.7,318.3 509.7,318.4 513.7,318.6 517.7,318.8 521.7,319.0 525.7,319.2 529.7,319.4 533.7,319.5 537.7,319.7 541.7,319.9 545.7,320.1 549.7,320.3 553.7,320.6 557.7,320.8 561.7,321.0 565.7,321.2 569.7,321.5 573.7,321.7 577.7,321.9 581.7,322.2 585.7,322.4 589.7,322.7 593.7,323.0 597.8,323.4" fill="none" stroke="#ff0000" stroke-width="3.8" stroke-opacity="0.260" stroke-linejoin="round" /><polyline points="61.7,359.4 65.7,359.4 69.7,359.4 73.7,359.4 77.7,359.4 81.7,359.4 85.7,359.4 89.7,359.4 93.7,359.4 97.7,359.3 101.7,359.1 105.7,358.9 109.7,358.7 113.7,358.5 117.7,358.2 121.7,358.0 125.7,357.7 129.7,357.4 133.7,357.0 137.7,356.6 141.7,356.1 145.7,355.5 149.7,355.0 153.7,354.5 157.7,353.9 161.7,353.2 165.7,352.6 169.7,352.0 173.7,351.4 177.7,350.8 181.7,350.2 185.7,349.6 189.7,349.0 193.7,348.5 197.7,347.9 201.7,347.3 205.7,346.8 209.7,346.2 213.7,345.6 217.7,345.0 221.7,344.4 225.7,343.8 229.7,343.3 233.7,342.7 237.7,342.1 241.7,341.6 245.7,341.1 249.7,340.6 253.7,340.0 257.7,339.5 261.7,338.9 265.7,338.3 269.7,337.6 273.7,336.9 277.7,336.3 281.7,335.7 285.7,335.2 289.7,334.7 293.7,334.2 297.7,333.7 301.7,333.2 305.7,332.8 309.7,332.3 313.7,331.8 317.7,331.4 321.7,331.0 325.7,330.5 329.7,330.1 333.7,329.7 337.7,329.3 341.7,328.9 345.7,328.4 349.7,328.0 353.7,327.7 357.7,327.3 361.7,326.9 365.7,326.5 369.7,326.1 373.7,325.7 377.7,325.3 381.7,324.9 385.7,324.6 389.7,324.2 393.7,323.8 397.7,323.5 401.7,323.1 405.7,322.7 409.7,322.2 413.7,321.9 417.7,321.5 421.7,321.3 425.7,321.1 429.7,320.9 433.7,320.7 437.7,320.5 441.7,320.4 445.7,320.2 449.7,320.1 453.7,320.1 457.7,320.1 461.7,320.1 465.7,320.1 469.7,320.1 473.7,320.2 477.7,320.2 481.7,320.3 485.7,320.3 489.7,320.4 493.7,320.5 497.7,320.5 501.7,320.6 505.7,320.7 509.7,320.8 513.7,320.9 517.7,321.0 521.7,321.2 525.7,321.3 529.7,321.4 533.7,321.6 537.7,321.7 541.7,321.9 545.7,322.0 549.7,322.2 553.7,322.4 557.7,322.5 561.7,322.7 565.7,322.9 569.7,323.1 573.7,323.3 577.7,323.5 581.7,323.7 585.7,324.0 589.7,324.3 593.7,324.6 597.8,324.9" fill="none" stroke="#ff0000" stroke-width="3.8" stroke-opacity="0.260" stroke-linejoin="round" /><polyline points="61.7,359.4 65.7,359.4 69.7,359.4 73.7,359.4 77.7,359.4 81.7,359.4 85.7,359.4 89.7,359.4 93.7,359.4 97.7,359.3 101.7,359.1 105.7,358.9 109.7,358.7 113.7,358.5 117.7,358.2 121.7,358.0 125.7,357.7 129.7,357.4 133.7,357.0 137.7,356.6 141.7,356.1 145.7,355.5 149.7,355.0 153.7,354.5 157.7,353.9 161.7,353.3 165.7,352.7 169.7,352.1 173.7,351.5 177.7,350.9 181.7,350.3 185.7,349.7 189.7,349.2 193.7,348.6 197.7,348.0 201.7,347.5 205.7,346.9 209.7,346.3 213.7,345.7 217.7,345.2 221.7,344.6 225.7,344.0 229.7,343.4 233.7,342.9 237.7,342.3 241.7,341.8 245.7,341.3 249.7,340.8 253.7,340.3 257.7,339.7 261.7,339.1 265.7,338.5 269.7,337.9 273.7,337.2 277.7,336.6 281.7,336.0 285.7,335.5 289.7,335.0 293.7,334.5 297.7,334.0 301.7,333.5 305.7,333.0 309.7,332.6 313.7,332.1 317.7,331.7 321.7,331.3 325.7,330.8 329.7,330.4 333.7,330.0 337.7,329.6 341.7,329.2 345.7,328.8 349.7,328.4 353.7,328.0 357.7,327.6 361.7,327.2 365.7,326.8 369.7,326.4 373.7,326.1 377.7,325.7 381.7,325.3 385.7,324.9 389.7,324.6 393.7,324.2 397.7,323.8 401.7,323.4 405.7,323.0 409.7,322.6 413.7,322.2 417.7,321.9 421.7,321.7 425.7,321.5 429.7,321.3 433.7,321.1 437.7,320.9 441.7,320.7 445.7,320.6 449.7,320.5 453.7,320.5 457.7,320.4 461.7,320.4 465.7,320.5 469.7,320.5 473.7,320.5 477.7,320.6 481.7,320.6 485.7,320.7 489.7,320.7 493.7,320.8 497.7,320.8 501.7,320.9 505.7,321.0 509.7,321.1 513.7,321.2 517.7,321.3 521.7,321.4 525.7,321.6 529.7,321.7 533.7,321.9 537.7,322.0 541.7,322.1 545.7,322.3 549.7,322.4 553.7,322.6 557.7,322.7 561.7,322.9 565.7,323.1 569.7,323.3 573.7,323.5 577.7,323.7 581.7,323.9 585.7,324.2 589.7,324.4 593.7,324.8 597.8,325.1" fill="none" stroke="#ff0000" stroke-width="3.8" stroke-opacity="0.260" stroke-linejoin="round" /><polyline points="61.7,359.4 65.7,359.4 69.7,359.4 73.7,359.4 77.7,359.4 81.7,359.4 85.7,359.4 89.7,359.4 93.7,359.4 97.7,359.3 101.7,359.1 105.7,358.9 109.7,358.7 113.7,358.5 117.7,358.2 121.7,358.0 125.7,357.7 129.7,357.4 133.7,357.0 137.7,356.6 141.7,356.1 145.7,355.5 149.7,355.0 153.7,354.5 157.7,353.9 161.7,353.4 165.7,352.8 169.7,352.3 173.7,351.7 177.7,351.1 181.7,350.6 185.7,350.1 189.7,349.5 193.7,349.0 197.7,348.4 201.7,347.9 205.7,347.3 209.7,346.8 213.7,346.2 217.7,345.6 221.7,345.1 225.7,344.5 229.7,344.0 233.7,343.4 237.7,342.9 241.7,342.4 245.7,341.9 249.7,341.4 253.7,340.9 257.7,340.4 261.7,339.8 265.7,339.2 269.7,338.6 273.7,337.9 277.7,337.3 281.7,336.8 285.7,336.2 289.7,335.7 293.7,335.2 297.7,334.8 301.7,334.3 305.7,333.9 309.7,333.4 313.7,333.0 317.7,332.6 321.7,332.1 325.7,331.7 329.7,331.3 333.7,330.9 337.7,330.5 341.7,330.1 345.7,329.7 349.7,329.3 353.7,328.9 357.7,328.6 361.7,328.2 365.7,327.8 369.7,327.4 373.7,327.1 377.7,326.7 381.7,326.3 385.7,326.0 389.7,325.6 393.7,325.2 397.7,324.9 401.7,324.5 405.7,324.1 409.7,323.7 413.7,323.3 417.7,323.0 421.7,322.8 425.7,322.6 429.7,322.4 433.7,322.2 437.7,322.0 441.7,321.9 445.7,321.7 449.7,321.6 453.7,321.5 457.7,321.5 461.7,321.5 465.7,321.5 469.7,321.5 473.7,321.5 477.7,321.6 481.7,321.6 485.7,321.6 489.7,321.7 493.7,321.7 497.7,321.7 501.7,321.8 505.7,321.8 509.7,321.9 513.7,322.0 517.7,322.1 521.7,322.2 525.7,322.4 529.7,322.5 533.7,322.6 537.7,322.8 541.7,322.9 545.7,323.0 549.7,323.1 553.7,323.3 557.7,323.4 561.7,323.6 565.7,323.7 569.7,323.9 573.7,324.1 577.7,324.3 581.7,324.5 585.7,324.7 589.7,325.0 593.7,325.3 597.8,325.7" fill="none" stroke="#ff0000" stroke-width="3.8" stroke-opacity="0.260" stroke-linejoin="round" /><polyline points="61.7,359.4 65.7,359.4 69.7,359.4 73.7,359.4 77.7,359.4 81.7,359.4 85.7,359.4 89.7,359.4 93.7,359.4 97.7,359.3 101.7,359.1 105.7,358.9 109.7,358.7 113.7,358.5 117.7,358.2 121.7,358.0 125.7,357.7 129.7,357.4 133.7,357.0 137.7,356.6 141.7,356.1 145.7,355.5 149.7,355.0 153.7,354.5 157.7,353.9 161.7,353.3 165.7,352.8 169.7,352.2 173.7,351.6 177.7,351.0 181.7,350.4 185.7,349.9 189.7,349.3 193.7,348.8 197.7,348.2 201.7,347.7 205.7,347.1 209.7,346.5 213.7,346.0 217.7,345.4 221.7,344.8 225.7,344.2 229.7,343.7 233.7,343.1 237.7,342.6 241.7,342.1 245.7,341.6 249.7,341.1 253.7,340.6 257.7,340.0 261.7,339.4 265.7,338.8 269.7,338.2 273.7,337.5 277.7,336.9 281.7,336.3 285.7,335.8 289.7,335.3 293.7,334.8 297.7,334.3 301.7,333.9 305.7,333.4 309.7,333.0 313.7,332.5 317.7,332.1 321.7,331.7 325.7,331.2 329.7,330.8 333.7,330.4 337.7,330.0 341.7,329.6 345.7,329.2 349.7,328.8 353.7,328.4 357.7,328.0 361.7,327.6 365.7,327.3 369.7,326.9 373.7,326.5 377.7,326.1 381.7,325.8 385.7,325.4 389.7,325.0 393.7,324.7 397.7,324.3 401.7,323.9 405.7,323.5 409.7,323.1 413.7,322.7 417.7,322.4 421.7,322.2 425.7,322.0 429.7,321.8 433.7,321.6 437.7,321.4 441.7,321.2 445.7,321.1 449.7,321.0 453.7,320.9 457.7,320.9 461.7,320.9 465.7,320.9 469.7,320.9 473.7,321.0 477.7,321.0 481.7,321.0 485.7,321.1 489.7,321.1 493.7,321.2 497.7,321.2 501.7,321.3 505.7,321.3 509.7,321.4 513.7,321.5 517.7,321.6 521.7,321.8 525.7,321.9 529.7,322.0 533.7,322.2 537.7,322.3 541.7,322.4 545.7,322.6 549.7,322.7 553.7,322.9 557.7,323.0 561.7,323.2 565.7,323.3 569.7,323.5 573.7,323.7 577.7,323.9 581.7,324.1 585.7,324.4 589.7,324.7 593.7,325.0 597.8,325.3" fill="none" stroke="#ff0000" stroke-width="3.8" stroke-opacity="0.260" stroke-linejoin="round" /><polyline points="61.7,359.4 65.7,359.4 69.7,359.4 73.7,359.4 77.7,359.4 81.7,359.4 85.7,359.4 89.7,359.4 93.7,359.4 97.7,359.3 101.7,359.1 105.7,358.9 109.7,358.7 113.7,358.5 117.7,358.2 121.7,358.0 125.7,357.7 129.7,357.4 133.7,357.0 137.7,356.6 141.7,356.1 145.7,355.5 149.7,355.0 153.7,354.5 157.7,353.9 161.7,353.4 165.7,352.8 169.7,352.3 173.7,351.7 177.7,351.1 181.7,350.6 185.7,350.0 189.7,349.5 193.7,349.0 197.7,348.4 201.7,347.9 205.7,347.3 209.7,346.8 213.7,346.2 217.7,345.6 221.7,345.0 225.7,344.5 229.7,343.9 233.7,343.4 237.7,342.9 241.7,342.4 245.7,341.9 249.7,341.4 253.7,340.9 257.7,340.3 261.7,339.8 265.7,339.2 269.7,338.5 273.7,337.9 277.7,337.3 281.7,336.7 285.7,336.2 289.7,335.7 293.7,335.2 297.7,334.7 301.7,334.3 305.7,333.8 309.7,333.4 313.7,332.9 317.7,332.5 321.7,332.1 325.7,331.7 329.7,331.2 333.7,330.8 337.7,330.4 341.7,330.0 345.7,329.6 349.7,329.3 353.7,328.9 357.7,328.5 361.7,328.1 365.7,327.7 369.7,327.4 373.7,327.0 377.7,326.6 381.7,326.3 385.7,325.9 389.7,325.5 393.7,325.2 397.7,324.8 401.7,324.4 405.7,324.0 409.7,323.6 413.7,323.3 417.7,322.9 421.7,322.7 425.7,322.5 429.7,322.3 433.7,322.1 437.7,322.0 441.7,321.8 445.7,321.7 449.7,321.5 453.7,321.5 457.7,321.4 461.7,321.4 465.7,321.4 469.7,321.4 473.7,321.5 477.7,321.5 481.7,321.5 485.7,321.5 489.7,321.6 493.7,321.6 497.7,321.7 501.7,321.7 505.7,321.8 509.7,321.9 513.7,322.0 517.7,322.1 521.7,322.2 525.7,322.3 529.7,322.4 533.7,322.6 537.7,322.7 541.7,322.8 545.7,323.0 549.7,323.1 553.7,323.2 557.7,323.4 561.7,323.5 565.7,323.7 569.7,323.8 573.7,324.0 577.7,324.2 581.7,324.4 585.7,324.7 589.7,325.0 593.7,325.3 597.8,325.6" fill="none" stroke="#ff0000" stroke-width="3.8" stroke-opacity="0.260" stroke-linejoin="round" /><polyline points="61.7,359.4 65.7,359.4 69.7,359.4 73.7,359.4 77.7,359.4 81.7,359.4 85.7,359.4 89.7,359.4 93.7,359.4 97.7,359.3 101.7,359.1 105.7,358.9 109.7,358.7 113.7,358.5 117.7,358.2 121.7,358.0 125.7,357.7 129.7,357.4 133.7,357.0 137.7,356.6 141.7,356.1 145.7,355.5 149.7,355.0 153.7,354.5 157.7,353.9 161.7,353.4 165.7,352.8 169.7,352.3 173.7,351.7 177.7,351.1 181.7,350.6 185.7,350.0 189.7,349.5 193.7,348.9 197.7,348.4 201.7,347.9 205.7,347.3 209.7,346.7 213.7,346.2 217.7,345.6 221.7,345.0 225.7,344.5 229.7,343.9 233.7,343.4 237.7,342.9 241.7,342.4 245.7,341.9 249.7,341.4 253.7,340.9 257.7,340.3 261.7,339.8 265.7,339.2 269.7,338.5 273.7,337.9 277.7,337.3 281.7,336.7 285.7,336.2 289.7,335.7 293.7,335.2 297.7,334.7 301.7,334.3 305.7,333.8 309.7,333.4 313.7,332.9 317.7,332.5 321.7,332.1 325.7,331.6 329.7,331.2 333.7,330.8 337.7,330.4 341.7,330.0 345.7,329.6 349.7,329.3 353.7,328.9 357.7,328.5 361.7,328.1 365.7,327.7 369.7,327.3 373.7,327.0 377.7,326.6 381.7,326.2 385.7,325.9 389.7,325.5 393.7,325.2 397.7,324.8 401.7,324.4 405.7,324.0 409.7,323.6 413.7,323.2 417.7,322.9 421.7,322.7 425.7,322.5 429.7,322.3 433.7,322.1 437.7,321.9 441.7,321.8 445.7,321.6 449.7,321.5 453.7,321.5 457.7,321.4 461.7,321.4 465.7,321.4 469.7,321.4 473.7,321.4 477.7,321.5 481.7,321.5 485.7,321.5 489.7,321.6 493.7,321.6 497.7,321.7 501.7,321.7 505.7,321.8 509.7,321.8 513.7,321.9 517.7,322.1 521.7,322.2 525.7,322.3 529.7,322.4 533.7,322.6 537.7,322.7 541.7,322.8 545.7,322.9 549.7,323.1 553.7,323.2 557.7,323.4 561.7,323.5 565.7,323.7 569.7,323.8 573.7,324.0 577.7,324.2 581.7,324.4 585.7,324.7 589.7,325.0 593.7,325.3 597.8,325.6" fill="none" stroke="#ff0000" stroke-width="3.8" stroke-opacity="0.260" stroke-linejoin="round" /><polyline points="61.7,359.4 65.7,359.4 69.7,359.4 73.7,359.4 77.7,359.4 81.7,359.4 85.7,359.4 89.7,359.4 93.7,359.4 97.7,359.3 101.7,359.1 105.7,358.9 109.7,358.7 113.7,358.5 117.7,358.2 121.7,358.0 125.7,357.7 129.7,357.4 133.7,357.0 137.7,356.6 141.7,356.1 145.7,355.5 149.7,355.0 153.7,354.5 157.7,353.9 161.7,353.4 165.7,352.9 169.7,352.3 173.7,351.7 177.7,351.2 181.7,350.6 185.7,350.1 189.7,349.6 193.7,349.0 197.7,348.5 201.7,348.0 205.7,347.4 209.7,346.9 213.7,346.3 217.7,345.7 221.7,345.2 225.7,344.6 229.7,344.1 233.7,343.5 237.7,343.0 241.7,342.5 245.7,342.0 249.7,341.5 253.7,341.0 257.7,340.5 261.7,339.9 265.7,339.3 269.7,338.7 273.7,338.0 277.7,337.4 281.7,336.9 285.7,336.4 289.7,335.9 293.7,335.4 297.7,334.9 301.7,334.5 305.7,334.0 309.7,333.6 313.7,333.1 317.7,332.7 321.7,332.3 325.7,331.9 329.7,331.4 333.7,331.0 337.7,330.6 341.7,330.3 345.7,329.9 349.7,329.5 353.7,329.1 357.7,328.7 361.7,328.3 365.7,328.0 369.7,327.6 373.7,327.2 377.7,326.9 381.7,326.5 385.7,326.1 389.7,325.8 393.7,325.4 397.7,325.1 401.7,324.7 405.7,324.3 409.7,323.9 413.7,323.5 417.7,323.2 421.7,323.0 425.7,322.8 429.7,322.6 433.7,322.4 437.7,322.2 441.7,322.1 445.7,321.9 449.7,321.8 453.7,321.7 457.7,321.7 461.7,321.7 465.7,321.7 469.7,321.7 473.7,321.7 477.7,321.7 481.7,321.8 485.7,321.8 489.7,321.8 493.7,321.9 497.7,321.9 501.7,322.0 505.7,322.0 509.7,322.1 513.7,322.2 517.7,322.3 521.7,322.4 525.7,322.5 529.7,322.7 533.7,322.8 537.7,322.9 541.7,323.0 545.7,323.2 549.7,323.3 553.7,323.4 557.7,323.6 561.7,323.7 565.7,323.8 569.7,324.0 573.7,324.2 577.7,324.4 581.7,324.6 585.7,324.8 589.7,325.1 593.7,325.5 597.8,325.8" fill="none" stroke="#ff0000" stroke-width="3.8" stroke-opacity="0.260" stroke-linejoin="round" /><polyline points="61.7,359.4 65.7,359.4 69.7,359.4 73.7,359.4 77.7,359.4 81.7,359.4 85.7,359.4 89.7,359.4 93.7,359.4 97.7,359.3 101.7,359.1 105.7,358.9 109.7,358.7 113.7,358.5 117.7,358.2 121.7,358.0 125.7,357.7 129.7,357.4 133.7,357.0 137.7,356.6 141.7,356.1 145.7,355.5 149.7,355.0 153.7,354.5 157.7,353.9 161.7,353.4 165.7,352.8 169.7,352.3 173.7,351.7 177.7,351.1 181.7,350.6 185.7,350.1 189.7,349.5 193.7,349.0 197.7,348.4 201.7,347.9 205.7,347.4 209.7,346.8 213.7,346.2 217.7,345.6 221.7,345.1 225.7,344.5 229.7,344.0 233.7,343.4 237.7,342.9 241.7,342.4 245.7,341.9 249.7,341.4 253.7,340.9 257.7,340.4 261.7,339.8 265.7,339.2 269.7,338.6 273.7,337.9 277.7,337.3 281.7,336.8 285.7,336.2 289.7,335.7 293.7,335.3 297.7,334.8 301.7,334.3 305.7,333.9 309.7,333.4 313.7,333.0 317.7,332.6 321.7,332.1 325.7,331.7 329.7,331.3 333.7,330.9 337.7,330.5 341.7,330.1 345.7,329.7 349.7,329.3 353.7,328.9 357.7,328.6 361.7,328.2 365.7,327.8 369.7,327.4 373.7,327.1 377.7,326.7 381.7,326.3 385.7,326.0 389.7,325.6 393.7,325.2 397.7,324.9 401.7,324.5 405.7,324.1 409.7,323.7 413.7,323.3 417.7,323.0 421.7,322.8 425.7,322.6 429.7,322.4 433.7,322.2 437.7,322.0 441.7,321.9 445.7,321.7 449.7,321.6 453.7,321.6 457.7,321.5 461.7,321.5 465.7,321.5 469.7,321.5 473.7,321.5 477.7,321.6 481.7,321.6 485.7,321.6 489.7,321.7 493.7,321.7 497.7,321.7 501.7,321.8 505.7,321.9 509.7,321.9 513.7,322.0 517.7,322.1 521.7,322.3 525.7,322.4 529.7,322.5 533.7,322.6 537.7,322.8 541.7,322.9 545.7,323.0 549.7,323.2 553.7,323.3 557.7,323.4 561.7,323.6 565.7,323.7 569.7,323.9 573.7,324.1 577.7,324.3 581.7,324.5 585.7,324.7 589.7,325.0 593.7,325.3 597.8,325.7" fill="none" stroke="#ff0000" stroke-width="3.8" stroke-opacity="0.260" stroke-linejoin="round" /><polyline points="61.7,359.4 65.7,359.4 69.7,359.4 73.7,359.4 77.7,359.4 81.7,359.4 85.7,359.4 89.7,359.4 93.7,359.4 97.7,359.3 101.7,359.1 105.7,358.9 109.7,358.7 113.7,358.5 117.7,358.2 121.7,358.0 125.7,357.7 129.7,357.4 133.7,357.0 137.7,356.6 141.7,356.1 145.7,355.5 149.7,355.0 153.7,354.5 157.7,354.0 161.7,353.7 165.7,353.4 169.7,353.1 173.7,352.7 177.7,352.3 181.7,351.9 185.7,351.5 189.7,351.1 193.7,350.6 197.7,350.2 201.7,349.7 205.7,349.3 209.7,348.8 213.7,348.3 217.7,347.8 221.7,347.3 225.7,346.8 229.7,346.4 233.7,345.9 237.7,345.5 241.7,345.1 245.7,344.7 249.7,344.3 253.7,343.8 257.7,343.4 261.7,342.9 265.7,342.3 269.7,341.7 273.7,341.1 277.7,340.6 281.7,340.1 285.7,339.6 289.7,339.2 293.7,338.7 297.7,338.3 301.7,337.9 305.7,337.5 309.7,337.1 313.7,336.7 317.7,336.3 321.7,336.0 325.7,335.6 329.7,335.2 333.7,334.9 337.7,334.5 341.7,334.2 345.7,333.8 349.7,333.5 353.7,333.2 357.7,332.8 361.7,332.5 365.7,332.1 369.7,331.8 373.7,331.5 377.7,331.2 381.7,330.9 385.7,330.5 389.7,330.2 393.7,329.9 397.7,329.6 401.7,329.3 405.7,329.0 409.7,328.7 413.7,328.4 417.7,328.1 421.7,328.0 425.7,328.0 429.7,327.9 433.7,327.7 437.7,327.5 441.7,327.3 445.7,327.2 449.7,327.0 453.7,326.9 457.7,326.8 461.7,326.7 465.7,326.7 469.7,326.7 473.7,326.6 477.7,326.6 481.7,326.6 485.7,326.5 489.7,326.5 493.7,326.5 497.7,326.5 501.7,326.5 505.7,326.5 509.7,326.5 513.7,326.6 517.7,326.7 521.7,326.7 525.7,326.8 529.7,326.9 533.7,327.0 537.7,327.0 541.7,327.1 545.7,327.1 549.7,327.1 553.7,327.1 557.7,327.2 561.7,327.2 565.7,327.2 569.7,327.3 573.7,327.3 577.7,327.5 581.7,327.7 585.7,327.9 589.7,328.2 593.7,328.5 597.8,328.8" fill="none" stroke="#ff0000" stroke-width="3.8" stroke-opacity="0.260" stroke-linejoin="round" /><polyline points="61.7,359.4 65.7,359.4 69.7,359.4 73.7,359.4 77.7,359.4 81.7,359.4 85.7,359.4 89.7,359.4 93.7,359.4 97.7,359.3 101.7,359.1 105.7,358.9 109.7,358.7 113.7,358.5 117.7,358.2 121.7,358.0 125.7,357.7 129.7,357.4 133.7,357.0 137.7,356.6 141.7,356.1 145.7,355.5 149.7,355.0 153.7,354.5 157.7,354.0 161.7,353.7 165.7,353.4 169.7,353.0 173.7,352.6 177.7,352.2 181.7,351.8 185.7,351.4 189.7,351.0 193.7,350.5 197.7,350.1 201.7,349.6 205.7,349.1 209.7,348.6 213.7,348.1 217.7,347.6 221.7,347.1 225.7,346.7 229.7,346.2 233.7,345.7 237.7,345.3 241.7,344.9 245.7,344.5 249.7,344.0 253.7,343.6 257.7,343.1 261.7,342.6 265.7,342.1 269.7,341.5 273.7,340.9 277.7,340.3 281.7,339.8 285.7,339.4 289.7,338.9 293.7,338.5 297.7,338.0 301.7,337.6 305.7,337.2 309.7,336.8 313.7,336.4 317.7,336.0 321.7,335.7 325.7,335.3 329.7,334.9 333.7,334.6 337.7,334.2 341.7,333.9 345.7,333.5 349.7,333.2 353.7,332.8 357.7,332.5 361.7,332.1 365.7,331.8 369.7,331.5 373.7,331.1 377.7,330.8 381.7,330.5 385.7,330.2 389.7,329.9 393.7,329.5 397.7,329.2 401.7,328.9 405.7,328.6 409.7,328.3 413.7,328.0 417.7,327.7 421.7,327.6 425.7,327.6 429.7,327.5 433.7,327.3 437.7,327.1 441.7,326.9 445.7,326.7 449.7,326.6 453.7,326.5 457.7,326.4 461.7,326.3 465.7,326.3 469.7,326.3 473.7,326.2 477.7,326.2 481.7,326.2 485.7,326.2 489.7,326.1 493.7,326.1 497.7,326.1 501.7,326.1 505.7,326.1 509.7,326.2 513.7,326.2 517.7,326.3 521.7,326.4 525.7,326.5 529.7,326.5 533.7,326.6 537.7,326.7 541.7,326.8 545.7,326.8 549.7,326.8 553.7,326.8 557.7,326.9 561.7,326.9 565.7,326.9 569.7,327.0 573.7,327.1 577.7,327.2 581.7,327.4 585.7,327.6 589.7,327.9 593.7,328.2 597.8,328.6" fill="none" stroke="#ff0000" stroke-width="3.8" stroke-opacity="0.260" stroke-linejoin="round" /><polyline points="61.7,359.4 65.7,359.4 69.7,359.4 73.7,359.4 77.7,359.4 81.7,359.4 85.7,359.4 89.7,359.4 93.7,359.4 97.7,359.3 101.7,359.1 105.7,358.9 109.7,358.7 113.7,358.5 117.7,358.2 121.7,358.0 125.7,357.7 129.7,357.4 133.7,357.0 137.7,356.6 141.7,356.1 145.7,355.5 149.7,355.0 153.7,354.5 157.7,354.0 161.7,353.7 165.7,353.3 169.7,353.0 173.7,352.6 177.7,352.2 181.7,351.8 185.7,351.3 189.7,350.9 193.7,350.4 197.7,350.0 201.7,349.5 205.7,349.0 209.7,348.5 213.7,348.0 217.7,347.5 221.7,347.0 225.7,346.6 229.7,346.1 233.7,345.6 237.7,345.2 241.7,344.8 245.7,344.3 249.7,343.9 253.7,343.5 257.7,343.0 261.7,342.5 265.7,341.9 269.7,341.4 273.7,340.8 277.7,340.2 281.7,339.7 285.7,339.2 289.7,338.8 293.7,338.3 297.7,337.9 301.7,337.5 305.7,337.1 309.7,336.7 313.7,336.3 317.7,335.9 321.7,335.5 325.7,335.1 329.7,334.8 333.7,334.4 337.7,334.1 341.7,333.7 345.7,333.3 349.7,333.0 353.7,332.7 357.7,332.3 361.7,332.0 365.7,331.6 369.7,331.3 373.7,331.0 377.7,330.6 381.7,330.3 385.7,330.0 389.7,329.7 393.7,329.4 397.7,329.0 401.7,328.7 405.7,328.4 409.7,328.1 413.7,327.8 417.7,327.5 421.7,327.4 425.7,327.3 429.7,327.3 433.7,327.1 437.7,326.9 441.7,326.7 445.7,326.5 449.7,326.4 453.7,326.2 457.7,326.2 461.7,326.1 465.7,326.1 469.7,326.0 473.7,326.0 477.7,326.0 481.7,326.0 485.7,326.0 489.7,325.9 493.7,325.9 497.7,325.9 501.7,325.9 505.7,325.9 509.7,326.0 513.7,326.0 517.7,326.1 521.7,326.2 525.7,326.3 529.7,326.4 533.7,326.4 537.7,326.5 541.7,326.6 545.7,326.6 549.7,326.7 553.7,326.7 557.7,326.7 561.7,326.7 565.7,326.8 569.7,326.9 573.7,327.0 577.7,327.1 581.7,327.3 585.7,327.5 589.7,327.8 593.7,328.1 597.8,328.4" fill="none" stroke="#ff0000" stroke-width="3.8" stroke-opacity="0.260" stroke-linejoin="round" /><polyline points="61.7,359.4 65.7,359.4 69.7,359.4 73.7,359.4 77.7,359.4 81.7,359.4 85.7,359.4 89.7,359.4 93.7,359.4 97.7,359.3 101.7,359.1 105.7,358.9 109.7,358.7 113.7,358.5 117.7,358.2 121.7,358.0 125.7,357.7 129.7,357.4 133.7,357.0 137.7,356.6 141.7,356.1 145.7,355.5 149.7,355.0 153.7,354.5 157.7,354.0 161.7,353.7 165.7,353.3 169.7,353.0 173.7,352.6 177.7,352.2 181.7,351.8 185.7,351.3 189.7,350.9 193.7,350.4 197.7,350.0 201.7,349.5 205.7,349.0 209.7,348.5 213.7,348.0 217.7,347.5 221.7,347.0 225.7,346.6 229.7,346.1 233.7,345.6 237.7,345.2 241.7,344.8 245.7,344.3 249.7,343.9 253.7,343.5 257.7,343.0 261.7,342.5 265.7,341.9 269.7,341.3 273.7,340.8 277.7,340.2 281.7,339.7 285.7,339.2 289.7,338.8 293.7,338.3 297.7,337.9 301.7,337.5 305.7,337.1 309.7,336.7 313.7,336.3 317.7,335.9 321.7,335.5 325.7,335.1 329.7,334.8 333.7,334.4 337.7,334.0 341.7,333.7 345.7,333.3 349.7,333.0 353.7,332.6 357.7,332.3 361.7,332.0 365.7,331.6 369.7,331.3 373.7,330.9 377.7,330.6 381.7,330.3 385.7,330.0 389.7,329.7 393.7,329.3 397.7,329.0 401.7,328.7 405.7,328.4 409.7,328.0 413.7,327.7 417.7,327.5 421.7,327.4 425.7,327.3 429.7,327.2 433.7,327.0 437.7,326.8 441.7,326.7 445.7,326.5 449.7,326.3 453.7,326.2 457.7,326.1 461.7,326.1 465.7,326.1 469.7,326.0 473.7,326.0 477.7,326.0 481.7,326.0 485.7,325.9 489.7,325.9 493.7,325.9 497.7,325.9 501.7,325.9 505.7,325.9 509.7,326.0 513.7,326.0 517.7,326.1 521.7,326.2 525.7,326.3 529.7,326.3 533.7,326.4 537.7,326.5 541.7,326.6 545.7,326.6 549.7,326.7 553.7,326.7 557.7,326.7 561.7,326.7 565.7,326.8 569.7,326.8 573.7,326.9 577.7,327.1 581.7,327.3 585.7,327.5 589.7,327.8 593.7,328.1 597.8,328.4" fill="none" stroke="#ff0000" stroke-width="3.8" stroke-opacity="0.260" stroke-linejoin="round" /><polyline points="61.7,359.4 65.7,359.4 69.7,359.4 73.7,359.4 77.7,359.4 81.7,359.4 85.7,359.4 89.7,359.4 93.7,359.4 97.7,359.3 101.7,359.1 105.7,358.9 109.7,358.7 113.7,358.5 117.7,358.2 121.7,358.0 125.7,357.7 129.7,357.4 133.7,357.0 137.7,356.6 141.7,356.1 145.7,355.5 149.7,355.0 153.7,354.5 157.7,354.0 161.7,353.7 165.7,353.3 169.7,353.0 173.7,352.6 177.7,352.2 181.7,351.8 185.7,351.4 189.7,350.9 193.7,350.5 197.7,350.0 201.7,349.5 205.7,349.1 209.7,348.6 213.7,348.1 217.7,347.6 221.7,347.1 225.7,346.6 229.7,346.1 233.7,345.7 237.7,345.2 241.7,344.8 245.7,344.4 249.7,344.0 253.7,343.5 257.7,343.1 261.7,342.6 265.7,342.0 269.7,341.4 273.7,340.8 277.7,340.2 281.7,339.7 285.7,339.3 289.7,338.8 293.7,338.4 297.7,337.9 301.7,337.5 305.7,337.1 309.7,336.7 313.7,336.3 317.7,335.9 321.7,335.6 325.7,335.2 329.7,334.8 333.7,334.5 337.7,334.1 341.7,333.8 345.7,333.4 349.7,333.1 353.7,332.7 357.7,332.4 361.7,332.0 365.7,331.7 369.7,331.4 373.7,331.0 377.7,330.7 381.7,330.4 385.7,330.1 389.7,329.7 393.7,329.4 397.7,329.1 401.7,328.8 405.7,328.5 409.7,328.1 413.7,327.8 417.7,327.6 421.7,327.5 425.7,327.4 429.7,327.3 433.7,327.1 437.7,326.9 441.7,326.8 445.7,326.6 449.7,326.4 453.7,326.3 457.7,326.2 461.7,326.2 465.7,326.1 469.7,326.1 473.7,326.1 477.7,326.1 481.7,326.0 485.7,326.0 489.7,326.0 493.7,326.0 497.7,326.0 501.7,326.0 505.7,326.0 509.7,326.1 513.7,326.1 517.7,326.2 521.7,326.3 525.7,326.3 529.7,326.4 533.7,326.5 537.7,326.6 541.7,326.6 545.7,326.7 549.7,326.7 553.7,326.7 557.7,326.8 561.7,326.8 565.7,326.8 569.7,326.9 573.7,327.0 577.7,327.1 581.7,327.3 585.7,327.6 589.7,327.8 593.7,328.1 597.8,328.5" fill="none" stroke="#ff0000" stroke-width="3.8" stroke-opacity="0.260" stroke-linejoin="round" /><polyline points="61.7,359.4 65.7,359.4 69.7,359.4 73.7,359.4 77.7,359.4 81.7,359.4 85.7,359.4 89.7,359.4 93.7,359.4 97.7,359.3 101.7,359.1 105.7,358.9 109.7,358.7 113.7,358.5 117.7,358.2 121.7,358.0 125.7,357.7 129.7,357.4 133.7,357.0 137.7,356.6 141.7,356.1 145.7,355.5 149.7,355.0 153.7,354.5 157.7,354.0 161.7,353.7 165.7,353.3 169.7,352.9 173.7,352.6 177.7,352.2 181.7,351.7 185.7,351.3 189.7,350.8 193.7,350.4 197.7,349.9 201.7,349.5 205.7,349.0 209.7,348.5 213.7,348.0 217.7,347.5 221.7,347.0 225.7,346.5 229.7,346.0 233.7,345.6 237.7,345.1 241.7,344.7 245.7,344.3 249.7,343.8 253.7,343.4 257.7,342.9 261.7,342.4 265.7,341.9 269.7,341.3 273.7,340.7 277.7,340.1 281.7,339.6 285.7,339.1 289.7,338.7 293.7,338.2 297.7,337.8 301.7,337.4 305.7,337.0 309.7,336.6 313.7,336.2 317.7,335.8 321.7,335.4 325.7,335.0 329.7,334.6 333.7,334.3 337.7,333.9 341.7,333.6 345.7,333.2 349.7,332.9 353.7,332.5 357.7,332.2 361.7,331.8 365.7,331.5 369.7,331.2 373.7,330.8 377.7,330.5 381.7,330.2 385.7,329.8 389.7,329.5 393.7,329.2 397.7,328.9 401.7,328.6 405.7,328.3 409.7,327.9 413.7,327.6 417.7,327.4 421.7,327.2 425.7,327.2 429.7,327.1 433.7,326.9 437.7,326.7 441.7,326.5 445.7,326.3 449.7,326.2 453.7,326.1 457.7,326.0 461.7,325.9 465.7,325.9 469.7,325.9 473.7,325.9 477.7,325.8 481.7,325.8 485.7,325.8 489.7,325.8 493.7,325.8 497.7,325.8 501.7,325.8 505.7,325.8 509.7,325.8 513.7,325.9 517.7,326.0 521.7,326.1 525.7,326.1 529.7,326.2 533.7,326.3 537.7,326.4 541.7,326.5 545.7,326.5 549.7,326.5 553.7,326.6 557.7,326.6 561.7,326.6 565.7,326.7 569.7,326.7 573.7,326.9 577.7,327.0 581.7,327.2 585.7,327.4 589.7,327.7 593.7,328.0 597.8,328.3" fill="none" stroke="#ff0000" stroke-width="3.8" stroke-opacity="0.260" stroke-linejoin="round" /><polyline points="61.7,359.4 65.7,359.4 69.7,359.4 73.7,359.4 77.7,359.4 81.7,359.4 85.7,359.4 89.7,359.4 93.7,359.4 97.7,359.3 101.7,359.1 105.7,358.9 109.7,358.7 113.7,358.5 117.7,358.2 121.7,358.0 125.7,357.7 129.7,357.4 133.7,357.0 137.7,356.6 141.7,356.1 145.7,355.5 149.7,355.0 153.7,354.5 157.7,354.0 161.7,353.7 165.7,353.3 169.7,353.0 173.7,352.6 177.7,352.2 181.7,351.8 185.7,351.4 189.7,350.9 193.7,350.5 197.7,350.0 201.7,349.5 205.7,349.1 209.7,348.6 213.7,348.1 217.7,347.6 221.7,347.1 225.7,346.6 229.7,346.1 233.7,345.7 237.7,345.2 241.7,344.8 245.7,344.4 249.7,343.9 253.7,343.5 257.7,343.0 261.7,342.5 265.7,342.0 269.7,341.4 273.7,340.8 277.7,340.2 281.7,339.7 285.7,339.3 289.7,338.8 293.7,338.4 297.7,337.9 301.7,337.5 305.7,337.1 309.7,336.7 313.7,336.3 317.7,335.9 321.7,335.5 325.7,335.2 329.7,334.8 333.7,334.4 337.7,334.1 341.7,333.7 345.7,333.4 349.7,333.0 353.7,332.7 357.7,332.4 361.7,332.0 365.7,331.7 369.7,331.3 373.7,331.0 377.7,330.7 381.7,330.4 385.7,330.0 389.7,329.7 393.7,329.4 397.7,329.1 401.7,328.8 405.7,328.5 409.7,328.1 413.7,327.8 417.7,327.6 421.7,327.4 425.7,327.4 429.7,327.3 433.7,327.1 437.7,326.9 441.7,326.7 445.7,326.6 449.7,326.4 453.7,326.3 457.7,326.2 461.7,326.2 465.7,326.1 469.7,326.1 473.7,326.1 477.7,326.0 481.7,326.0 485.7,326.0 489.7,326.0 493.7,326.0 497.7,326.0 501.7,326.0 505.7,326.0 509.7,326.0 513.7,326.1 517.7,326.2 521.7,326.2 525.7,326.3 529.7,326.4 533.7,326.5 537.7,326.6 541.7,326.6 545.7,326.7 549.7,326.7 553.7,326.7 557.7,326.7 561.7,326.8 565.7,326.8 569.7,326.9 573.7,327.0 577.7,327.1 581.7,327.3 585.7,327.5 589.7,327.8 593.7,328.1 597.8,328.5" fill="none" stroke="#ff0000" stroke-width="3.8" stroke-opacity="0.260" stroke-linejoin="round" /><polyline points="61.7,359.4 65.7,359.4 69.7,359.4 73.7,359.4 77.7,359.4 81.7,359.4 85.7,359.4 89.7,359.4 93.7,359.4 97.7,359.3 101.7,359.1 105.7,358.9 109.7,358.7 113.7,358.5 117.7,358.2 121.7,358.0 125.7,357.7 129.7,357.4 133.7,357.0 137.7,356.6 141.7,356.1 145.7,355.5 149.7,355.0 153.7,354.5 157.7,354.0 161.7,353.7 165.7,353.4 169.7,353.0 173.7,352.6 177.7,352.2 181.7,351.8 185.7,351.4 189.7,351.0 193.7,350.5 197.7,350.1 201.7,349.6 205.7,349.1 209.7,348.6 213.7,348.1 217.7,347.6 221.7,347.1 225.7,346.7 229.7,346.2 233.7,345.7 237.7,345.3 241.7,344.9 245.7,344.5 249.7,344.0 253.7,343.6 257.7,343.1 261.7,342.6 265.7,342.1 269.7,341.5 273.7,340.9 277.7,340.3 281.7,339.8 285.7,339.4 289.7,338.9 293.7,338.5 297.7,338.0 301.7,337.6 305.7,337.2 309.7,336.8 313.7,336.4 317.7,336.1 321.7,335.7 325.7,335.3 329.7,334.9 333.7,334.6 337.7,334.2 341.7,333.9 345.7,333.5 349.7,333.2 353.7,332.8 357.7,332.5 361.7,332.1 365.7,331.8 369.7,331.5 373.7,331.1 377.7,330.8 381.7,330.5 385.7,330.2 389.7,329.9 393.7,329.6 397.7,329.2 401.7,328.9 405.7,328.6 409.7,328.3 413.7,328.0 417.7,327.7 421.7,327.6 425.7,327.6 429.7,327.5 433.7,327.3 437.7,327.1 441.7,326.9 445.7,326.7 449.7,326.6 453.7,326.5 457.7,326.4 461.7,326.3 465.7,326.3 469.7,326.3 473.7,326.2 477.7,326.2 481.7,326.2 485.7,326.2 489.7,326.1 493.7,326.1 497.7,326.1 501.7,326.1 505.7,326.1 509.7,326.2 513.7,326.2 517.7,326.3 521.7,326.4 525.7,326.5 529.7,326.5 533.7,326.6 537.7,326.7 541.7,326.8 545.7,326.8 549.7,326.8 553.7,326.8 557.7,326.9 561.7,326.9 565.7,326.9 569.7,327.0 573.7,327.1 577.7,327.2 581.7,327.4 585.7,327.6 589.7,327.9 593.7,328.2 597.8,328.6" fill="none" stroke="#ff0000" stroke-width="3.8" stroke-opacity="0.260" stroke-linejoin="round" /><polyline points="61.7,359.4 65.7,359.4 69.7,359.4 73.7,359.4 77.7,359.4 81.7,359.4 85.7,359.4 89.7,359.4 93.7,359.4 97.7,359.3 101.7,359.1 105.7,358.9 109.7,358.7 113.7,358.5 117.7,358.2 121.7,358.0 125.7,357.7 129.7,357.4 133.7,357.0 137.7,356.6 141.7,356.1 145.7,355.5 149.7,355.0 153.7,354.5 157.7,354.0 161.7,354.0 165.7,353.8 169.7,353.6 173.7,353.4 177.7,353.2 181.7,352.9 185.7,352.5 189.7,352.2 193.7,351.8 197.7,351.4 201.7,351.0 205.7,350.6 209.7,350.2 213.7,349.7 217.7,349.3 221.7,348.9 225.7,348.5 229.7,348.1 233.7,347.7 237.7,347.3 241.7,347.0 245.7,346.6 249.7,346.3 253.7,345.9 257.7,345.5 261.7,345.0 265.7,344.5 269.7,344.0 273.7,343.4 277.7,342.9 281.7,342.5 285.7,342.0 289.7,341.6 293.7,341.2 297.7,340.8 301.7,340.4 305.7,340.1 309.7,339.7 313.7,339.4 317.7,339.0 321.7,338.7 325.7,338.3 329.7,338.0 333.7,337.7 337.7,337.4 341.7,337.1 345.7,336.8 349.7,336.5 353.7,336.1 357.7,335.8 361.7,335.5 365.7,335.2 369.7,334.9 373.7,334.6 377.7,334.3 381.7,334.0 385.7,333.8 389.7,333.5 393.7,333.2 397.7,333.0 401.7,332.7 405.7,332.4 409.7,332.1 413.7,331.9 417.7,331.7 421.7,331.7 425.7,331.8 429.7,331.8 433.7,331.6 437.7,331.4 441.7,331.2 445.7,331.0 449.7,330.8 453.7,330.6 457.7,330.5 461.7,330.4 465.7,330.4 469.7,330.3 473.7,330.2 477.7,330.2 481.7,330.1 485.7,330.0 489.7,330.0 493.7,329.9 497.7,329.9 501.7,329.8 505.7,329.8 509.7,329.8 513.7,329.8 517.7,329.8 521.7,329.9 525.7,329.9 529.7,330.0 533.7,330.0 537.7,330.0 541.7,330.1 545.7,330.0 549.7,330.0 553.7,329.9 557.7,329.8 561.7,329.7 565.7,329.7 569.7,329.6 573.7,329.7 577.7,329.8 581.7,329.9 585.7,330.1 589.7,330.4 593.7,330.7 597.8,331.0" fill="none" stroke="#ff0000" stroke-width="3.8" stroke-opacity="0.260" stroke-linejoin="round" /><polyline points="61.7,359.4 65.7,359.4 69.7,359.4 73.7,359.4 77.7,359.4 81.7,359.4 85.7,359.4 89.7,359.4 93.7,359.4 97.7,359.3 101.7,359.1 105.7,358.9 109.7,358.7 113.7,358.5 117.7,358.2 121.7,358.0 125.7,357.7 129.7,357.4 133.7,357.0 137.7,356.6 141.7,356.1 145.7,355.5 149.7,355.0 153.7,354.5 157.7,354.0 161.7,353.9 165.7,353.8 169.7,353.6 173.7,353.4 177.7,353.1 181.7,352.8 185.7,352.5 189.7,352.1 193.7,351.7 197.7,351.4 201.7,351.0 205.7,350.5 209.7,350.1 213.7,349.7 217.7,349.2 221.7,348.8 225.7,348.4 229.7,348.0 233.7,347.6 237.7,347.2 241.7,346.9 245.7,346.5 249.7,346.1 253.7,345.8 257.7,345.4 261.7,344.9 265.7,344.4 269.7,343.8 273.7,343.3 277.7,342.8 281.7,342.3 285.7,341.9 289.7,341.5 293.7,341.1 297.7,340.7 301.7,340.3 305.7,339.9 309.7,339.6 313.7,339.2 317.7,338.9 321.7,338.5 325.7,338.2 329.7,337.9 333.7,337.5 337.7,337.2 341.7,336.9 345.7,336.6 349.7,336.3 353.7,336.0 357.7,335.7 361.7,335.3 365.7,335.0 369.7,334.7 373.7,334.4 377.7,334.1 381.7,333.9 385.7,333.6 389.7,333.3 393.7,333.0 397.7,332.8 401.7,332.5 405.7,332.2 409.7,331.9 413.7,331.7 417.7,331.5 421.7,331.5 425.7,331.6 429.7,331.6 433.7,331.4 437.7,331.2 441.7,331.0 445.7,330.8 449.7,330.6 453.7,330.4 457.7,330.3 461.7,330.2 465.7,330.2 469.7,330.1 473.7,330.0 477.7,329.9 481.7,329.9 485.7,329.8 489.7,329.8 493.7,329.7 497.7,329.7 501.7,329.6 505.7,329.6 509.7,329.6 513.7,329.6 517.7,329.7 521.7,329.7 525.7,329.7 529.7,329.8 533.7,329.8 537.7,329.9 541.7,329.9 545.7,329.9 549.7,329.8 553.7,329.7 557.7,329.6 561.7,329.6 565.7,329.5 569.7,329.5 573.7,329.5 577.7,329.6 581.7,329.8 585.7,330.0 589.7,330.3 593.7,330.6 597.8,330.9" fill="none" stroke="#ff0000" stroke-width="3.8" stroke-opacity="0.260" stroke-linejoin="round" /><polyline points="61.7,359.4 65.7,359.4 69.7,359.4 73.7,359.4 77.7,359.4 81.7,359.4 85.7,359.4 89.7,359.4 93.7,359.4 97.7,359.3 101.7,359.1 105.7,358.9 109.7,358.7 113.7,358.5 117.7,358.2 121.7,358.0 125.7,357.7 129.7,357.4 133.7,357.0 137.7,356.6 141.7,356.1 145.7,355.5 149.7,355.0 153.7,354.5 157.7,354.0 161.7,353.9 165.7,353.7 169.7,353.5 173.7,353.3 177.7,353.0 181.7,352.7 185.7,352.3 189.7,351.9 193.7,351.6 197.7,351.2 201.7,350.7 205.7,350.3 209.7,349.9 213.7,349.4 217.7,349.0 221.7,348.6 225.7,348.1 229.7,347.7 233.7,347.3 237.7,346.9 241.7,346.6 245.7,346.2 249.7,345.8 253.7,345.4 257.7,345.0 261.7,344.6 265.7,344.0 269.7,343.5 273.7,342.9 277.7,342.4 281.7,341.9 285.7,341.5 289.7,341.1 293.7,340.7 297.7,340.3 301.7,339.9 305.7,339.5 309.7,339.2 313.7,338.8 317.7,338.4 321.7,338.1 325.7,337.8 329.7,337.4 333.7,337.1 337.7,336.8 341.7,336.5 345.7,336.1 349.7,335.8 353.7,335.5 357.7,335.2 361.7,334.9 365.7,334.6 369.7,334.2 373.7,333.9 377.7,333.6 381.7,333.4 385.7,333.1 389.7,332.8 393.7,332.5 397.7,332.2 401.7,332.0 405.7,331.7 409.7,331.4 413.7,331.1 417.7,331.0 421.7,330.9 425.7,331.0 429.7,331.0 433.7,330.8 437.7,330.6 441.7,330.3 445.7,330.1 449.7,330.0 453.7,329.8 457.7,329.7 461.7,329.6 465.7,329.6 469.7,329.5 473.7,329.4 477.7,329.4 481.7,329.3 485.7,329.3 489.7,329.2 493.7,329.2 497.7,329.1 501.7,329.1 505.7,329.1 509.7,329.1 513.7,329.1 517.7,329.2 521.7,329.2 525.7,329.3 529.7,329.3 533.7,329.4 537.7,329.4 541.7,329.4 545.7,329.4 549.7,329.4 553.7,329.3 557.7,329.2 561.7,329.2 565.7,329.1 569.7,329.1 573.7,329.2 577.7,329.3 581.7,329.4 585.7,329.6 589.7,329.9 593.7,330.2 597.8,330.5" fill="none" stroke="#ff0000" stroke-width="3.8" stroke-opacity="0.260" stroke-linejoin="round" /><polyline points="61.7,359.4 65.7,359.4 69.7,359.4 73.7,359.4 77.7,359.4 81.7,359.4 85.7,359.4 89.7,359.4 93.7,359.4 97.7,359.3 101.7,359.1 105.7,358.9 109.7,358.7 113.7,358.5 117.7,358.2 121.7,358.0 125.7,357.7 129.7,357.4 133.7,357.0 137.7,356.6 141.7,356.1 145.7,355.5 149.7,355.0 153.7,354.5 157.7,354.0 161.7,353.9 165.7,353.8 169.7,353.6 173.7,353.4 177.7,353.1 181.7,352.8 185.7,352.5 189.7,352.2 193.7,351.8 197.7,351.4 201.7,351.0 205.7,350.6 209.7,350.1 213.7,349.7 217.7,349.3 221.7,348.8 225.7,348.4 229.7,348.0 233.7,347.7 237.7,347.3 241.7,346.9 245.7,346.6 249.7,346.2 253.7,345.8 257.7,345.4 261.7,345.0 265.7,344.4 269.7,343.9 273.7,343.4 277.7,342.8 281.7,342.4 285.7,341.9 289.7,341.5 293.7,341.1 297.7,340.7 301.7,340.4 305.7,340.0 309.7,339.6 313.7,339.3 317.7,338.9 321.7,338.6 325.7,338.3 329.7,337.9 333.7,337.6 337.7,337.3 341.7,337.0 345.7,336.7 349.7,336.4 353.7,336.0 357.7,335.7 361.7,335.4 365.7,335.1 369.7,334.8 373.7,334.5 377.7,334.2 381.7,333.9 385.7,333.7 389.7,333.4 393.7,333.1 397.7,332.9 401.7,332.6 405.7,332.3 409.7,332.0 413.7,331.8 417.7,331.6 421.7,331.6 425.7,331.7 429.7,331.7 433.7,331.5 437.7,331.3 441.7,331.1 445.7,330.9 449.7,330.7 453.7,330.5 457.7,330.4 461.7,330.3 465.7,330.2 469.7,330.2 473.7,330.1 477.7,330.0 481.7,330.0 485.7,329.9 489.7,329.9 493.7,329.8 497.7,329.7 501.7,329.7 505.7,329.7 509.7,329.7 513.7,329.7 517.7,329.7 521.7,329.8 525.7,329.8 529.7,329.9 533.7,329.9 537.7,329.9 541.7,330.0 545.7,329.9 549.7,329.9 553.7,329.8 557.7,329.7 561.7,329.6 565.7,329.6 569.7,329.6 573.7,329.6 577.7,329.7 581.7,329.8 585.7,330.1 589.7,330.3 593.7,330.6 597.8,330.9" fill="none" stroke="#ff0000" stroke-width="3.8" stroke-opacity="0.260" stroke-linejoin="round" /><polyline points="61.7,359.4 65.7,359.4 69.7,359.4 73.7,359.4 77.7,359.4 81.7,359.4 85.7,359.4 89.7,359.4 93.7,359.4 97.7,359.3 101.7,359.1 105.7,358.9 109.7,358.7 113.7,358.5 117.7,358.2 121.7,358.0 125.7,357.7 129.7,357.4 133.7,357.0 137.7,356.6 141.7,356.1 145.7,355.5 149.7,355.0 153.7,354.5 157.7,354.0 161.7,354.0 165.7,353.8 169.7,353.6 173.7,353.4 177.7,353.2 181.7,352.9 185.7,352.5 189.7,352.2 193.7,351.8 197.7,351.4 201.7,351.0 205.7,350.6 209.7,350.2 213.7,349.7 217.7,349.3 221.7,348.9 225.7,348.5 229.7,348.1 233.7,347.7 237.7,347.3 241.7,347.0 245.7,346.6 249.7,346.3 253.7,345.9 257.7,345.5 261.7,345.0 265.7,344.5 269.7,344.0 273.7,343.4 277.7,342.9 281.7,342.4 285.7,342.0 289.7,341.6 293.7,341.2 297.7,340.8 301.7,340.4 305.7,340.1 309.7,339.7 313.7,339.4 317.7,339.0 321.7,338.7 325.7,338.3 329.7,338.0 333.7,337.7 337.7,337.4 341.7,337.1 345.7,336.8 349.7,336.4 353.7,336.1 357.7,335.8 361.7,335.5 365.7,335.2 369.7,334.9 373.7,334.6 377.7,334.3 381.7,334.0 385.7,333.8 389.7,333.5 393.7,333.2 397.7,333.0 401.7,332.7 405.7,332.4 409.7,332.1 413.7,331.9 417.7,331.7 421.7,331.7 425.7,331.8 429.7,331.8 433.7,331.6 437.7,331.4 441.7,331.2 445.7,331.0 449.7,330.8 453.7,330.6 457.7,330.5 461.7,330.4 465.7,330.4 469.7,330.3 473.7,330.2 477.7,330.1 481.7,330.1 485.7,330.0 489.7,330.0 493.7,329.9 497.7,329.8 501.7,329.8 505.7,329.8 509.7,329.8 513.7,329.8 517.7,329.8 521.7,329.9 525.7,329.9 529.7,330.0 533.7,330.0 537.7,330.0 541.7,330.0 545.7,330.0 549.7,330.0 553.7,329.9 557.7,329.8 561.7,329.7 565.7,329.7 569.7,329.6 573.7,329.7 577.7,329.7 581.7,329.9 585.7,330.1 589.7,330.4 593.7,330.7 597.8,331.0" fill="none" stroke="#ff0000" stroke-width="3.8" stroke-opacity="0.260" stroke-linejoin="round" /><polyline points="61.7,359.4 65.7,359.4 69.7,359.4 73.7,359.4 77.7,359.4 81.7,359.4 85.7,359.4 89.7,359.4 93.7,359.4 97.7,359.3 101.7,359.1 105.7,358.9 109.7,358.7 113.7,358.5 117.7,358.2 121.7,358.0 125.7,357.7 129.7,357.4 133.7,357.0 137.7,356.6 141.7,356.1 145.7,355.5 149.7,355.0 153.7,354.5 157.7,354.1 161.7,354.2 165.7,354.2 169.7,354.1 173.7,354.0 177.7,353.9 181.7,353.7 185.7,353.4 189.7,353.2 193.7,352.8 197.7,352.5 201.7,352.2 205.7,351.8 209.7,351.4 213.7,351.0 217.7,350.6 221.7,350.3 225.7,349.9 229.7,349.6 233.7,349.3 237.7,348.9 241.7,348.6 245.7,348.3 249.7,348.0 253.7,347.7 257.7,347.3 261.7,346.9 265.7,346.4 269.7,345.9 273.7,345.4 277.7,345.0 281.7,344.5 285.7,344.1 289.7,343.7 293.7,343.4 297.7,343.0 301.7,342.7 305.7,342.3 309.7,342.0 313.7,341.7 317.7,341.4 321.7,341.1 325.7,340.8 329.7,340.5 333.7,340.2 337.7,339.9 341.7,339.6 345.7,339.3 349.7,339.1 353.7,338.8 357.7,338.5 361.7,338.2 365.7,337.9 369.7,337.6 373.7,337.4 377.7,337.1 381.7,336.9 385.7,336.6 389.7,336.4 393.7,336.1 397.7,335.9 401.7,335.7 405.7,335.5 409.7,335.2 413.7,335.0 417.7,334.9 421.7,334.9 425.7,335.2 429.7,335.2 433.7,335.0 437.7,334.8 441.7,334.6 445.7,334.3 449.7,334.1 453.7,333.9 457.7,333.8 461.7,333.7 465.7,333.6 469.7,333.5 473.7,333.4 477.7,333.3 481.7,333.2 485.7,333.1 489.7,333.0 493.7,332.9 497.7,332.8 501.7,332.7 505.7,332.7 509.7,332.7 513.7,332.7 517.7,332.7 521.7,332.7 525.7,332.7 529.7,332.7 533.7,332.7 537.7,332.7 541.7,332.7 545.7,332.6 549.7,332.4 553.7,332.3 557.7,332.1 561.7,332.0 565.7,331.8 569.7,331.7 573.7,331.7 577.7,331.8 581.7,331.9 585.7,332.1 589.7,332.3 593.7,332.6 597.8,333.0" fill="none" stroke="#ff0000" stroke-width="3.8" stroke-opacity="0.260" stroke-linejoin="round" /><polyline points="61.7,359.4 65.7,359.4 69.7,359.4 73.7,359.4 77.7,359.4 81.7,359.4 85.7,359.4 89.7,359.4 93.7,359.4 97.7,359.3 101.7,359.1 105.7,358.9 109.7,358.7 113.7,358.5 117.7,358.2 121.7,358.0 125.7,357.7 129.7,357.4 133.7,357.0 137.7,356.6 141.7,356.1 145.7,355.5 149.7,355.0 153.7,354.5 157.7,354.1 161.7,354.1 165.7,354.1 169.7,354.1 173.7,354.0 177.7,353.9 181.7,353.7 185.7,353.4 189.7,353.1 193.7,352.8 197.7,352.5 201.7,352.1 205.7,351.7 209.7,351.4 213.7,351.0 217.7,350.6 221.7,350.2 225.7,349.9 229.7,349.5 233.7,349.2 237.7,348.9 241.7,348.5 245.7,348.2 249.7,347.9 253.7,347.6 257.7,347.2 261.7,346.8 265.7,346.3 269.7,345.8 273.7,345.3 277.7,344.8 281.7,344.4 285.7,344.0 289.7,343.6 293.7,343.3 297.7,342.9 301.7,342.5 305.7,342.2 309.7,341.9 313.7,341.6 317.7,341.2 321.7,340.9 325.7,340.6 329.7,340.3 333.7,340.0 337.7,339.8 341.7,339.5 345.7,339.2 349.7,338.9 353.7,338.6 357.7,338.3 361.7,338.0 365.7,337.8 369.7,337.5 373.7,337.2 377.7,337.0 381.7,336.7 385.7,336.4 389.7,336.2 393.7,336.0 397.7,335.7 401.7,335.5 405.7,335.3 409.7,335.0 413.7,334.8 417.7,334.7 421.7,334.7 425.7,335.0 429.7,335.0 433.7,334.8 437.7,334.6 441.7,334.4 445.7,334.1 449.7,333.9 453.7,333.8 457.7,333.6 461.7,333.5 465.7,333.4 469.7,333.3 473.7,333.2 477.7,333.1 481.7,333.0 485.7,332.9 489.7,332.8 493.7,332.7 497.7,332.6 501.7,332.6 505.7,332.5 509.7,332.5 513.7,332.5 517.7,332.5 521.7,332.5 525.7,332.5 529.7,332.5 533.7,332.5 537.7,332.5 541.7,332.5 545.7,332.4 549.7,332.3 553.7,332.1 557.7,332.0 561.7,331.8 565.7,331.7 569.7,331.6 573.7,331.6 577.7,331.6 581.7,331.8 585.7,332.0 589.7,332.2 593.7,332.5 597.8,332.8" fill="none" stroke="#ff0000" stroke-width="3.8" stroke-opacity="0.260" stroke-linejoin="round" /><polyline points="61.7,359.4 65.7,359.4 69.7,359.4 73.7,359.4 77.7,359.4 81.7,359.4 85.7,359.4 89.7,359.4 93.7,359.4 97.7,359.3 101.7,359.1 105.7,358.9 109.7,358.7 113.7,358.5 117.7,358.2 121.7,358.0 125.7,357.7 129.7,357.4 133.7,357.0 137.7,356.6 141.7,356.1 145.7,355.5 149.7,355.0 153.7,354.5 157.7,354.1 161.7,354.1 165.7,354.1 169.7,354.0 173.7,353.9 177.7,353.8 181.7,353.5 185.7,353.3 189.7,353.0 193.7,352.6 197.7,352.3 201.7,351.9 205.7,351.6 209.7,351.2 213.7,350.8 217.7,350.4 221.7,350.0 225.7,349.7 229.7,349.3 233.7,349.0 237.7,348.6 241.7,348.3 245.7,348.0 249.7,347.7 253.7,347.3 257.7,347.0 261.7,346.5 265.7,346.1 269.7,345.6 273.7,345.0 277.7,344.6 281.7,344.1 285.7,343.7 289.7,343.3 293.7,343.0 297.7,342.6 301.7,342.2 305.7,341.9 309.7,341.6 313.7,341.2 317.7,340.9 321.7,340.6 325.7,340.3 329.7,340.0 333.7,339.7 337.7,339.4 341.7,339.1 345.7,338.8 349.7,338.5 353.7,338.3 357.7,338.0 361.7,337.7 365.7,337.4 369.7,337.1 373.7,336.8 377.7,336.6 381.7,336.3 385.7,336.1 389.7,335.8 393.7,335.6 397.7,335.3 401.7,335.1 405.7,334.9 409.7,334.6 413.7,334.4 417.7,334.3 421.7,334.3 425.7,334.5 429.7,334.6 433.7,334.4 437.7,334.1 441.7,333.9 445.7,333.7 449.7,333.5 453.7,333.3 457.7,333.2 461.7,333.1 465.7,333.0 469.7,332.9 473.7,332.8 477.7,332.7 481.7,332.6 485.7,332.5 489.7,332.4 493.7,332.3 497.7,332.2 501.7,332.2 505.7,332.1 509.7,332.1 513.7,332.1 517.7,332.1 521.7,332.1 525.7,332.1 529.7,332.2 533.7,332.2 537.7,332.2 541.7,332.2 545.7,332.1 549.7,332.0 553.7,331.8 557.7,331.7 561.7,331.5 565.7,331.4 569.7,331.3 573.7,331.3 577.7,331.4 581.7,331.5 585.7,331.7 589.7,332.0 593.7,332.2 597.8,332.6" fill="none" stroke="#ff0000" stroke-width="3.8" stroke-opacity="0.260" stroke-linejoin="round" /><polyline points="61.7,359.4 65.7,359.4 69.7,359.4 73.7,359.4 77.7,359.4 81.7,359.4 85.7,359.4 89.7,359.4 93.7,359.4 97.7,359.3 101.7,359.1 105.7,358.9 109.7,358.7 113.7,358.5 117.7,358.2 121.7,358.0 125.7,357.7 129.7,357.4 133.7,357.0 137.7,356.6 141.7,356.1 145.7,355.5 149.7,355.0 153.7,354.5 157.7,354.1 161.7,354.3 165.7,354.4 169.7,354.4 173.7,354.4 177.7,354.4 181.7,354.2 185.7,354.0 189.7,353.8 193.7,353.5 197.7,353.2 201.7,352.9 205.7,352.5 209.7,352.2 213.7,351.8 217.7,351.5 221.7,351.1 225.7,350.8 229.7,350.5 233.7,350.2 237.7,349.9 241.7,349.7 245.7,349.4 249.7,349.1 253.7,348.8 257.7,348.5 261.7,348.1 265.7,347.6 269.7,347.1 273.7,346.7 277.7,346.2 281.7,345.8 285.7,345.4 289.7,345.1 293.7,344.7 297.7,344.4 301.7,344.0 305.7,343.7 309.7,343.4 313.7,343.1 317.7,342.8 321.7,342.5 325.7,342.2 329.7,342.0 333.7,341.7 337.7,341.4 341.7,341.2 345.7,340.9 349.7,340.6 353.7,340.4 357.7,340.1 361.7,339.8 365.7,339.6 369.7,339.3 373.7,339.1 377.7,338.8 381.7,338.6 385.7,338.3 389.7,338.1 393.7,337.9 397.7,337.7 401.7,337.5 405.7,337.3 409.7,337.1 413.7,336.9 417.7,336.8 421.7,336.9 425.7,337.2 429.7,337.3 433.7,337.1 437.7,336.9 441.7,336.6 445.7,336.4 449.7,336.2 453.7,336.0 457.7,335.8 461.7,335.7 465.7,335.6 469.7,335.4 473.7,335.3 477.7,335.2 481.7,335.1 485.7,335.0 489.7,334.8 493.7,334.7 497.7,334.6 501.7,334.5 505.7,334.5 509.7,334.4 513.7,334.4 517.7,334.4 521.7,334.4 525.7,334.4 529.7,334.4 533.7,334.3 537.7,334.3 541.7,334.3 545.7,334.1 549.7,334.0 553.7,333.8 557.7,333.5 561.7,333.3 565.7,333.1 569.7,333.0 573.7,332.9 577.7,333.0 581.7,333.1 585.7,333.3 589.7,333.5 593.7,333.8 597.8,334.1" fill="none" stroke="#ff0000" stroke-width="3.8" stroke-opacity="0.260" stroke-linejoin="round" /></g>
<rect x="61.7" y="312" width="534.1" height="19.8" fill="#000" fill-opacity="0.25"/>
<rect x="595.6" y="312.3" width="3.9" height="24.0" rx="1.8" fill="#e00000" fill-opacity="0.85"/>
<polyline points="61.7,359.4 65.7,359.4 69.7,359.4 73.7,359.4 77.7,359.4 81.7,359.4 85.7,359.4 89.7,359.4 93.7,359.4 97.7,359.3 101.7,359.1 105.7,358.9 109.7,358.7 113.7,358.5 117.7,358.2 121.7,358.0 125.7,357.7 129.7,357.4 133.7,357.0 137.7,356.6 141.7,356.1 145.7,355.5 149.7,355.0 153.7,354.5 157.7,353.9 161.7,353.4 165.7,352.8 169.7,352.2 173.7,351.6 177.7,351.1 181.7,350.5 185.7,350.0 189.7,349.4 193.7,348.9 197.7,348.3 201.7,347.8 205.7,347.2 209.7,346.7 213.7,346.1 217.7,345.5 221.7,344.9 225.7,344.4 229.7,343.8 233.7,343.3 237.7,342.8 241.7,342.3 245.7,341.8 249.7,341.3 253.7,340.8 257.7,340.2 261.7,339.7 265.7,339.0 269.7,338.4 273.7,337.7 277.7,337.1 281.7,336.6 285.7,336.0 289.7,335.5 293.7,335.1 297.7,334.6 301.7,334.1 305.7,333.7 309.7,333.2 313.7,332.8 317.7,332.3 321.7,331.9 325.7,331.5 329.7,331.1 333.7,330.7 337.7,330.3 341.7,329.9 345.7,329.5 349.7,329.1 353.7,328.7 357.7,328.3 361.7,327.9 365.7,327.6 369.7,327.2 373.7,326.8 377.7,326.4 381.7,326.1 385.7,325.7 389.7,325.3 393.7,325.0 397.7,324.6 401.7,324.2 405.7,323.8 409.7,323.4 413.7,323.1 417.7,322.7 421.7,322.5 425.7,322.3 429.7,322.1 433.7,321.9 437.7,321.7 441.7,321.6 445.7,321.4 449.7,321.3 453.7,321.2 457.7,321.2 461.7,321.2 465.7,321.2 469.7,321.2 473.7,321.2 477.7,321.3 481.7,321.3 485.7,321.3 489.7,321.4 493.7,321.4 497.7,321.5 501.7,321.5 505.7,321.6 509.7,321.7 513.7,321.8 517.7,321.9 521.7,322.0 525.7,322.1 529.7,322.3 533.7,322.4 537.7,322.5 541.7,322.7 545.7,322.8 549.7,322.9 553.7,323.1 557.7,323.2 561.7,323.4 565.7,323.5 569.7,323.7 573.7,323.9 577.7,324.1 581.7,324.3 585.7,324.6 589.7,324.8 593.7,325.2 597.8,325.5" fill="none" stroke="#000" stroke-width="5.8" stroke-linejoin="round" />
<path d="M596.2,322.3 L600.8,324.8 L598.6,328.2 L595.5,328.4 Z" fill="#000"/>
<path d="M61.70,368.90 H626.50" stroke="#262626" stroke-width="1.8" fill="none"/>
<path d="M620.20,223.70 V368.90" stroke="#262626" stroke-width="1.8" fill="none"/>
<text x="633.80" y="376.10" font-size="19.8" font-family="Liberation Sans, sans-serif">0</text>
<line x1="620.20" y1="301.80" x2="626.50" y2="301.80" stroke="#262626" stroke-width="1.8"/>
<text x="633.80" y="309.00" font-size="19.8" font-family="Liberation Sans, sans-serif">1</text>
<line x1="620.20" y1="234.70" x2="626.50" y2="234.70" stroke="#262626" stroke-width="1.8"/>
<text x="633.80" y="241.90" font-size="19.8" font-family="Liberation Sans, sans-serif">2</text>
<line x1="61.70" y1="368.90" x2="61.70" y2="374.90" stroke="#262626" stroke-width="1.8"/>
<text x="61.70" y="398.90" text-anchor="middle" font-size="19.8" font-family="Liberation Sans, sans-serif">12,000</text>
<line x1="151.05" y1="368.90" x2="151.05" y2="374.90" stroke="#262626" stroke-width="1.8"/>
<text x="151.05" y="398.90" text-anchor="middle" font-size="19.8" font-family="Liberation Sans, sans-serif">10,000</text>
<line x1="240.40" y1="368.90" x2="240.40" y2="374.90" stroke="#262626" stroke-width="1.8"/>
<text x="240.40" y="398.90" text-anchor="middle" font-size="19.8" font-family="Liberation Sans, sans-serif">8000</text>
<line x1="329.75" y1="368.90" x2="329.75" y2="374.90" stroke="#262626" stroke-width="1.8"/>
<text x="329.75" y="398.90" text-anchor="middle" font-size="19.8" font-family="Liberation Sans, sans-serif">6000</text>
<line x1="419.10" y1="368.90" x2="419.10" y2="374.90" stroke="#262626" stroke-width="1.8"/>
<text x="419.10" y="398.90" text-anchor="middle" font-size="19.8" font-family="Liberation Sans, sans-serif">4000</text>
<line x1="508.45" y1="368.90" x2="508.45" y2="374.90" stroke="#262626" stroke-width="1.8"/>
<text x="508.45" y="398.90" text-anchor="middle" font-size="19.8" font-family="Liberation Sans, sans-serif">2000</text>
<line x1="597.80" y1="368.90" x2="597.80" y2="374.90" stroke="#262626" stroke-width="1.8"/>
<text x="597.80" y="398.90" text-anchor="middle" font-size="19.8" font-family="Liberation Sans, sans-serif">0</text>
<text x="341.50" y="426.90" text-anchor="middle" font-size="19.8" font-family="Liberation Sans, sans-serif">Year BP</text>
<text x="626.00" y="213.60" font-size="19.8" font-family="Liberation Sans, sans-serif"><tspan font-size="24" dy="3.0">&#215;</tspan><tspan dx="-0.8" dy="-3.0">10</tspan><tspan font-size="13.2" dy="-6.8">4</tspan></text>
<text transform="translate(680.7,296.30) rotate(-90)" text-anchor="middle" font-size="20.2" font-family="Liberation Sans, sans-serif"><tspan font-size="13.6" dy="-7.6">14</tspan><tspan dy="7.6">C (at g</tspan><tspan font-size="13.6" dy="-7.6">&#8722;</tspan><tspan font-size="13.6" dx="-1.6">1</tspan><tspan dx="1.6" dy="7.6">)</tspan></text>
<text x="-0.9" y="490.5" font-size="28.8" font-weight="bold" font-family="Liberation Sans, sans-serif">b</text>
<text x="340" y="497.7" text-anchor="middle" font-size="20" font-family="Liberation Sans, sans-serif">Site #13</text>
<g><polyline points="61.7,526.4 64.7,527.4 67.7,528.6 70.7,530.1 73.7,531.8 76.7,533.9 79.7,536.3 82.7,539.1 85.7,542.3 88.7,545.9 91.7,549.8 94.7,554.1 97.7,558.7 100.7,563.5 103.7,568.4 106.7,573.3 109.7,578.1 112.7,582.8 115.7,587.3 118.7,591.6 121.7,595.5 124.7,599.2 127.7,602.5 130.7,605.5 133.7,608.2 136.7,610.7 139.7,612.9 142.7,614.8 145.7,616.5 148.7,618.0 151.7,619.4 154.7,620.5 157.7,621.6 160.7,622.5 163.7,623.3 166.7,624.0 169.7,624.6 172.7,625.2 175.7,625.6 178.7,626.0 181.7,626.4 184.7,626.7 187.7,627.0 190.7,627.3 193.7,627.5 196.7,627.7 199.7,627.8 202.7,628.0 205.7,628.1 208.7,628.2 211.7,628.3 214.7,628.4 217.7,628.5 220.7,628.5 223.7,628.6 226.7,628.6 229.7,628.7 260.0,628.9 397.0,629.0 591.4,633.4 597.9,654.6" fill="none" stroke="#0000ff" stroke-width="4.0" stroke-opacity="0.100" stroke-linejoin="round" /><polyline points="61.7,526.4 64.7,527.4 67.7,528.6 70.7,530.1 73.7,531.8 76.7,533.9 79.7,536.3 82.7,539.1 85.7,542.3 88.7,545.9 91.7,549.8 94.7,554.1 97.7,558.7 100.7,563.5 103.7,568.4 106.7,573.3 109.7,578.1 112.7,582.8 115.7,587.3 118.7,591.6 121.7,595.5 124.7,599.2 127.7,602.5 130.7,605.5 133.7,608.2 136.7,610.7 139.7,612.9 142.7,614.8 145.7,616.5 148.7,618.0 151.7,619.4 154.7,620.5 157.7,621.6 160.7,622.5 163.7,623.3 166.7,624.0 169.7,624.6 172.7,625.2 175.7,625.6 178.7,626.0 181.7,626.4 184.7,626.7 187.7,627.0 190.7,627.3 193.7,627.5 196.7,627.7 199.7,627.8 202.7,628.0 205.7,628.1 208.7,628.2 211.7,628.3 214.7,628.4 217.7,628.5 220.7,628.5 223.7,628.6 226.7,628.6 229.7,628.7 260.0,628.9 397.0,629.0 591.4,627.6 597.9,654.6" fill="none" stroke="#0000ff" stroke-width="4.0" stroke-opacity="0.100" stroke-linejoin="round" /><polyline points="61.7,526.4 64.7,527.4 67.7,528.6 70.7,530.1 73.7,531.8 76.7,533.9 79.7,536.3 82.7,539.1 85.7,542.3 88.7,545.9 91.7,549.8 94.7,554.1 97.7,558.7 100.7,563.5 103.7,568.4 106.7,573.3 109.7,578.1 112.7,582.8 115.7,587.3 118.7,591.6 121.7,595.5 124.7,599.2 127.7,602.5 130.7,605.5 133.7,608.2 136.7,610.7 139.7,612.9 142.7,614.8 145.7,616.5 148.7,618.0 151.7,619.4 154.7,620.5 157.7,621.6 160.7,622.5 163.7,623.3 166.7,624.0 169.7,624.6 172.7,625.2 175.7,625.6 178.7,626.0 181.7,626.4 184.7,626.7 187.7,627.0 190.7,627.3 193.7,627.5 196.7,627.7 199.7,627.8 202.7,628.0 205.7,628.1 208.7,628.2 211.7,628.3 214.7,628.4 217.7,628.5 220.7,628.5 223.7,628.6 226.7,628.6 229.7,628.7 260.0,628.9 397.0,629.0 591.4,623.9 597.9,654.6" fill="none" stroke="#0000ff" stroke-width="4.0" stroke-opacity="0.100" stroke-linejoin="round" /><polyline points="61.7,526.6 64.7,527.6 67.7,528.9 70.7,530.4 73.7,532.2 76.7,534.3 79.7,536.8 82.7,539.7 85.7,543.0 88.7,546.7 91.7,550.8 94.7,555.3 97.7,560.1 100.7,565.0 103.7,570.1 106.7,575.2 109.7,580.2 112.7,585.1 115.7,589.8 118.7,594.2 121.7,598.3 124.7,602.0 127.7,605.5 130.7,608.6 133.7,611.4 136.7,613.9 139.7,616.2 142.7,618.2 145.7,620.0 148.7,621.6 151.7,622.9 154.7,624.2 157.7,625.2 160.7,626.2 163.7,627.0 166.7,627.7 169.7,628.4 172.7,629.0 175.7,629.4 178.7,629.9 181.7,630.3 184.7,630.6 187.7,630.9 190.7,631.1 193.7,631.4 196.7,631.6 199.7,631.7 202.7,631.9 205.7,632.0 208.7,632.1 211.7,632.2 214.7,632.3 217.7,632.4 220.7,632.5 223.7,632.5 226.7,632.6 229.7,632.6 260.0,632.8 397.0,632.9 591.4,629.7 597.9,654.6" fill="none" stroke="#0000ff" stroke-width="4.0" stroke-opacity="0.100" stroke-linejoin="round" /><polyline points="61.7,526.6 64.7,527.6 67.7,528.9 70.7,530.4 73.7,532.2 76.7,534.3 79.7,536.8 82.7,539.7 85.7,543.0 88.7,546.7 91.7,550.8 94.7,555.3 97.7,560.1 100.7,565.0 103.7,570.1 106.7,575.2 109.7,580.2 112.7,585.1 115.7,589.8 118.7,594.2 121.7,598.3 124.7,602.0 127.7,605.5 130.7,608.6 133.7,611.4 136.7,613.9 139.7,616.2 142.7,618.2 145.7,620.0 148.7,621.6 151.7,622.9 154.7,624.2 157.7,625.2 160.7,626.2 163.7,627.0 166.7,627.7 169.7,628.4 172.7,629.0 175.7,629.4 178.7,629.9 181.7,630.3 184.7,630.6 187.7,630.9 190.7,631.1 193.7,631.4 196.7,631.6 199.7,631.7 202.7,631.9 205.7,632.0 208.7,632.1 211.7,632.2 214.7,632.3 217.7,632.4 220.7,632.5 223.7,632.5 226.7,632.6 229.7,632.6 260.0,632.8 397.0,632.9 591.4,626.3 597.9,654.6" fill="none" stroke="#0000ff" stroke-width="4.0" stroke-opacity="0.100" stroke-linejoin="round" /><polyline points="61.7,526.6 64.7,527.6 67.7,528.9 70.7,530.4 73.7,532.2 76.7,534.3 79.7,536.8 82.7,539.7 85.7,543.0 88.7,546.7 91.7,550.8 94.7,555.3 97.7,560.1 100.7,565.0 103.7,570.1 106.7,575.2 109.7,580.2 112.7,585.1 115.7,589.8 118.7,594.2 121.7,598.3 124.7,602.0 127.7,605.5 130.7,608.6 133.7,611.4 136.7,613.9 139.7,616.2 142.7,618.2 145.7,620.0 148.7,621.6 151.7,622.9 154.7,624.2 157.7,625.2 160.7,626.2 163.7,627.0 166.7,627.7 169.7,628.4 172.7,629.0 175.7,629.4 178.7,629.9 181.7,630.3 184.7,630.6 187.7,630.9 190.7,631.1 193.7,631.4 196.7,631.6 199.7,631.7 202.7,631.9 205.7,632.0 208.7,632.1 211.7,632.2 214.7,632.3 217.7,632.4 220.7,632.5 223.7,632.5 226.7,632.6 229.7,632.6 260.0,632.8 397.0,632.9 591.4,619.6 597.9,654.6" fill="none" stroke="#0000ff" stroke-width="4.0" stroke-opacity="0.100" stroke-linejoin="round" /><polyline points="61.7,526.6 64.7,527.6 67.7,528.9 70.7,530.4 73.7,532.2 76.7,534.3 79.7,536.8 82.7,539.7 85.7,543.0 88.7,546.7 91.7,550.8 94.7,555.3 97.7,560.1 100.7,565.0 103.7,570.1 106.7,575.2 109.7,580.2 112.7,585.1 115.7,589.8 118.7,594.2 121.7,598.3 124.7,602.0 127.7,605.5 130.7,608.6 133.7,611.4 136.7,613.9 139.7,616.2 142.7,618.2 145.7,620.0 148.7,621.6 151.7,622.9 154.7,624.2 157.7,625.2 160.7,626.2 163.7,627.0 166.7,627.7 169.7,628.4 172.7,629.0 175.7,629.4 178.7,629.9 181.7,630.3 184.7,630.6 187.7,630.9 190.7,631.1 193.7,631.4 196.7,631.6 199.7,631.7 202.7,631.9 205.7,632.0 208.7,632.1 211.7,632.2 214.7,632.3 217.7,632.4 220.7,632.5 223.7,632.5 226.7,632.6 229.7,632.6 260.0,632.8 397.0,632.9 591.4,616.0 597.9,654.6" fill="none" stroke="#0000ff" stroke-width="4.0" stroke-opacity="0.100" stroke-linejoin="round" /><polyline points="61.7,526.6 64.7,527.6 67.7,528.9 70.7,530.4 73.7,532.2 76.7,534.3 79.7,536.8 82.7,539.7 85.7,543.0 88.7,546.7 91.7,550.8 94.7,555.3 97.7,560.1 100.7,565.0 103.7,570.1 106.7,575.2 109.7,580.2 112.7,585.1 115.7,589.8 118.7,594.2 121.7,598.3 124.7,602.0 127.7,605.5 130.7,608.6 133.7,611.4 136.7,613.9 139.7,616.2 142.7,618.2 145.7,620.0 148.7,621.6 151.7,622.9 154.7,624.2 157.7,625.2 160.7,626.2 163.7,627.0 166.7,627.7 169.7,628.4 172.7,629.0 175.7,629.4 178.7,629.9 181.7,630.3 184.7,630.6 187.7,630.9 190.7,631.1 193.7,631.4 196.7,631.6 199.7,631.7 202.7,631.9 205.7,632.0 208.7,632.1 211.7,632.2 214.7,632.3 217.7,632.4 220.7,632.5 223.7,632.5 226.7,632.6 229.7,632.6 260.0,632.8 397.0,632.9 591.4,610.6 597.9,654.6" fill="none" stroke="#0000ff" stroke-width="4.0" stroke-opacity="0.100" stroke-linejoin="round" /><polyline points="61.7,526.6 64.7,527.6 67.7,528.9 70.7,530.4 73.7,532.2 76.7,534.3 79.7,536.8 82.7,539.7 85.7,543.0 88.7,546.7 91.7,550.8 94.7,555.3 97.7,560.1 100.7,565.0 103.7,570.1 106.7,575.2 109.7,580.2 112.7,585.1 115.7,589.8 118.7,594.2 121.7,598.3 124.7,602.0 127.7,605.5 130.7,608.6 133.7,611.4 136.7,613.9 139.7,616.2 142.7,618.2 145.7,620.0 148.7,621.6 151.7,622.9 154.7,624.2 157.7,625.2 160.7,626.2 163.7,627.0 166.7,627.7 169.7,628.4 172.7,629.0 175.7,629.4 178.7,629.9 181.7,630.3 184.7,630.6 187.7,630.9 190.7,631.1 193.7,631.4 196.7,631.6 199.7,631.7 202.7,631.9 205.7,632.0 208.7,632.1 211.7,632.2 214.7,632.3 217.7,632.4 220.7,632.5 223.7,632.5 226.7,632.6 229.7,632.6 260.0,632.8 397.0,632.9 591.4,605.2 597.9,654.6" fill="none" stroke="#0000ff" stroke-width="4.0" stroke-opacity="0.100" stroke-linejoin="round" /><polyline points="61.7,526.7 64.7,527.8 67.7,529.1 70.7,530.7 73.7,532.5 76.7,534.7 79.7,537.3 82.7,540.3 85.7,543.8 88.7,547.6 91.7,551.9 94.7,556.5 97.7,561.4 100.7,566.5 103.7,571.8 106.7,577.1 109.7,582.3 112.7,587.3 115.7,592.2 118.7,596.7 121.7,601.0 124.7,604.9 127.7,608.4 130.7,611.7 133.7,614.6 136.7,617.2 139.7,619.5 142.7,621.6 145.7,623.5 148.7,625.1 151.7,626.5 154.7,627.8 157.7,628.9 160.7,629.9 163.7,630.7 166.7,631.5 169.7,632.2 172.7,632.7 175.7,633.3 178.7,633.7 181.7,634.1 184.7,634.4 187.7,634.7 190.7,635.0 193.7,635.2 196.7,635.4 199.7,635.6 202.7,635.8 205.7,635.9 208.7,636.0 211.7,636.1 214.7,636.2 217.7,636.3 220.7,636.4 223.7,636.4 226.7,636.5 229.7,636.5 260.0,636.8 397.0,636.9 591.4,625.0 597.9,654.6" fill="none" stroke="#0000ff" stroke-width="4.0" stroke-opacity="0.100" stroke-linejoin="round" /><polyline points="61.7,526.7 64.7,527.8 67.7,529.1 70.7,530.7 73.7,532.5 76.7,534.7 79.7,537.3 82.7,540.3 85.7,543.8 88.7,547.6 91.7,551.9 94.7,556.5 97.7,561.4 100.7,566.5 103.7,571.8 106.7,577.1 109.7,582.3 112.7,587.3 115.7,592.2 118.7,596.7 121.7,601.0 124.7,604.9 127.7,608.4 130.7,611.7 133.7,614.6 136.7,617.2 139.7,619.5 142.7,621.6 145.7,623.5 148.7,625.1 151.7,626.5 154.7,627.8 157.7,628.9 160.7,629.9 163.7,630.7 166.7,631.5 169.7,632.2 172.7,632.7 175.7,633.3 178.7,633.7 181.7,634.1 184.7,634.4 187.7,634.7 190.7,635.0 193.7,635.2 196.7,635.4 199.7,635.6 202.7,635.8 205.7,635.9 208.7,636.0 211.7,636.1 214.7,636.2 217.7,636.3 220.7,636.4 223.7,636.4 226.7,636.5 229.7,636.5 260.0,636.8 397.0,636.9 591.4,621.8 597.9,654.6" fill="none" stroke="#0000ff" stroke-width="4.0" stroke-opacity="0.100" stroke-linejoin="round" /><polyline points="61.7,526.7 64.7,527.8 67.7,529.1 70.7,530.7 73.7,532.5 76.7,534.7 79.7,537.3 82.7,540.3 85.7,543.8 88.7,547.6 91.7,551.9 94.7,556.5 97.7,561.4 100.7,566.5 103.7,571.8 106.7,577.1 109.7,582.3 112.7,587.3 115.7,592.2 118.7,596.7 121.7,601.0 124.7,604.9 127.7,608.4 130.7,611.7 133.7,614.6 136.7,617.2 139.7,619.5 142.7,621.6 145.7,623.5 148.7,625.1 151.7,626.5 154.7,627.8 157.7,628.9 160.7,629.9 163.7,630.7 166.7,631.5 169.7,632.2 172.7,632.7 175.7,633.3 178.7,633.7 181.7,634.1 184.7,634.4 187.7,634.7 190.7,635.0 193.7,635.2 196.7,635.4 199.7,635.6 202.7,635.8 205.7,635.9 208.7,636.0 211.7,636.1 214.7,636.2 217.7,636.3 220.7,636.4 223.7,636.4 226.7,636.5 229.7,636.5 260.0,636.8 397.0,636.9 591.4,615.8 597.9,654.6" fill="none" stroke="#0000ff" stroke-width="4.0" stroke-opacity="0.100" stroke-linejoin="round" /><polyline points="61.7,526.7 64.7,527.8 67.7,529.1 70.7,530.7 73.7,532.5 76.7,534.7 79.7,537.3 82.7,540.3 85.7,543.8 88.7,547.6 91.7,551.9 94.7,556.5 97.7,561.4 100.7,566.5 103.7,571.8 106.7,577.1 109.7,582.3 112.7,587.3 115.7,592.2 118.7,596.7 121.7,601.0 124.7,604.9 127.7,608.4 130.7,611.7 133.7,614.6 136.7,617.2 139.7,619.5 142.7,621.6 145.7,623.5 148.7,625.1 151.7,626.5 154.7,627.8 157.7,628.9 160.7,629.9 163.7,630.7 166.7,631.5 169.7,632.2 172.7,632.7 175.7,633.3 178.7,633.7 181.7,634.1 184.7,634.4 187.7,634.7 190.7,635.0 193.7,635.2 196.7,635.4 199.7,635.6 202.7,635.8 205.7,635.9 208.7,636.0 211.7,636.1 214.7,636.2 217.7,636.3 220.7,636.4 223.7,636.4 226.7,636.5 229.7,636.5 260.0,636.8 397.0,636.9 591.4,614.3 597.9,654.6" fill="none" stroke="#0000ff" stroke-width="4.0" stroke-opacity="0.100" stroke-linejoin="round" /><polyline points="61.7,526.7 64.7,527.8 67.7,529.1 70.7,530.7 73.7,532.5 76.7,534.7 79.7,537.3 82.7,540.3 85.7,543.8 88.7,547.6 91.7,551.9 94.7,556.5 97.7,561.4 100.7,566.5 103.7,571.8 106.7,577.1 109.7,582.3 112.7,587.3 115.7,592.2 118.7,596.7 121.7,601.0 124.7,604.9 127.7,608.4 130.7,611.7 133.7,614.6 136.7,617.2 139.7,619.5 142.7,621.6 145.7,623.5 148.7,625.1 151.7,626.5 154.7,627.8 157.7,628.9 160.7,629.9 163.7,630.7 166.7,631.5 169.7,632.2 172.7,632.7 175.7,633.3 178.7,633.7 181.7,634.1 184.7,634.4 187.7,634.7 190.7,635.0 193.7,635.2 196.7,635.4 199.7,635.6 202.7,635.8 205.7,635.9 208.7,636.0 211.7,636.1 214.7,636.2 217.7,636.3 220.7,636.4 223.7,636.4 226.7,636.5 229.7,636.5 260.0,636.8 397.0,636.9 591.4,609.8 597.9,654.6" fill="none" stroke="#0000ff" stroke-width="4.0" stroke-opacity="0.100" stroke-linejoin="round" /><polyline points="61.7,526.7 64.7,527.8 67.7,529.1 70.7,530.7 73.7,532.5 76.7,534.7 79.7,537.3 82.7,540.3 85.7,543.8 88.7,547.6 91.7,551.9 94.7,556.5 97.7,561.4 100.7,566.5 103.7,571.8 106.7,577.1 109.7,582.3 112.7,587.3 115.7,592.2 118.7,596.7 121.7,601.0 124.7,604.9 127.7,608.4 130.7,611.7 133.7,614.6 136.7,617.2 139.7,619.5 142.7,621.6 145.7,623.5 148.7,625.1 151.7,626.5 154.7,627.8 157.7,628.9 160.7,629.9 163.7,630.7 166.7,631.5 169.7,632.2 172.7,632.7 175.7,633.3 178.7,633.7 181.7,634.1 184.7,634.4 187.7,634.7 190.7,635.0 193.7,635.2 196.7,635.4 199.7,635.6 202.7,635.8 205.7,635.9 208.7,636.0 211.7,636.1 214.7,636.2 217.7,636.3 220.7,636.4 223.7,636.4 226.7,636.5 229.7,636.5 260.0,636.8 397.0,636.9 591.4,605.2 597.9,654.6" fill="none" stroke="#0000ff" stroke-width="4.0" stroke-opacity="0.100" stroke-linejoin="round" /><polyline points="61.7,526.7 64.7,527.8 67.7,529.1 70.7,530.7 73.7,532.5 76.7,534.7 79.7,537.3 82.7,540.3 85.7,543.8 88.7,547.6 91.7,551.9 94.7,556.5 97.7,561.4 100.7,566.5 103.7,571.8 106.7,577.1 109.7,582.3 112.7,587.3 115.7,592.2 118.7,596.7 121.7,601.0 124.7,604.9 127.7,608.4 130.7,611.7 133.7,614.6 136.7,617.2 139.7,619.5 142.7,621.6 145.7,623.5 148.7,625.1 151.7,626.5 154.7,627.8 157.7,628.9 160.7,629.9 163.7,630.7 166.7,631.5 169.7,632.2 172.7,632.7 175.7,633.3 178.7,633.7 181.7,634.1 184.7,634.4 187.7,634.7 190.7,635.0 193.7,635.2 196.7,635.4 199.7,635.6 202.7,635.8 205.7,635.9 208.7,636.0 211.7,636.1 214.7,636.2 217.7,636.3 220.7,636.4 223.7,636.4 226.7,636.5 229.7,636.5 260.0,636.8 397.0,636.9 591.4,602.7 597.9,654.6" fill="none" stroke="#0000ff" stroke-width="4.0" stroke-opacity="0.100" stroke-linejoin="round" /><polyline points="61.7,526.7 64.7,527.8 67.7,529.1 70.7,530.7 73.7,532.5 76.7,534.7 79.7,537.3 82.7,540.3 85.7,543.8 88.7,547.6 91.7,551.9 94.7,556.5 97.7,561.4 100.7,566.5 103.7,571.8 106.7,577.1 109.7,582.3 112.7,587.3 115.7,592.2 118.7,596.7 121.7,601.0 124.7,604.9 127.7,608.4 130.7,611.7 133.7,614.6 136.7,617.2 139.7,619.5 142.7,621.6 145.7,623.5 148.7,625.1 151.7,626.5 154.7,627.8 157.7,628.9 160.7,629.9 163.7,630.7 166.7,631.5 169.7,632.2 172.7,632.7 175.7,633.3 178.7,633.7 181.7,634.1 184.7,634.4 187.7,634.7 190.7,635.0 193.7,635.2 196.7,635.4 199.7,635.6 202.7,635.8 205.7,635.9 208.7,636.0 211.7,636.1 214.7,636.2 217.7,636.3 220.7,636.4 223.7,636.4 226.7,636.5 229.7,636.5 260.0,636.8 397.0,636.9 591.4,598.4 597.9,654.6" fill="none" stroke="#0000ff" stroke-width="4.0" stroke-opacity="0.100" stroke-linejoin="round" /><polyline points="61.7,526.7 64.7,527.8 67.7,529.1 70.7,530.7 73.7,532.5 76.7,534.7 79.7,537.3 82.7,540.3 85.7,543.8 88.7,547.6 91.7,551.9 94.7,556.5 97.7,561.4 100.7,566.5 103.7,571.8 106.7,577.1 109.7,582.3 112.7,587.3 115.7,592.2 118.7,596.7 121.7,601.0 124.7,604.9 127.7,608.4 130.7,611.7 133.7,614.6 136.7,617.2 139.7,619.5 142.7,621.6 145.7,623.5 148.7,625.1 151.7,626.5 154.7,627.8 157.7,628.9 160.7,629.9 163.7,630.7 166.7,631.5 169.7,632.2 172.7,632.7 175.7,633.3 178.7,633.7 181.7,634.1 184.7,634.4 187.7,634.7 190.7,635.0 193.7,635.2 196.7,635.4 199.7,635.6 202.7,635.8 205.7,635.9 208.7,636.0 211.7,636.1 214.7,636.2 217.7,636.3 220.7,636.4 223.7,636.4 226.7,636.5 229.7,636.5 260.0,636.8 397.0,636.9 591.4,592.7 597.9,654.6" fill="none" stroke="#0000ff" stroke-width="4.0" stroke-opacity="0.100" stroke-linejoin="round" /><polyline points="61.7,526.7 64.7,527.8 67.7,529.1 70.7,530.7 73.7,532.5 76.7,534.7 79.7,537.3 82.7,540.3 85.7,543.8 88.7,547.6 91.7,551.9 94.7,556.5 97.7,561.4 100.7,566.5 103.7,571.8 106.7,577.1 109.7,582.3 112.7,587.3 115.7,592.2 118.7,596.7 121.7,601.0 124.7,604.9 127.7,608.4 130.7,611.7 133.7,614.6 136.7,617.2 139.7,619.5 142.7,621.6 145.7,623.5 148.7,625.1 151.7,626.5 154.7,627.8 157.7,628.9 160.7,629.9 163.7,630.7 166.7,631.5 169.7,632.2 172.7,632.7 175.7,633.3 178.7,633.7 181.7,634.1 184.7,634.4 187.7,634.7 190.7,635.0 193.7,635.2 196.7,635.4 199.7,635.6 202.7,635.8 205.7,635.9 208.7,636.0 211.7,636.1 214.7,636.2 217.7,636.3 220.7,636.4 223.7,636.4 226.7,636.5 229.7,636.5 260.0,636.8 397.0,636.9 591.4,588.8 597.9,654.6" fill="none" stroke="#0000ff" stroke-width="4.0" stroke-opacity="0.100" stroke-linejoin="round" /><polyline points="61.7,526.9 64.7,528.0 67.7,529.3 70.7,531.0 73.7,532.9 76.7,535.2 79.7,537.9 82.7,541.0 85.7,544.5 88.7,548.5 91.7,552.9 94.7,557.7 97.7,562.8 100.7,568.1 103.7,573.5 106.7,579.0 109.7,584.3 112.7,589.6 115.7,594.6 118.7,599.3 121.7,603.7 124.7,607.7 127.7,611.4 130.7,614.8 133.7,617.8 136.7,620.5 139.7,622.9 142.7,625.0 145.7,626.9 148.7,628.6 151.7,630.1 154.7,631.4 157.7,632.6 160.7,633.6 163.7,634.5 166.7,635.3 169.7,635.9 172.7,636.5 175.7,637.1 178.7,637.5 181.7,637.9 184.7,638.3 187.7,638.6 190.7,638.9 193.7,639.1 196.7,639.3 199.7,639.5 202.7,639.7 205.7,639.8 208.7,639.9 211.7,640.0 214.7,640.1 217.7,640.2 220.7,640.3 223.7,640.4 226.7,640.4 229.7,640.5 260.0,640.7 397.0,640.8 591.4,617.1 597.9,654.6" fill="none" stroke="#0000ff" stroke-width="4.0" stroke-opacity="0.100" stroke-linejoin="round" /><polyline points="61.7,526.9 64.7,528.0 67.7,529.3 70.7,531.0 73.7,532.9 76.7,535.2 79.7,537.9 82.7,541.0 85.7,544.5 88.7,548.5 91.7,552.9 94.7,557.7 97.7,562.8 100.7,568.1 103.7,573.5 106.7,579.0 109.7,584.3 112.7,589.6 115.7,594.6 118.7,599.3 121.7,603.7 124.7,607.7 127.7,611.4 130.7,614.8 133.7,617.8 136.7,620.5 139.7,622.9 142.7,625.0 145.7,626.9 148.7,628.6 151.7,630.1 154.7,631.4 157.7,632.6 160.7,633.6 163.7,634.5 166.7,635.3 169.7,635.9 172.7,636.5 175.7,637.1 178.7,637.5 181.7,637.9 184.7,638.3 187.7,638.6 190.7,638.9 193.7,639.1 196.7,639.3 199.7,639.5 202.7,639.7 205.7,639.8 208.7,639.9 211.7,640.0 214.7,640.1 217.7,640.2 220.7,640.3 223.7,640.4 226.7,640.4 229.7,640.5 260.0,640.7 397.0,640.8 591.4,613.1 597.9,654.6" fill="none" stroke="#0000ff" stroke-width="4.0" stroke-opacity="0.100" stroke-linejoin="round" /><polyline points="61.7,526.9 64.7,528.0 67.7,529.3 70.7,531.0 73.7,532.9 76.7,535.2 79.7,537.9 82.7,541.0 85.7,544.5 88.7,548.5 91.7,552.9 94.7,557.7 97.7,562.8 100.7,568.1 103.7,573.5 106.7,579.0 109.7,584.3 112.7,589.6 115.7,594.6 118.7,599.3 121.7,603.7 124.7,607.7 127.7,611.4 130.7,614.8 133.7,617.8 136.7,620.5 139.7,622.9 142.7,625.0 145.7,626.9 148.7,628.6 151.7,630.1 154.7,631.4 157.7,632.6 160.7,633.6 163.7,634.5 166.7,635.3 169.7,635.9 172.7,636.5 175.7,637.1 178.7,637.5 181.7,637.9 184.7,638.3 187.7,638.6 190.7,638.9 193.7,639.1 196.7,639.3 199.7,639.5 202.7,639.7 205.7,639.8 208.7,639.9 211.7,640.0 214.7,640.1 217.7,640.2 220.7,640.3 223.7,640.4 226.7,640.4 229.7,640.5 260.0,640.7 397.0,640.8 591.4,610.1 597.9,654.6" fill="none" stroke="#0000ff" stroke-width="4.0" stroke-opacity="0.100" stroke-linejoin="round" /><polyline points="61.7,526.9 64.7,528.0 67.7,529.3 70.7,531.0 73.7,532.9 76.7,535.2 79.7,537.9 82.7,541.0 85.7,544.5 88.7,548.5 91.7,552.9 94.7,557.7 97.7,562.8 100.7,568.1 103.7,573.5 106.7,579.0 109.7,584.3 112.7,589.6 115.7,594.6 118.7,599.3 121.7,603.7 124.7,607.7 127.7,611.4 130.7,614.8 133.7,617.8 136.7,620.5 139.7,622.9 142.7,625.0 145.7,626.9 148.7,628.6 151.7,630.1 154.7,631.4 157.7,632.6 160.7,633.6 163.7,634.5 166.7,635.3 169.7,635.9 172.7,636.5 175.7,637.1 178.7,637.5 181.7,637.9 184.7,638.3 187.7,638.6 190.7,638.9 193.7,639.1 196.7,639.3 199.7,639.5 202.7,639.7 205.7,639.8 208.7,639.9 211.7,640.0 214.7,640.1 217.7,640.2 220.7,640.3 223.7,640.4 226.7,640.4 229.7,640.5 260.0,640.7 397.0,640.8 591.4,607.8 597.9,654.6" fill="none" stroke="#0000ff" stroke-width="4.0" stroke-opacity="0.100" stroke-linejoin="round" /><polyline points="61.7,526.9 64.7,528.0 67.7,529.3 70.7,531.0 73.7,532.9 76.7,535.2 79.7,537.9 82.7,541.0 85.7,544.5 88.7,548.5 91.7,552.9 94.7,557.7 97.7,562.8 100.7,568.1 103.7,573.5 106.7,579.0 109.7,584.3 112.7,589.6 115.7,594.6 118.7,599.3 121.7,603.7 124.7,607.7 127.7,611.4 130.7,614.8 133.7,617.8 136.7,620.5 139.7,622.9 142.7,625.0 145.7,626.9 148.7,628.6 151.7,630.1 154.7,631.4 157.7,632.6 160.7,633.6 163.7,634.5 166.7,635.3 169.7,635.9 172.7,636.5 175.7,637.1 178.7,637.5 181.7,637.9 184.7,638.3 187.7,638.6 190.7,638.9 193.7,639.1 196.7,639.3 199.7,639.5 202.7,639.7 205.7,639.8 208.7,639.9 211.7,640.0 214.7,640.1 217.7,640.2 220.7,640.3 223.7,640.4 226.7,640.4 229.7,640.5 260.0,640.7 397.0,640.8 591.4,603.6 597.9,654.6" fill="none" stroke="#0000ff" stroke-width="4.0" stroke-opacity="0.100" stroke-linejoin="round" /><polyline points="61.7,526.9 64.7,528.0 67.7,529.3 70.7,531.0 73.7,532.9 76.7,535.2 79.7,537.9 82.7,541.0 85.7,544.5 88.7,548.5 91.7,552.9 94.7,557.7 97.7,562.8 100.7,568.1 103.7,573.5 106.7,579.0 109.7,584.3 112.7,589.6 115.7,594.6 118.7,599.3 121.7,603.7 124.7,607.7 127.7,611.4 130.7,614.8 133.7,617.8 136.7,620.5 139.7,622.9 142.7,625.0 145.7,626.9 148.7,628.6 151.7,630.1 154.7,631.4 157.7,632.6 160.7,633.6 163.7,634.5 166.7,635.3 169.7,635.9 172.7,636.5 175.7,637.1 178.7,637.5 181.7,637.9 184.7,638.3 187.7,638.6 190.7,638.9 193.7,639.1 196.7,639.3 199.7,639.5 202.7,639.7 205.7,639.8 208.7,639.9 211.7,640.0 214.7,640.1 217.7,640.2 220.7,640.3 223.7,640.4 226.7,640.4 229.7,640.5 260.0,640.7 397.0,640.8 591.4,600.9 597.9,654.6" fill="none" stroke="#0000ff" stroke-width="4.0" stroke-opacity="0.100" stroke-linejoin="round" /><polyline points="61.7,526.9 64.7,528.0 67.7,529.3 70.7,531.0 73.7,532.9 76.7,535.2 79.7,537.9 82.7,541.0 85.7,544.5 88.7,548.5 91.7,552.9 94.7,557.7 97.7,562.8 100.7,568.1 103.7,573.5 106.7,579.0 109.7,584.3 112.7,589.6 115.7,594.6 118.7,599.3 121.7,603.7 124.7,607.7 127.7,611.4 130.7,614.8 133.7,617.8 136.7,620.5 139.7,622.9 142.7,625.0 145.7,626.9 148.7,628.6 151.7,630.1 154.7,631.4 157.7,632.6 160.7,633.6 163.7,634.5 166.7,635.3 169.7,635.9 172.7,636.5 175.7,637.1 178.7,637.5 181.7,637.9 184.7,638.3 187.7,638.6 190.7,638.9 193.7,639.1 196.7,639.3 199.7,639.5 202.7,639.7 205.7,639.8 208.7,639.9 211.7,640.0 214.7,640.1 217.7,640.2 220.7,640.3 223.7,640.4 226.7,640.4 229.7,640.5 260.0,640.7 397.0,640.8 591.4,596.6 597.9,654.6" fill="none" stroke="#0000ff" stroke-width="4.0" stroke-opacity="0.100" stroke-linejoin="round" /><polyline points="61.7,526.9 64.7,528.0 67.7,529.3 70.7,531.0 73.7,532.9 76.7,535.2 79.7,537.9 82.7,541.0 85.7,544.5 88.7,548.5 91.7,552.9 94.7,557.7 97.7,562.8 100.7,568.1 103.7,573.5 106.7,579.0 109.7,584.3 112.7,589.6 115.7,594.6 118.7,599.3 121.7,603.7 124.7,607.7 127.7,611.4 130.7,614.8 133.7,617.8 136.7,620.5 139.7,622.9 142.7,625.0 145.7,626.9 148.7,628.6 151.7,630.1 154.7,631.4 157.7,632.6 160.7,633.6 163.7,634.5 166.7,635.3 169.7,635.9 172.7,636.5 175.7,637.1 178.7,637.5 181.7,637.9 184.7,638.3 187.7,638.6 190.7,638.9 193.7,639.1 196.7,639.3 199.7,639.5 202.7,639.7 205.7,639.8 208.7,639.9 211.7,640.0 214.7,640.1 217.7,640.2 220.7,640.3 223.7,640.4 226.7,640.4 229.7,640.5 260.0,640.7 397.0,640.8 591.4,594.1 597.9,654.6" fill="none" stroke="#0000ff" stroke-width="4.0" stroke-opacity="0.100" stroke-linejoin="round" /><polyline points="61.7,526.9 64.7,528.0 67.7,529.3 70.7,531.0 73.7,532.9 76.7,535.2 79.7,537.9 82.7,541.0 85.7,544.5 88.7,548.5 91.7,552.9 94.7,557.7 97.7,562.8 100.7,568.1 103.7,573.5 106.7,579.0 109.7,584.3 112.7,589.6 115.7,594.6 118.7,599.3 121.7,603.7 124.7,607.7 127.7,611.4 130.7,614.8 133.7,617.8 136.7,620.5 139.7,622.9 142.7,625.0 145.7,626.9 148.7,628.6 151.7,630.1 154.7,631.4 157.7,632.6 160.7,633.6 163.7,634.5 166.7,635.3 169.7,635.9 172.7,636.5 175.7,637.1 178.7,637.5 181.7,637.9 184.7,638.3 187.7,638.6 190.7,638.9 193.7,639.1 196.7,639.3 199.7,639.5 202.7,639.7 205.7,639.8 208.7,639.9 211.7,640.0 214.7,640.1 217.7,640.2 220.7,640.3 223.7,640.4 226.7,640.4 229.7,640.5 260.0,640.7 397.0,640.8 591.4,591.3 597.9,654.6" fill="none" stroke="#0000ff" stroke-width="4.0" stroke-opacity="0.100" stroke-linejoin="round" /><polyline points="61.7,526.9 64.7,528.0 67.7,529.3 70.7,531.0 73.7,532.9 76.7,535.2 79.7,537.9 82.7,541.0 85.7,544.5 88.7,548.5 91.7,552.9 94.7,557.7 97.7,562.8 100.7,568.1 103.7,573.5 106.7,579.0 109.7,584.3 112.7,589.6 115.7,594.6 118.7,599.3 121.7,603.7 124.7,607.7 127.7,611.4 130.7,614.8 133.7,617.8 136.7,620.5 139.7,622.9 142.7,625.0 145.7,626.9 148.7,628.6 151.7,630.1 154.7,631.4 157.7,632.6 160.7,633.6 163.7,634.5 166.7,635.3 169.7,635.9 172.7,636.5 175.7,637.1 178.7,637.5 181.7,637.9 184.7,638.3 187.7,638.6 190.7,638.9 193.7,639.1 196.7,639.3 199.7,639.5 202.7,639.7 205.7,639.8 208.7,639.9 211.7,640.0 214.7,640.1 217.7,640.2 220.7,640.3 223.7,640.4 226.7,640.4 229.7,640.5 260.0,640.7 397.0,640.8 591.4,586.2 597.9,654.6" fill="none" stroke="#0000ff" stroke-width="4.0" stroke-opacity="0.100" stroke-linejoin="round" /><polyline points="61.7,526.9 64.7,528.0 67.7,529.3 70.7,531.0 73.7,532.9 76.7,535.2 79.7,537.9 82.7,541.0 85.7,544.5 88.7,548.5 91.7,552.9 94.7,557.7 97.7,562.8 100.7,568.1 103.7,573.5 106.7,579.0 109.7,584.3 112.7,589.6 115.7,594.6 118.7,599.3 121.7,603.7 124.7,607.7 127.7,611.4 130.7,614.8 133.7,617.8 136.7,620.5 139.7,622.9 142.7,625.0 145.7,626.9 148.7,628.6 151.7,630.1 154.7,631.4 157.7,632.6 160.7,633.6 163.7,634.5 166.7,635.3 169.7,635.9 172.7,636.5 175.7,637.1 178.7,637.5 181.7,637.9 184.7,638.3 187.7,638.6 190.7,638.9 193.7,639.1 196.7,639.3 199.7,639.5 202.7,639.7 205.7,639.8 208.7,639.9 211.7,640.0 214.7,640.1 217.7,640.2 220.7,640.3 223.7,640.4 226.7,640.4 229.7,640.5 260.0,640.7 397.0,640.8 591.4,583.2 597.9,654.6" fill="none" stroke="#0000ff" stroke-width="4.0" stroke-opacity="0.100" stroke-linejoin="round" /><polyline points="61.7,526.9 64.7,528.0 67.7,529.3 70.7,531.0 73.7,532.9 76.7,535.2 79.7,537.9 82.7,541.0 85.7,544.5 88.7,548.5 91.7,552.9 94.7,557.7 97.7,562.8 100.7,568.1 103.7,573.5 106.7,579.0 109.7,584.3 112.7,589.6 115.7,594.6 118.7,599.3 121.7,603.7 124.7,607.7 127.7,611.4 130.7,614.8 133.7,617.8 136.7,620.5 139.7,622.9 142.7,625.0 145.7,626.9 148.7,628.6 151.7,630.1 154.7,631.4 157.7,632.6 160.7,633.6 163.7,634.5 166.7,635.3 169.7,635.9 172.7,636.5 175.7,637.1 178.7,637.5 181.7,637.9 184.7,638.3 187.7,638.6 190.7,638.9 193.7,639.1 196.7,639.3 199.7,639.5 202.7,639.7 205.7,639.8 208.7,639.9 211.7,640.0 214.7,640.1 217.7,640.2 220.7,640.3 223.7,640.4 226.7,640.4 229.7,640.5 260.0,640.7 397.0,640.8 591.4,579.7 597.9,654.6" fill="none" stroke="#0000ff" stroke-width="4.0" stroke-opacity="0.100" stroke-linejoin="round" /><polyline points="61.7,526.9 64.7,528.0 67.7,529.3 70.7,531.0 73.7,532.9 76.7,535.2 79.7,537.9 82.7,541.0 85.7,544.5 88.7,548.5 91.7,552.9 94.7,557.7 97.7,562.8 100.7,568.1 103.7,573.5 106.7,579.0 109.7,584.3 112.7,589.6 115.7,594.6 118.7,599.3 121.7,603.7 124.7,607.7 127.7,611.4 130.7,614.8 133.7,617.8 136.7,620.5 139.7,622.9 142.7,625.0 145.7,626.9 148.7,628.6 151.7,630.1 154.7,631.4 157.7,632.6 160.7,633.6 163.7,634.5 166.7,635.3 169.7,635.9 172.7,636.5 175.7,637.1 178.7,637.5 181.7,637.9 184.7,638.3 187.7,638.6 190.7,638.9 193.7,639.1 196.7,639.3 199.7,639.5 202.7,639.7 205.7,639.8 208.7,639.9 211.7,640.0 214.7,640.1 217.7,640.2 220.7,640.3 223.7,640.4 226.7,640.4 229.7,640.5 260.0,640.7 397.0,640.8 591.4,576.8 597.9,654.6" fill="none" stroke="#0000ff" stroke-width="4.0" stroke-opacity="0.100" stroke-linejoin="round" /><polyline points="61.7,526.9 64.7,528.0 67.7,529.3 70.7,531.0 73.7,532.9 76.7,535.2 79.7,537.9 82.7,541.0 85.7,544.5 88.7,548.5 91.7,552.9 94.7,557.7 97.7,562.8 100.7,568.1 103.7,573.5 106.7,579.0 109.7,584.3 112.7,589.6 115.7,594.6 118.7,599.3 121.7,603.7 124.7,607.7 127.7,611.4 130.7,614.8 133.7,617.8 136.7,620.5 139.7,622.9 142.7,625.0 145.7,626.9 148.7,628.6 151.7,630.1 154.7,631.4 157.7,632.6 160.7,633.6 163.7,634.5 166.7,635.3 169.7,635.9 172.7,636.5 175.7,637.1 178.7,637.5 181.7,637.9 184.7,638.3 187.7,638.6 190.7,638.9 193.7,639.1 196.7,639.3 199.7,639.5 202.7,639.7 205.7,639.8 208.7,639.9 211.7,640.0 214.7,640.1 217.7,640.2 220.7,640.3 223.7,640.4 226.7,640.4 229.7,640.5 260.0,640.7 397.0,640.8 591.4,572.9 597.9,654.6" fill="none" stroke="#0000ff" stroke-width="4.0" stroke-opacity="0.100" stroke-linejoin="round" /><polyline points="61.7,527.0 64.7,528.2 67.7,529.6 70.7,531.3 73.7,533.2 76.7,535.6 79.7,538.4 82.7,541.6 85.7,545.3 88.7,549.4 91.7,553.9 94.7,558.8 97.7,564.1 100.7,569.6 103.7,575.2 106.7,580.8 109.7,586.4 112.7,591.8 115.7,597.0 118.7,601.8 121.7,606.4 124.7,610.6 127.7,614.4 130.7,617.8 133.7,621.0 136.7,623.7 139.7,626.2 142.7,628.5 145.7,630.4 148.7,632.2 151.7,633.7 154.7,635.0 157.7,636.2 160.7,637.3 163.7,638.2 166.7,639.0 169.7,639.7 172.7,640.3 175.7,640.9 178.7,641.4 181.7,641.8 184.7,642.2 187.7,642.5 190.7,642.8 193.7,643.0 196.7,643.2 199.7,643.4 202.7,643.6 205.7,643.7 208.7,643.9 211.7,644.0 214.7,644.1 217.7,644.1 220.7,644.2 223.7,644.3 226.7,644.3 229.7,644.4 260.0,644.7 397.0,644.7 591.4,593.2 597.9,654.6" fill="none" stroke="#0000ff" stroke-width="4.0" stroke-opacity="0.100" stroke-linejoin="round" /><polyline points="61.7,527.0 64.7,528.2 67.7,529.6 70.7,531.3 73.7,533.2 76.7,535.6 79.7,538.4 82.7,541.6 85.7,545.3 88.7,549.4 91.7,553.9 94.7,558.8 97.7,564.1 100.7,569.6 103.7,575.2 106.7,580.8 109.7,586.4 112.7,591.8 115.7,597.0 118.7,601.8 121.7,606.4 124.7,610.6 127.7,614.4 130.7,617.8 133.7,621.0 136.7,623.7 139.7,626.2 142.7,628.5 145.7,630.4 148.7,632.2 151.7,633.7 154.7,635.0 157.7,636.2 160.7,637.3 163.7,638.2 166.7,639.0 169.7,639.7 172.7,640.3 175.7,640.9 178.7,641.4 181.7,641.8 184.7,642.2 187.7,642.5 190.7,642.8 193.7,643.0 196.7,643.2 199.7,643.4 202.7,643.6 205.7,643.7 208.7,643.9 211.7,644.0 214.7,644.1 217.7,644.1 220.7,644.2 223.7,644.3 226.7,644.3 229.7,644.4 260.0,644.7 397.0,644.7 591.4,587.7 597.9,654.6" fill="none" stroke="#0000ff" stroke-width="4.0" stroke-opacity="0.100" stroke-linejoin="round" /><polyline points="61.7,527.0 64.7,528.2 67.7,529.6 70.7,531.3 73.7,533.2 76.7,535.6 79.7,538.4 82.7,541.6 85.7,545.3 88.7,549.4 91.7,553.9 94.7,558.8 97.7,564.1 100.7,569.6 103.7,575.2 106.7,580.8 109.7,586.4 112.7,591.8 115.7,597.0 118.7,601.8 121.7,606.4 124.7,610.6 127.7,614.4 130.7,617.8 133.7,621.0 136.7,623.7 139.7,626.2 142.7,628.5 145.7,630.4 148.7,632.2 151.7,633.7 154.7,635.0 157.7,636.2 160.7,637.3 163.7,638.2 166.7,639.0 169.7,639.7 172.7,640.3 175.7,640.9 178.7,641.4 181.7,641.8 184.7,642.2 187.7,642.5 190.7,642.8 193.7,643.0 196.7,643.2 199.7,643.4 202.7,643.6 205.7,643.7 208.7,643.9 211.7,644.0 214.7,644.1 217.7,644.1 220.7,644.2 223.7,644.3 226.7,644.3 229.7,644.4 260.0,644.7 397.0,644.7 591.4,584.4 597.9,654.6" fill="none" stroke="#0000ff" stroke-width="4.0" stroke-opacity="0.100" stroke-linejoin="round" /><polyline points="61.7,527.0 64.7,528.2 67.7,529.6 70.7,531.3 73.7,533.2 76.7,535.6 79.7,538.4 82.7,541.6 85.7,545.3 88.7,549.4 91.7,553.9 94.7,558.8 97.7,564.1 100.7,569.6 103.7,575.2 106.7,580.8 109.7,586.4 112.7,591.8 115.7,597.0 118.7,601.8 121.7,606.4 124.7,610.6 127.7,614.4 130.7,617.8 133.7,621.0 136.7,623.7 139.7,626.2 142.7,628.5 145.7,630.4 148.7,632.2 151.7,633.7 154.7,635.0 157.7,636.2 160.7,637.3 163.7,638.2 166.7,639.0 169.7,639.7 172.7,640.3 175.7,640.9 178.7,641.4 181.7,641.8 184.7,642.2 187.7,642.5 190.7,642.8 193.7,643.0 196.7,643.2 199.7,643.4 202.7,643.6 205.7,643.7 208.7,643.9 211.7,644.0 214.7,644.1 217.7,644.1 220.7,644.2 223.7,644.3 226.7,644.3 229.7,644.4 260.0,644.7 397.0,644.7 591.4,577.7 597.9,654.6" fill="none" stroke="#0000ff" stroke-width="4.0" stroke-opacity="0.100" stroke-linejoin="round" /><polyline points="61.7,527.0 64.7,528.2 67.7,529.6 70.7,531.3 73.7,533.2 76.7,535.6 79.7,538.4 82.7,541.6 85.7,545.3 88.7,549.4 91.7,553.9 94.7,558.8 97.7,564.1 100.7,569.6 103.7,575.2 106.7,580.8 109.7,586.4 112.7,591.8 115.7,597.0 118.7,601.8 121.7,606.4 124.7,610.6 127.7,614.4 130.7,617.8 133.7,621.0 136.7,623.7 139.7,626.2 142.7,628.5 145.7,630.4 148.7,632.2 151.7,633.7 154.7,635.0 157.7,636.2 160.7,637.3 163.7,638.2 166.7,639.0 169.7,639.7 172.7,640.3 175.7,640.9 178.7,641.4 181.7,641.8 184.7,642.2 187.7,642.5 190.7,642.8 193.7,643.0 196.7,643.2 199.7,643.4 202.7,643.6 205.7,643.7 208.7,643.9 211.7,644.0 214.7,644.1 217.7,644.1 220.7,644.2 223.7,644.3 226.7,644.3 229.7,644.4 260.0,644.7 397.0,644.7 591.4,571.7 597.9,654.6" fill="none" stroke="#0000ff" stroke-width="4.0" stroke-opacity="0.100" stroke-linejoin="round" /><polyline points="61.7,527.0 64.7,528.2 67.7,529.6 70.7,531.3 73.7,533.2 76.7,535.6 79.7,538.4 82.7,541.6 85.7,545.3 88.7,549.4 91.7,553.9 94.7,558.8 97.7,564.1 100.7,569.6 103.7,575.2 106.7,580.8 109.7,586.4 112.7,591.8 115.7,597.0 118.7,601.8 121.7,606.4 124.7,610.6 127.7,614.4 130.7,617.8 133.7,621.0 136.7,623.7 139.7,626.2 142.7,628.5 145.7,630.4 148.7,632.2 151.7,633.7 154.7,635.0 157.7,636.2 160.7,637.3 163.7,638.2 166.7,639.0 169.7,639.7 172.7,640.3 175.7,640.9 178.7,641.4 181.7,641.8 184.7,642.2 187.7,642.5 190.7,642.8 193.7,643.0 196.7,643.2 199.7,643.4 202.7,643.6 205.7,643.7 208.7,643.9 211.7,644.0 214.7,644.1 217.7,644.1 220.7,644.2 223.7,644.3 226.7,644.3 229.7,644.4 260.0,644.7 397.0,644.7 591.4,567.0 597.9,654.6" fill="none" stroke="#0000ff" stroke-width="4.0" stroke-opacity="0.100" stroke-linejoin="round" /><polyline points="61.7,527.0 64.7,528.2 67.7,529.6 70.7,531.3 73.7,533.2 76.7,535.6 79.7,538.4 82.7,541.6 85.7,545.3 88.7,549.4 91.7,553.9 94.7,558.8 97.7,564.1 100.7,569.6 103.7,575.2 106.7,580.8 109.7,586.4 112.7,591.8 115.7,597.0 118.7,601.8 121.7,606.4 124.7,610.6 127.7,614.4 130.7,617.8 133.7,621.0 136.7,623.7 139.7,626.2 142.7,628.5 145.7,630.4 148.7,632.2 151.7,633.7 154.7,635.0 157.7,636.2 160.7,637.3 163.7,638.2 166.7,639.0 169.7,639.7 172.7,640.3 175.7,640.9 178.7,641.4 181.7,641.8 184.7,642.2 187.7,642.5 190.7,642.8 193.7,643.0 196.7,643.2 199.7,643.4 202.7,643.6 205.7,643.7 208.7,643.9 211.7,644.0 214.7,644.1 217.7,644.1 220.7,644.2 223.7,644.3 226.7,644.3 229.7,644.4 260.0,644.7 397.0,644.7 591.4,561.7 597.9,654.6" fill="none" stroke="#0000ff" stroke-width="4.0" stroke-opacity="0.100" stroke-linejoin="round" /><polyline points="61.7,527.0 64.7,528.2 67.7,529.6 70.7,531.3 73.7,533.2 76.7,535.6 79.7,538.4 82.7,541.6 85.7,545.3 88.7,549.4 91.7,553.9 94.7,558.8 97.7,564.1 100.7,569.6 103.7,575.2 106.7,580.8 109.7,586.4 112.7,591.8 115.7,597.0 118.7,601.8 121.7,606.4 124.7,610.6 127.7,614.4 130.7,617.8 133.7,621.0 136.7,623.7 139.7,626.2 142.7,628.5 145.7,630.4 148.7,632.2 151.7,633.7 154.7,635.0 157.7,636.2 160.7,637.3 163.7,638.2 166.7,639.0 169.7,639.7 172.7,640.3 175.7,640.9 178.7,641.4 181.7,641.8 184.7,642.2 187.7,642.5 190.7,642.8 193.7,643.0 196.7,643.2 199.7,643.4 202.7,643.6 205.7,643.7 208.7,643.9 211.7,644.0 214.7,644.1 217.7,644.1 220.7,644.2 223.7,644.3 226.7,644.3 229.7,644.4 260.0,644.7 397.0,644.7 591.4,557.7 597.9,654.6" fill="none" stroke="#0000ff" stroke-width="4.0" stroke-opacity="0.100" stroke-linejoin="round" /><polyline points="61.7,527.0 64.7,528.2 67.7,529.6 70.7,531.3 73.7,533.2 76.7,535.6 79.7,538.4 82.7,541.6 85.7,545.3 88.7,549.4 91.7,553.9 94.7,558.8 97.7,564.1 100.7,569.6 103.7,575.2 106.7,580.8 109.7,586.4 112.7,591.8 115.7,597.0 118.7,601.8 121.7,606.4 124.7,610.6 127.7,614.4 130.7,617.8 133.7,621.0 136.7,623.7 139.7,626.2 142.7,628.5 145.7,630.4 148.7,632.2 151.7,633.7 154.7,635.0 157.7,636.2 160.7,637.3 163.7,638.2 166.7,639.0 169.7,639.7 172.7,640.3 175.7,640.9 178.7,641.4 181.7,641.8 184.7,642.2 187.7,642.5 190.7,642.8 193.7,643.0 196.7,643.2 199.7,643.4 202.7,643.6 205.7,643.7 208.7,643.9 211.7,644.0 214.7,644.1 217.7,644.1 220.7,644.2 223.7,644.3 226.7,644.3 229.7,644.4 260.0,644.7 397.0,644.7 591.4,551.3 597.9,654.6" fill="none" stroke="#0000ff" stroke-width="4.0" stroke-opacity="0.100" stroke-linejoin="round" /><polyline points="61.7,527.0 64.7,528.2 67.7,529.6 70.7,531.3 73.7,533.2 76.7,535.6 79.7,538.4 82.7,541.6 85.7,545.3 88.7,549.4 91.7,553.9 94.7,558.8 97.7,564.1 100.7,569.6 103.7,575.2 106.7,580.8 109.7,586.4 112.7,591.8 115.7,597.0 118.7,601.8 121.7,606.4 124.7,610.6 127.7,614.4 130.7,617.8 133.7,621.0 136.7,623.7 139.7,626.2 142.7,628.5 145.7,630.4 148.7,632.2 151.7,633.7 154.7,635.0 157.7,636.2 160.7,637.3 163.7,638.2 166.7,639.0 169.7,639.7 172.7,640.3 175.7,640.9 178.7,641.4 181.7,641.8 184.7,642.2 187.7,642.5 190.7,642.8 193.7,643.0 196.7,643.2 199.7,643.4 202.7,643.6 205.7,643.7 208.7,643.9 211.7,644.0 214.7,644.1 217.7,644.1 220.7,644.2 223.7,644.3 226.7,644.3 229.7,644.4 260.0,644.7 397.0,644.7 591.4,549.0 597.9,654.6" fill="none" stroke="#0000ff" stroke-width="4.0" stroke-opacity="0.100" stroke-linejoin="round" /><polyline points="61.7,527.0 64.7,528.2 67.7,529.6 70.7,531.3 73.7,533.2 76.7,535.6 79.7,538.4 82.7,541.6 85.7,545.3 88.7,549.4 91.7,553.9 94.7,558.8 97.7,564.1 100.7,569.6 103.7,575.2 106.7,580.8 109.7,586.4 112.7,591.8 115.7,597.0 118.7,601.8 121.7,606.4 124.7,610.6 127.7,614.4 130.7,617.8 133.7,621.0 136.7,623.7 139.7,626.2 142.7,628.5 145.7,630.4 148.7,632.2 151.7,633.7 154.7,635.0 157.7,636.2 160.7,637.3 163.7,638.2 166.7,639.0 169.7,639.7 172.7,640.3 175.7,640.9 178.7,641.4 181.7,641.8 184.7,642.2 187.7,642.5 190.7,642.8 193.7,643.0 196.7,643.2 199.7,643.4 202.7,643.6 205.7,643.7 208.7,643.9 211.7,644.0 214.7,644.1 217.7,644.1 220.7,644.2 223.7,644.3 226.7,644.3 229.7,644.4 260.0,644.7 397.0,644.7 591.4,541.2 597.9,654.6" fill="none" stroke="#0000ff" stroke-width="4.0" stroke-opacity="0.100" stroke-linejoin="round" /><polyline points="61.7,527.0 64.7,528.2 67.7,529.6 70.7,531.3 73.7,533.2 76.7,535.6 79.7,538.4 82.7,541.6 85.7,545.3 88.7,549.4 91.7,553.9 94.7,558.8 97.7,564.1 100.7,569.6 103.7,575.2 106.7,580.8 109.7,586.4 112.7,591.8 115.7,597.0 118.7,601.8 121.7,606.4 124.7,610.6 127.7,614.4 130.7,617.8 133.7,621.0 136.7,623.7 139.7,626.2 142.7,628.5 145.7,630.4 148.7,632.2 151.7,633.7 154.7,635.0 157.7,636.2 160.7,637.3 163.7,638.2 166.7,639.0 169.7,639.7 172.7,640.3 175.7,640.9 178.7,641.4 181.7,641.8 184.7,642.2 187.7,642.5 190.7,642.8 193.7,643.0 196.7,643.2 199.7,643.4 202.7,643.6 205.7,643.7 208.7,643.9 211.7,644.0 214.7,644.1 217.7,644.1 220.7,644.2 223.7,644.3 226.7,644.3 229.7,644.4 260.0,644.7 397.0,644.7 591.4,538.0 597.9,654.6" fill="none" stroke="#0000ff" stroke-width="4.0" stroke-opacity="0.100" stroke-linejoin="round" /><polyline points="61.7,527.0 64.7,528.2 67.7,529.6 70.7,531.3 73.7,533.2 76.7,535.6 79.7,538.4 82.7,541.6 85.7,545.3 88.7,549.4 91.7,553.9 94.7,558.8 97.7,564.1 100.7,569.6 103.7,575.2 106.7,580.8 109.7,586.4 112.7,591.8 115.7,597.0 118.7,601.8 121.7,606.4 124.7,610.6 127.7,614.4 130.7,617.8 133.7,621.0 136.7,623.7 139.7,626.2 142.7,628.5 145.7,630.4 148.7,632.2 151.7,633.7 154.7,635.0 157.7,636.2 160.7,637.3 163.7,638.2 166.7,639.0 169.7,639.7 172.7,640.3 175.7,640.9 178.7,641.4 181.7,641.8 184.7,642.2 187.7,642.5 190.7,642.8 193.7,643.0 196.7,643.2 199.7,643.4 202.7,643.6 205.7,643.7 208.7,643.9 211.7,644.0 214.7,644.1 217.7,644.1 220.7,644.2 223.7,644.3 226.7,644.3 229.7,644.4 260.0,644.7 397.0,644.7 591.4,533.9 597.9,654.6" fill="none" stroke="#0000ff" stroke-width="4.0" stroke-opacity="0.100" stroke-linejoin="round" /><polyline points="61.7,527.0 64.7,528.2 67.7,529.6 70.7,531.3 73.7,533.2 76.7,535.6 79.7,538.4 82.7,541.6 85.7,545.3 88.7,549.4 91.7,553.9 94.7,558.8 97.7,564.1 100.7,569.6 103.7,575.2 106.7,580.8 109.7,586.4 112.7,591.8 115.7,597.0 118.7,601.8 121.7,606.4 124.7,610.6 127.7,614.4 130.7,617.8 133.7,621.0 136.7,623.7 139.7,626.2 142.7,628.5 145.7,630.4 148.7,632.2 151.7,633.7 154.7,635.0 157.7,636.2 160.7,637.3 163.7,638.2 166.7,639.0 169.7,639.7 172.7,640.3 175.7,640.9 178.7,641.4 181.7,641.8 184.7,642.2 187.7,642.5 190.7,642.8 193.7,643.0 196.7,643.2 199.7,643.4 202.7,643.6 205.7,643.7 208.7,643.9 211.7,644.0 214.7,644.1 217.7,644.1 220.7,644.2 223.7,644.3 226.7,644.3 229.7,644.4 260.0,644.7 397.0,644.7 591.4,527.0 597.9,654.6" fill="none" stroke="#0000ff" stroke-width="4.0" stroke-opacity="0.100" stroke-linejoin="round" /><polyline points="61.7,527.0 64.7,528.2 67.7,529.6 70.7,531.3 73.7,533.2 76.7,535.6 79.7,538.4 82.7,541.6 85.7,545.3 88.7,549.4 91.7,553.9 94.7,558.8 97.7,564.1 100.7,569.6 103.7,575.2 106.7,580.8 109.7,586.4 112.7,591.8 115.7,597.0 118.7,601.8 121.7,606.4 124.7,610.6 127.7,614.4 130.7,617.8 133.7,621.0 136.7,623.7 139.7,626.2 142.7,628.5 145.7,630.4 148.7,632.2 151.7,633.7 154.7,635.0 157.7,636.2 160.7,637.3 163.7,638.2 166.7,639.0 169.7,639.7 172.7,640.3 175.7,640.9 178.7,641.4 181.7,641.8 184.7,642.2 187.7,642.5 190.7,642.8 193.7,643.0 196.7,643.2 199.7,643.4 202.7,643.6 205.7,643.7 208.7,643.9 211.7,644.0 214.7,644.1 217.7,644.1 220.7,644.2 223.7,644.3 226.7,644.3 229.7,644.4 260.0,644.7 397.0,644.7 591.4,522.6 597.9,654.6" fill="none" stroke="#0000ff" stroke-width="4.0" stroke-opacity="0.100" stroke-linejoin="round" /><polyline points="61.7,527.0 64.7,528.2 67.7,529.6 70.7,531.3 73.7,533.2 76.7,535.6 79.7,538.4 82.7,541.6 85.7,545.3 88.7,549.4 91.7,553.9 94.7,558.8 97.7,564.1 100.7,569.6 103.7,575.2 106.7,580.8 109.7,586.4 112.7,591.8 115.7,597.0 118.7,601.8 121.7,606.4 124.7,610.6 127.7,614.4 130.7,617.8 133.7,621.0 136.7,623.7 139.7,626.2 142.7,628.5 145.7,630.4 148.7,632.2 151.7,633.7 154.7,635.0 157.7,636.2 160.7,637.3 163.7,638.2 166.7,639.0 169.7,639.7 172.7,640.3 175.7,640.9 178.7,641.4 181.7,641.8 184.7,642.2 187.7,642.5 190.7,642.8 193.7,643.0 196.7,643.2 199.7,643.4 202.7,643.6 205.7,643.7 208.7,643.9 211.7,644.0 214.7,644.1 217.7,644.1 220.7,644.2 223.7,644.3 226.7,644.3 229.7,644.4 260.0,644.7 397.0,644.7 591.4,517.6 597.9,654.6" fill="none" stroke="#0000ff" stroke-width="4.0" stroke-opacity="0.100" stroke-linejoin="round" /><polyline points="61.7,527.0 64.7,528.2 67.7,529.6 70.7,531.3 73.7,533.2 76.7,535.6 79.7,538.4 82.7,541.6 85.7,545.3 88.7,549.4 91.7,553.9 94.7,558.8 97.7,564.1 100.7,569.6 103.7,575.2 106.7,580.8 109.7,586.4 112.7,591.8 115.7,597.0 118.7,601.8 121.7,606.4 124.7,610.6 127.7,614.4 130.7,617.8 133.7,621.0 136.7,623.7 139.7,626.2 142.7,628.5 145.7,630.4 148.7,632.2 151.7,633.7 154.7,635.0 157.7,636.2 160.7,637.3 163.7,638.2 166.7,639.0 169.7,639.7 172.7,640.3 175.7,640.9 178.7,641.4 181.7,641.8 184.7,642.2 187.7,642.5 190.7,642.8 193.7,643.0 196.7,643.2 199.7,643.4 202.7,643.6 205.7,643.7 208.7,643.9 211.7,644.0 214.7,644.1 217.7,644.1 220.7,644.2 223.7,644.3 226.7,644.3 229.7,644.4 260.0,644.7 397.0,644.7 591.4,511.1 597.9,654.6" fill="none" stroke="#0000ff" stroke-width="4.0" stroke-opacity="0.100" stroke-linejoin="round" /></g>
<polyline points="61.7,526.9 64.7,528.0 67.7,529.3 70.7,531.0 73.7,532.9 76.7,535.2 79.7,537.9 82.7,541.0 85.7,544.5 88.7,548.5 91.7,552.9 94.7,557.7 97.7,562.7 100.7,568.1 103.7,573.5 106.7,578.9 109.7,584.3 112.7,589.6 115.7,594.6 118.7,599.3 121.7,603.7 124.7,607.7 127.7,611.4 130.7,614.7 133.7,617.8 136.7,620.5 139.7,622.9 142.7,625.0 145.7,626.9 148.7,628.6 151.7,630.1 154.7,631.4 157.7,632.6 160.7,633.6 163.7,634.5 166.7,635.3 169.7,635.9 172.7,636.5 175.7,637.1 178.7,637.5 181.7,637.9 184.7,638.3 187.7,638.6 190.7,638.9 193.7,639.1 196.7,639.3 199.7,639.5 202.7,639.7 205.7,639.8 208.7,639.9 211.7,640.0 214.7,640.1 217.7,640.2 220.7,640.3 223.7,640.4 226.7,640.4 229.7,640.5 260.0,640.7 397.0,640.8 591.5,592.3 597.6,654.6" fill="none" stroke="#000" stroke-width="5.8" stroke-linejoin="round" />
<path d="M61.70,509.90 V654.60 H620.20" fill="none" stroke="#111" stroke-width="1.7" stroke-linecap="square"/>
<line x1="61.70" y1="615.20" x2="68.00" y2="615.20" stroke="#111" stroke-width="1.7"/>
<line x1="61.70" y1="575.80" x2="68.00" y2="575.80" stroke="#111" stroke-width="1.7"/>
<line x1="61.70" y1="536.40" x2="68.00" y2="536.40" stroke="#111" stroke-width="1.7"/>
<text x="55.2" y="662.80" text-anchor="end" font-size="20.4" font-family="Liberation Sans, sans-serif">0</text>
<text x="55.2" y="623.40" text-anchor="end" font-size="20.4" font-family="Liberation Sans, sans-serif">20</text>
<text x="55.2" y="584.00" text-anchor="end" font-size="20.4" font-family="Liberation Sans, sans-serif">40</text>
<text x="55.2" y="544.60" text-anchor="end" font-size="20.4" font-family="Liberation Sans, sans-serif">60</text>
<line x1="151.05" y1="654.60" x2="151.05" y2="648.30" stroke="#111" stroke-width="1.7"/>
<line x1="240.40" y1="654.60" x2="240.40" y2="648.30" stroke="#111" stroke-width="1.7"/>
<line x1="329.75" y1="654.60" x2="329.75" y2="648.30" stroke="#111" stroke-width="1.7"/>
<line x1="419.10" y1="654.60" x2="419.10" y2="648.30" stroke="#111" stroke-width="1.7"/>
<line x1="508.45" y1="654.60" x2="508.45" y2="648.30" stroke="#111" stroke-width="1.7"/>
<line x1="597.80" y1="654.60" x2="597.80" y2="648.30" stroke="#111" stroke-width="1.7"/>
<text transform="translate(15.0,583.1) rotate(-90)" text-anchor="middle" font-size="20.0" font-family="Liberation Sans, sans-serif">Ice thickness (m)</text>
<g><polyline points="61.7,846.1 65.7,846.1 69.7,846.1 73.7,846.1 77.7,846.1 81.7,846.1 85.7,846.1 89.7,846.1 93.7,846.1 97.7,845.9 101.7,845.8 105.7,845.5 109.7,845.3 113.7,845.0 117.7,844.7 121.7,844.4 125.7,844.0 129.7,843.6 133.7,843.1 137.7,842.6 141.7,842.1 145.7,841.5 149.7,840.9 153.7,840.3 157.7,839.8 161.7,839.3 165.7,838.7 169.7,838.2 173.7,837.8 177.7,837.3 181.7,836.9 185.7,836.6 189.7,836.2 193.7,835.8 197.7,835.4 201.7,835.0 205.7,834.6 209.7,834.3 213.7,833.9 217.7,833.5 221.7,833.1 225.7,832.4 229.7,831.8 233.7,831.1 237.7,830.6 241.7,830.0 245.7,829.5 249.7,828.9 253.7,828.3 257.7,827.6 261.7,826.9 265.7,826.1 269.7,825.4 273.7,824.6 277.7,823.9 281.7,823.2 285.7,822.5 289.7,821.8 293.7,821.1 297.7,820.5 301.7,819.8 305.7,819.2 309.7,818.6 313.7,818.1 317.7,817.6 321.7,817.1 325.7,816.6 329.7,816.1 333.7,815.7 337.7,815.2 341.7,814.7 345.7,814.2 349.7,813.7 353.7,813.3 357.7,812.8 361.7,812.4 365.7,811.9 369.7,811.4 373.7,810.9 377.7,810.3 381.7,809.8 385.7,809.2 389.7,808.6 393.7,808.0 397.7,807.5 401.7,807.0 405.7,806.6 409.7,806.3 413.7,806.0 417.7,805.8 421.7,805.6 425.7,805.5 429.7,805.4 433.7,805.3 437.7,805.3 441.7,805.3 445.7,805.2 449.7,805.2 453.7,805.2 457.7,805.2 461.7,805.3 465.7,805.3 469.7,805.3 473.7,805.4 477.7,805.4 481.7,805.5 485.7,805.6 489.7,805.7 493.7,805.8 497.7,805.9 501.7,806.0 505.7,806.1 509.7,806.2 513.7,806.3 517.7,806.3 521.7,806.4 525.7,806.4 529.7,806.5 533.7,806.5 537.7,806.6 541.7,806.7 545.7,806.7 549.7,806.8 553.7,806.8 557.7,806.9 561.7,806.9 565.7,807.0 569.7,807.0 573.7,807.0 577.7,807.0 581.7,806.9 585.7,806.9 589.7,806.9 593.7,807.0 597.8,807.1" fill="none" stroke="#ff0000" stroke-width="3.8" stroke-opacity="0.260" stroke-linejoin="round" /><polyline points="61.7,846.1 65.7,846.1 69.7,846.1 73.7,846.1 77.7,846.1 81.7,846.1 85.7,846.1 89.7,846.1 93.7,846.1 97.7,845.9 101.7,845.8 105.7,845.5 109.7,845.3 113.7,845.0 117.7,844.7 121.7,844.4 125.7,844.0 129.7,843.6 133.7,843.1 137.7,842.6 141.7,842.1 145.7,841.5 149.7,840.9 153.7,840.3 157.7,839.8 161.7,839.3 165.7,838.7 169.7,838.2 173.7,837.7 177.7,837.3 181.7,836.9 185.7,836.5 189.7,836.2 193.7,835.8 197.7,835.4 201.7,835.0 205.7,834.6 209.7,834.2 213.7,833.9 217.7,833.5 221.7,833.1 225.7,832.4 229.7,831.8 233.7,831.1 237.7,830.6 241.7,830.0 245.7,829.5 249.7,828.9 253.7,828.3 257.7,827.6 261.7,826.9 265.7,826.2 269.7,825.4 273.7,824.7 277.7,824.0 281.7,823.3 285.7,822.7 289.7,822.0 293.7,821.3 297.7,820.6 301.7,820.0 305.7,819.4 309.7,818.8 313.7,818.3 317.7,817.8 321.7,817.3 325.7,816.8 329.7,816.3 333.7,815.9 337.7,815.4 341.7,814.9 345.7,814.4 349.7,813.9 353.7,813.5 357.7,813.0 361.7,812.6 365.7,812.1 369.7,811.6 373.7,811.1 377.7,810.5 381.7,810.0 385.7,809.4 389.7,808.8 393.7,808.2 397.7,807.7 401.7,807.2 405.7,806.8 409.7,806.5 413.7,806.2 417.7,806.0 421.7,805.8 425.7,805.7 429.7,805.6 433.7,805.5 437.7,805.5 441.7,805.4 445.7,805.4 449.7,805.4 453.7,805.4 457.7,805.4 461.7,805.4 465.7,805.5 469.7,805.5 473.7,805.6 477.7,805.6 481.7,805.7 485.7,805.7 489.7,805.8 493.7,805.9 497.7,806.1 501.7,806.2 505.7,806.3 509.7,806.3 513.7,806.4 517.7,806.5 521.7,806.5 525.7,806.6 529.7,806.6 533.7,806.7 537.7,806.7 541.7,806.8 545.7,806.8 549.7,806.9 553.7,806.9 557.7,807.0 561.7,807.0 565.7,807.1 569.7,807.1 573.7,807.1 577.7,807.0 581.7,807.0 585.7,807.0 589.7,807.0 593.7,807.0 597.8,807.2" fill="none" stroke="#ff0000" stroke-width="3.8" stroke-opacity="0.260" stroke-linejoin="round" /><polyline points="61.7,846.1 65.7,846.1 69.7,846.1 73.7,846.1 77.7,846.1 81.7,846.1 85.7,846.1 89.7,846.1 93.7,846.1 97.7,845.9 101.7,845.8 105.7,845.5 109.7,845.3 113.7,845.0 117.7,844.7 121.7,844.4 125.7,844.0 129.7,843.6 133.7,843.1 137.7,842.6 141.7,842.1 145.7,841.5 149.7,840.9 153.7,840.3 157.7,839.8 161.7,839.3 165.7,838.7 169.7,838.2 173.7,837.8 177.7,837.3 181.7,836.9 185.7,836.6 189.7,836.2 193.7,835.8 197.7,835.4 201.7,835.0 205.7,834.6 209.7,834.3 213.7,833.9 217.7,833.5 221.7,833.1 225.7,832.4 229.7,831.8 233.7,831.1 237.7,830.6 241.7,830.0 245.7,829.5 249.7,828.9 253.7,828.3 257.7,827.6 261.7,826.9 265.7,826.1 269.7,825.4 273.7,824.7 277.7,823.9 281.7,823.2 285.7,822.6 289.7,821.9 293.7,821.2 297.7,820.5 301.7,819.8 305.7,819.2 309.7,818.7 313.7,818.1 317.7,817.6 321.7,817.1 325.7,816.7 329.7,816.2 333.7,815.7 337.7,815.2 341.7,814.7 345.7,814.2 349.7,813.8 353.7,813.3 357.7,812.9 361.7,812.4 365.7,811.9 369.7,811.4 373.7,810.9 377.7,810.4 381.7,809.8 385.7,809.2 389.7,808.7 393.7,808.1 397.7,807.5 401.7,807.1 405.7,806.7 409.7,806.3 413.7,806.1 417.7,805.8 421.7,805.6 425.7,805.5 429.7,805.4 433.7,805.4 437.7,805.3 441.7,805.3 445.7,805.3 449.7,805.3 453.7,805.3 457.7,805.3 461.7,805.3 465.7,805.3 469.7,805.4 473.7,805.4 477.7,805.5 481.7,805.5 485.7,805.6 489.7,805.7 493.7,805.8 497.7,805.9 501.7,806.1 505.7,806.2 509.7,806.2 513.7,806.3 517.7,806.4 521.7,806.4 525.7,806.5 529.7,806.5 533.7,806.6 537.7,806.6 541.7,806.7 545.7,806.7 549.7,806.8 553.7,806.9 557.7,806.9 561.7,807.0 565.7,807.0 569.7,807.0 573.7,807.0 577.7,807.0 581.7,807.0 585.7,806.9 589.7,807.0 593.7,807.0 597.8,807.1" fill="none" stroke="#ff0000" stroke-width="3.8" stroke-opacity="0.260" stroke-linejoin="round" /><polyline points="61.7,846.1 65.7,846.1 69.7,846.1 73.7,846.1 77.7,846.1 81.7,846.1 85.7,846.1 89.7,846.1 93.7,846.1 97.7,845.9 101.7,845.8 105.7,845.5 109.7,845.3 113.7,845.0 117.7,844.7 121.7,844.4 125.7,844.0 129.7,843.6 133.7,843.1 137.7,842.6 141.7,842.1 145.7,841.5 149.7,840.9 153.7,840.2 157.7,839.6 161.7,838.9 165.7,838.3 169.7,837.8 173.7,837.2 177.7,836.7 181.7,836.3 185.7,835.9 189.7,835.6 193.7,835.2 197.7,834.9 201.7,834.5 205.7,834.2 209.7,833.8 213.7,833.5 217.7,833.3 221.7,832.9 225.7,832.3 229.7,831.8 233.7,831.2 237.7,830.7 241.7,830.3 245.7,829.9 249.7,829.5 253.7,829.0 257.7,828.5 261.7,828.0 265.7,827.5 269.7,827.1 273.7,826.7 277.7,826.4 281.7,826.0 285.7,825.7 289.7,825.4 293.7,825.0 297.7,824.6 301.7,824.1 305.7,823.6 309.7,823.1 313.7,822.6 317.7,822.2 321.7,821.7 325.7,821.2 329.7,820.8 333.7,820.3 337.7,819.9 341.7,819.4 345.7,819.0 349.7,818.6 353.7,818.2 357.7,817.8 361.7,817.3 365.7,816.9 369.7,816.4 373.7,815.9 377.7,815.4 381.7,814.8 385.7,814.3 389.7,813.7 393.7,813.1 397.7,812.5 401.7,812.0 405.7,811.5 409.7,811.1 413.7,810.8 417.7,810.5 421.7,810.3 425.7,810.1 429.7,810.0 433.7,809.9 437.7,809.8 441.7,809.7 445.7,809.7 449.7,809.6 453.7,809.5 457.7,809.5 461.7,809.5 465.7,809.4 469.7,809.4 473.7,809.4 477.7,809.4 481.7,809.4 485.7,809.4 489.7,809.4 493.7,809.4 497.7,809.4 501.7,809.5 505.7,809.5 509.7,809.5 513.7,809.6 517.7,809.6 521.7,809.6 525.7,809.6 529.7,809.6 533.7,809.6 537.7,809.6 541.7,809.5 545.7,809.5 549.7,809.5 553.7,809.4 557.7,809.4 561.7,809.3 565.7,809.2 569.7,809.1 573.7,808.9 577.7,808.8 581.7,808.6 585.7,808.5 589.7,808.4 593.7,808.3 597.8,808.3" fill="none" stroke="#ff0000" stroke-width="3.8" stroke-opacity="0.260" stroke-linejoin="round" /><polyline points="61.7,846.1 65.7,846.1 69.7,846.1 73.7,846.1 77.7,846.1 81.7,846.1 85.7,846.1 89.7,846.1 93.7,846.1 97.7,845.9 101.7,845.8 105.7,845.5 109.7,845.3 113.7,845.0 117.7,844.7 121.7,844.4 125.7,844.0 129.7,843.6 133.7,843.1 137.7,842.6 141.7,842.1 145.7,841.5 149.7,840.9 153.7,840.2 157.7,839.6 161.7,838.9 165.7,838.3 169.7,837.7 173.7,837.2 177.7,836.7 181.7,836.3 185.7,835.9 189.7,835.6 193.7,835.2 197.7,834.9 201.7,834.5 205.7,834.1 209.7,833.8 213.7,833.5 217.7,833.3 221.7,832.9 225.7,832.3 229.7,831.8 233.7,831.2 237.7,830.8 241.7,830.3 245.7,830.0 249.7,829.5 253.7,829.1 257.7,828.6 261.7,828.1 265.7,827.6 269.7,827.2 273.7,826.8 277.7,826.5 281.7,826.2 285.7,825.8 289.7,825.5 293.7,825.1 297.7,824.7 301.7,824.2 305.7,823.8 309.7,823.3 313.7,822.8 317.7,822.3 321.7,821.9 325.7,821.4 329.7,821.0 333.7,820.5 337.7,820.1 341.7,819.6 345.7,819.2 349.7,818.8 353.7,818.4 357.7,818.0 361.7,817.5 365.7,817.1 369.7,816.6 373.7,816.1 377.7,815.6 381.7,815.0 385.7,814.5 389.7,813.9 393.7,813.3 397.7,812.7 401.7,812.2 405.7,811.7 409.7,811.3 413.7,811.0 417.7,810.7 421.7,810.5 425.7,810.3 429.7,810.2 433.7,810.1 437.7,810.0 441.7,809.9 445.7,809.8 449.7,809.8 453.7,809.7 457.7,809.7 461.7,809.6 465.7,809.6 469.7,809.6 473.7,809.6 477.7,809.5 481.7,809.5 485.7,809.5 489.7,809.5 493.7,809.6 497.7,809.6 501.7,809.6 505.7,809.7 509.7,809.7 513.7,809.7 517.7,809.7 521.7,809.7 525.7,809.7 529.7,809.7 533.7,809.7 537.7,809.7 541.7,809.7 545.7,809.6 549.7,809.6 553.7,809.5 557.7,809.5 561.7,809.4 565.7,809.3 569.7,809.2 573.7,809.0 577.7,808.9 581.7,808.7 585.7,808.6 589.7,808.4 593.7,808.3 597.8,808.3" fill="none" stroke="#ff0000" stroke-width="3.8" stroke-opacity="0.260" stroke-linejoin="round" /><polyline points="61.7,846.1 65.7,846.1 69.7,846.1 73.7,846.1 77.7,846.1 81.7,846.1 85.7,846.1 89.7,846.1 93.7,846.1 97.7,845.9 101.7,845.8 105.7,845.5 109.7,845.3 113.7,845.0 117.7,844.7 121.7,844.4 125.7,844.0 129.7,843.6 133.7,843.1 137.7,842.6 141.7,842.1 145.7,841.5 149.7,840.9 153.7,840.1 157.7,839.4 161.7,838.6 165.7,837.9 169.7,837.3 173.7,836.7 177.7,836.2 181.7,835.7 185.7,835.3 189.7,835.0 193.7,834.7 197.7,834.3 201.7,834.0 205.7,833.7 209.7,833.4 213.7,833.2 217.7,833.0 221.7,832.7 225.7,832.2 229.7,831.7 233.7,831.3 237.7,830.9 241.7,830.6 245.7,830.4 249.7,830.1 253.7,829.8 257.7,829.5 261.7,829.1 265.7,828.9 269.7,828.8 273.7,828.8 277.7,828.8 281.7,828.9 285.7,828.9 289.7,828.9 293.7,828.8 297.7,828.6 301.7,828.3 305.7,827.9 309.7,827.6 313.7,827.1 317.7,826.7 321.7,826.3 325.7,825.8 329.7,825.4 333.7,825.0 337.7,824.5 341.7,824.1 345.7,823.8 349.7,823.4 353.7,823.0 357.7,822.7 361.7,822.3 365.7,821.9 369.7,821.5 373.7,821.0 377.7,820.5 381.7,819.9 385.7,819.3 389.7,818.7 393.7,818.1 397.7,817.4 401.7,816.9 405.7,816.4 409.7,816.0 413.7,815.6 417.7,815.3 421.7,815.0 425.7,814.8 429.7,814.6 433.7,814.5 437.7,814.3 441.7,814.2 445.7,814.1 449.7,813.9 453.7,813.8 457.7,813.7 461.7,813.6 465.7,813.5 469.7,813.5 473.7,813.4 477.7,813.3 481.7,813.2 485.7,813.1 489.7,813.1 493.7,813.0 497.7,813.0 501.7,812.9 505.7,812.9 509.7,812.9 513.7,812.8 517.7,812.8 521.7,812.8 525.7,812.8 529.7,812.7 533.7,812.6 537.7,812.5 541.7,812.4 545.7,812.3 549.7,812.1 553.7,812.0 557.7,811.8 561.7,811.6 565.7,811.4 569.7,811.2 573.7,810.9 577.7,810.6 581.7,810.3 585.7,810.0 589.7,809.8 593.7,809.6 597.8,809.4" fill="none" stroke="#ff0000" stroke-width="3.8" stroke-opacity="0.260" stroke-linejoin="round" /></g>
<polyline points="61.7,846.2 65.7,846.2 69.7,846.2 73.7,846.2 77.7,846.2 81.7,846.2 85.7,846.2 89.7,846.2 93.7,846.2 97.7,846.2 101.7,846.2 105.7,846.1 109.7,846.0 113.7,845.7 117.7,845.5 121.7,845.1 125.7,844.7 129.7,844.3 133.7,843.8 137.7,843.3 141.7,842.8 145.7,842.2 149.7,841.6 153.7,840.9 157.7,840.0 161.7,838.9 165.7,837.7 169.7,836.4 173.7,835.2 177.7,834.0 181.7,832.9 185.7,831.8 189.7,830.7 193.7,829.5 197.7,828.4 201.7,827.3 205.7,826.2 209.7,825.0 213.7,823.9 217.7,822.7 221.7,821.6 225.7,820.4 229.7,819.2 233.7,818.0 237.7,816.8 241.7,815.7 245.7,814.5 249.7,813.4 253.7,812.3 257.7,811.2 261.7,810.1 265.7,809.1 269.7,808.1 273.7,807.1 277.7,806.1 281.7,805.1 285.7,804.1 289.7,803.1 293.7,802.2 297.7,801.2 301.7,800.3 305.7,799.3 309.7,798.4 313.7,797.5 317.7,796.6 321.7,795.8 325.7,794.9 329.7,794.0 333.7,793.2 337.7,792.3 341.7,791.4 345.7,790.4 349.7,789.5 353.7,788.6 357.7,787.6 361.7,786.7 365.7,785.8 369.7,784.8 373.7,783.9 377.7,783.0 381.7,782.0 385.7,781.1 389.7,780.2 393.7,779.3 397.7,778.5 401.7,778.2 405.7,778.0 409.7,777.9 413.7,777.9 417.7,778.0 421.7,778.0 425.7,778.1 429.7,778.2 433.7,778.4 437.7,778.7 441.7,778.9 445.7,779.2 449.7,779.5 453.7,779.9 457.7,780.2 461.7,780.6 465.7,781.0 469.7,781.5 473.7,781.9 477.7,782.4 481.7,782.9 485.7,783.4 489.7,784.0 493.7,784.6 497.7,785.2 501.7,785.8 505.7,786.3 509.7,786.9 513.7,787.4 517.7,787.9 521.7,788.4 525.7,788.9 529.7,789.4 533.7,789.8 537.7,790.3 541.7,790.8 545.7,791.2 549.7,791.7 553.7,792.1 557.7,792.6 561.7,793.0 565.7,793.5 569.7,793.9 573.7,794.4 577.7,794.8 581.7,795.3 585.7,795.7 589.7,796.1 593.7,796.5 597.8,796.9" fill="none" stroke="#ff0000" stroke-width="3.6" stroke-opacity="0.300" stroke-linejoin="round" />
<polyline points="61.7,846.1 65.7,846.1 69.7,846.1 73.7,846.1 77.7,846.1 81.7,846.1 85.7,846.1 89.7,846.1 93.7,846.1 97.7,846.1 101.7,846.1 105.7,846.0 109.7,845.8 113.7,845.6 117.7,845.3 121.7,845.0 125.7,844.6 129.7,844.2 133.7,843.7 137.7,843.2 141.7,842.6 145.7,842.1 149.7,841.5 153.7,840.8 157.7,839.9 161.7,838.8 165.7,837.5 169.7,836.3 173.7,835.0 177.7,833.8 181.7,832.7 185.7,831.6 189.7,830.5 193.7,829.4 197.7,828.3 201.7,827.2 205.7,826.0 209.7,824.9 213.7,823.8 217.7,822.6 221.7,821.4 225.7,820.2 229.7,819.1 233.7,817.9 237.7,816.7 241.7,815.5 245.7,814.4 249.7,813.3 253.7,812.1 257.7,811.0 261.7,810.0 265.7,808.9 269.7,807.9 273.7,806.9 277.7,805.9 281.7,804.9 285.7,804.0 289.7,803.0 293.7,802.0 297.7,801.1 301.7,800.1 305.7,799.2 309.7,798.3 313.7,797.4 317.7,796.5 321.7,795.6 325.7,794.8 329.7,793.9 333.7,793.0 337.7,792.1 341.7,791.2 345.7,790.3 349.7,789.4 353.7,788.4 357.7,787.5 361.7,786.6 365.7,785.6 369.7,784.7 373.7,783.8 377.7,782.8 381.7,781.9 385.7,781.0 389.7,780.1 393.7,779.1 397.7,778.3 401.7,778.1 405.7,777.9 409.7,777.8 413.7,777.8 417.7,777.8 421.7,777.9 425.7,778.0 429.7,778.1 433.7,778.3 437.7,778.5 441.7,778.8 445.7,779.1 449.7,779.4 453.7,779.7 457.7,780.1 461.7,780.5 465.7,780.9 469.7,781.3 473.7,781.8 477.7,782.3 481.7,782.8 485.7,783.3 489.7,783.9 493.7,784.5 497.7,785.1 501.7,785.6 505.7,786.2 509.7,786.7 513.7,787.3 517.7,787.8 521.7,788.2 525.7,788.7 529.7,789.2 533.7,789.7 537.7,790.2 541.7,790.6 545.7,791.1 549.7,791.5 553.7,792.0 557.7,792.4 561.7,792.9 565.7,793.3 569.7,793.8 573.7,794.2 577.7,794.7 581.7,795.1 585.7,795.6 589.7,796.0 593.7,796.4 597.8,796.8" fill="none" stroke="#ff0000" stroke-width="3.6" stroke-opacity="0.300" stroke-linejoin="round" />
<polyline points="61.7,846.3 65.7,846.3 69.7,846.3 73.7,846.3 77.7,846.3 81.7,846.3 85.7,846.3 89.7,846.3 93.7,846.3 97.7,846.3 101.7,846.3 105.7,846.2 109.7,846.1 113.7,845.8 117.7,845.6 121.7,845.2 125.7,844.8 129.7,844.4 133.7,843.9 137.7,843.4 141.7,842.9 145.7,842.3 149.7,841.7 153.7,841.0 157.7,840.1 161.7,839.0 165.7,837.8 169.7,836.5 173.7,835.3 177.7,834.1 181.7,833.0 185.7,831.9 189.7,830.7 193.7,829.6 197.7,828.5 201.7,827.4 205.7,826.3 209.7,825.1 213.7,824.0 217.7,822.8 221.7,821.6 225.7,820.5 229.7,819.3 233.7,818.1 237.7,816.9 241.7,815.8 245.7,814.6 249.7,813.5 253.7,812.4 257.7,811.3 261.7,810.2 265.7,809.2 269.7,808.2 273.7,807.2 277.7,806.2 281.7,805.2 285.7,804.2 289.7,803.2 293.7,802.2 297.7,801.3 301.7,800.3 305.7,799.4 309.7,798.5 313.7,797.6 317.7,796.7 321.7,795.9 325.7,795.0 329.7,794.1 333.7,793.3 337.7,792.4 341.7,791.5 345.7,790.5 349.7,789.6 353.7,788.7 357.7,787.7 361.7,786.8 365.7,785.8 369.7,784.9 373.7,784.0 377.7,783.1 381.7,782.1 385.7,781.2 389.7,780.3 393.7,779.4 397.7,778.5 401.7,778.3 405.7,778.1 409.7,778.0 413.7,778.0 417.7,778.0 421.7,778.1 425.7,778.2 429.7,778.3 433.7,778.5 437.7,778.8 441.7,779.0 445.7,779.3 449.7,779.6 453.7,779.9 457.7,780.3 461.7,780.7 465.7,781.1 469.7,781.6 473.7,782.0 477.7,782.5 481.7,783.0 485.7,783.5 489.7,784.1 493.7,784.7 497.7,785.3 501.7,785.9 505.7,786.4 509.7,787.0 513.7,787.5 517.7,788.0 521.7,788.5 525.7,789.0 529.7,789.4 533.7,789.9 537.7,790.4 541.7,790.9 545.7,791.3 549.7,791.8 553.7,792.2 557.7,792.7 561.7,793.1 565.7,793.6 569.7,794.0 573.7,794.5 577.7,794.9 581.7,795.4 585.7,795.8 589.7,796.2 593.7,796.6 597.8,797.0" fill="none" stroke="#ff0000" stroke-width="3.6" stroke-opacity="0.300" stroke-linejoin="round" />
<g><polyline points="61.7,846.1 65.7,846.1 69.7,846.1 73.7,846.1 77.7,846.1 81.7,846.1 85.7,846.1 89.7,846.1 93.7,846.1 97.7,846.1 101.7,846.1 105.7,846.0 109.7,845.9 113.7,845.6 117.7,845.4 121.7,845.0 125.7,844.6 129.7,844.2 133.7,843.7 137.7,843.2 141.7,842.7 145.7,842.1 149.7,841.5 153.7,840.8 157.7,839.9 161.7,838.8 165.7,837.6 169.7,836.3 173.7,835.1 177.7,833.9 181.7,832.8 185.7,831.7 189.7,830.6 193.7,829.4 197.7,828.3 201.7,827.2 205.7,826.1 209.7,824.9 213.7,823.8 217.7,822.6 221.7,821.5 225.7,820.3 229.7,819.1 233.7,817.9 237.7,816.7 241.7,815.6 245.7,814.4 249.7,813.3 253.7,812.2 257.7,811.1 261.7,810.0 265.7,809.0 269.7,808.0 273.7,807.0 277.7,806.0 281.7,805.0 285.7,804.0 289.7,803.0 293.7,802.1 297.7,801.1 301.7,800.2 305.7,799.2 309.7,798.3 313.7,797.4 317.7,796.5 321.7,795.7 325.7,794.8 329.7,793.9 333.7,793.1 337.7,792.2 341.7,791.3 345.7,790.3 349.7,789.4 353.7,788.5 357.7,787.5 361.7,786.6 365.7,785.7 369.7,784.7 373.7,783.8 377.7,782.9 381.7,781.9 385.7,781.0 389.7,780.1 393.7,779.2 397.7,778.4 401.7,778.1 405.7,777.9 409.7,777.8 413.7,777.8 417.7,777.9 421.7,777.9 425.7,778.0 429.7,778.1 433.7,778.7 437.7,779.3 441.7,779.9 445.7,780.5 449.7,781.2 453.7,781.8 457.7,782.5 461.7,783.1 465.7,783.8 469.7,784.5 473.7,785.1 477.7,785.8 481.7,786.4 485.7,787.1 489.7,787.8 493.7,788.4 497.7,789.1 501.7,789.7 505.7,790.3 509.7,790.9 513.7,791.5 517.7,792.0 521.7,792.5 525.7,793.1 529.7,793.6 533.7,794.1 537.7,794.5 541.7,795.0 545.7,795.5 549.7,795.9 553.7,796.3 557.7,796.8 561.7,797.2 565.7,797.6 569.7,798.0 573.7,798.3 577.7,798.7 581.7,799.0 585.7,799.4 589.7,799.7 593.7,800.1 597.8,800.6" fill="none" stroke="#ff0000" stroke-width="3.8" stroke-opacity="0.260" stroke-linejoin="round" /><polyline points="61.7,846.1 65.7,846.1 69.7,846.1 73.7,846.1 77.7,846.1 81.7,846.1 85.7,846.1 89.7,846.1 93.7,846.1 97.7,846.1 101.7,846.1 105.7,846.0 109.7,845.9 113.7,845.6 117.7,845.4 121.7,845.0 125.7,844.6 129.7,844.2 133.7,843.7 137.7,843.2 141.7,842.7 145.7,842.1 149.7,841.5 153.7,840.8 157.7,839.9 161.7,838.8 165.7,837.6 169.7,836.3 173.7,835.1 177.7,833.9 181.7,832.8 185.7,831.7 189.7,830.6 193.7,829.4 197.7,828.3 201.7,827.2 205.7,826.1 209.7,824.9 213.7,823.8 217.7,822.6 221.7,821.5 225.7,820.3 229.7,819.1 233.7,817.9 237.7,816.7 241.7,815.6 245.7,814.4 249.7,813.3 253.7,812.2 257.7,811.1 261.7,810.0 265.7,809.0 269.7,808.0 273.7,807.0 277.7,806.0 281.7,805.0 285.7,804.0 289.7,803.0 293.7,802.1 297.7,801.1 301.7,800.2 305.7,799.2 309.7,798.3 313.7,797.4 317.7,796.5 321.7,795.7 325.7,794.8 329.7,793.9 333.7,793.1 337.7,792.2 341.7,791.3 345.7,790.3 349.7,789.4 353.7,788.5 357.7,787.5 361.7,786.6 365.7,785.7 369.7,784.7 373.7,783.8 377.7,782.9 381.7,781.9 385.7,781.0 389.7,780.1 393.7,779.2 397.7,778.4 401.7,778.1 405.7,777.9 409.7,777.8 413.7,777.8 417.7,777.9 421.7,777.9 425.7,778.0 429.7,778.1 433.7,778.3 437.7,778.6 441.7,778.8 445.7,779.1 449.7,779.4 453.7,780.0 457.7,780.7 461.7,781.4 465.7,782.0 469.7,782.7 473.7,783.4 477.7,784.0 481.7,784.7 485.7,785.4 489.7,786.0 493.7,786.7 497.7,787.3 501.7,788.0 505.7,788.5 509.7,789.1 513.7,789.6 517.7,790.1 521.7,790.6 525.7,791.1 529.7,791.5 533.7,792.0 537.7,792.4 541.7,792.8 545.7,793.2 549.7,793.6 553.7,794.0 557.7,794.4 561.7,794.8 565.7,795.1 569.7,795.4 573.7,795.7 577.7,796.0 581.7,796.3 585.7,796.6 589.7,796.9 593.7,797.2 597.8,797.6" fill="none" stroke="#ff0000" stroke-width="3.8" stroke-opacity="0.260" stroke-linejoin="round" /><polyline points="61.7,846.1 65.7,846.1 69.7,846.1 73.7,846.1 77.7,846.1 81.7,846.1 85.7,846.1 89.7,846.1 93.7,846.1 97.7,846.1 101.7,846.1 105.7,846.0 109.7,845.9 113.7,845.6 117.7,845.4 121.7,845.0 125.7,844.6 129.7,844.2 133.7,843.7 137.7,843.2 141.7,842.7 145.7,842.1 149.7,841.5 153.7,840.8 157.7,839.9 161.7,838.8 165.7,837.6 169.7,836.3 173.7,835.1 177.7,833.9 181.7,832.8 185.7,831.7 189.7,830.6 193.7,829.4 197.7,828.3 201.7,827.2 205.7,826.1 209.7,824.9 213.7,823.8 217.7,822.6 221.7,821.5 225.7,820.3 229.7,819.1 233.7,817.9 237.7,816.7 241.7,815.6 245.7,814.4 249.7,813.3 253.7,812.2 257.7,811.1 261.7,810.0 265.7,809.0 269.7,808.0 273.7,807.0 277.7,806.0 281.7,805.0 285.7,804.0 289.7,803.0 293.7,802.1 297.7,801.1 301.7,800.2 305.7,799.2 309.7,798.3 313.7,797.4 317.7,796.5 321.7,795.7 325.7,794.8 329.7,793.9 333.7,793.1 337.7,792.2 341.7,791.3 345.7,790.3 349.7,789.4 353.7,788.5 357.7,787.5 361.7,786.6 365.7,785.7 369.7,784.7 373.7,783.8 377.7,782.9 381.7,781.9 385.7,781.0 389.7,780.1 393.7,779.2 397.7,778.4 401.7,778.1 405.7,777.9 409.7,777.8 413.7,777.8 417.7,777.9 421.7,777.9 425.7,778.0 429.7,778.1 433.7,778.3 437.7,778.6 441.7,778.8 445.7,779.1 449.7,779.4 453.7,779.8 457.7,780.1 461.7,780.5 465.7,780.9 469.7,781.4 473.7,782.1 477.7,782.7 481.7,783.4 485.7,784.1 489.7,784.7 493.7,785.4 497.7,786.1 501.7,786.7 505.7,787.2 509.7,787.8 513.7,788.3 517.7,788.7 521.7,789.2 525.7,789.7 529.7,790.1 533.7,790.5 537.7,790.9 541.7,791.2 545.7,791.6 549.7,791.9 553.7,792.3 557.7,792.6 561.7,792.9 565.7,793.2 569.7,793.4 573.7,793.7 577.7,793.9 581.7,794.1 585.7,794.3 589.7,794.5 593.7,794.8 597.8,795.1" fill="none" stroke="#ff0000" stroke-width="3.8" stroke-opacity="0.260" stroke-linejoin="round" /></g>
<rect x="594.8" y="793.0" width="4.4" height="18.6" rx="2" fill="#ff0000" fill-opacity="0.45"/>
<rect x="61.7" y="793.2" width="536.1" height="15.5" fill="#000" fill-opacity="0.25"/>
<polyline points="61.7,846.1 65.7,846.1 69.7,846.1 73.7,846.1 77.7,846.1 81.7,846.1 85.7,846.1 89.7,846.1 93.7,846.1 97.7,845.9 101.7,845.8 105.7,845.5 109.7,845.3 113.7,845.0 117.7,844.7 121.7,844.4 125.7,844.0 129.7,843.6 133.7,843.1 137.7,842.6 141.7,842.1 145.7,841.5 149.7,840.9 153.7,840.2 157.7,839.6 161.7,838.9 165.7,838.2 169.7,837.5 173.7,836.8 177.7,836.0 181.7,835.3 185.7,834.6 189.7,833.9 193.7,833.2 197.7,832.4 201.7,831.7 205.7,831.0 209.7,830.2 213.7,829.5 217.7,828.8 221.7,828.1 225.7,827.4 229.7,826.6 233.7,825.9 237.7,825.3 241.7,824.7 245.7,824.2 249.7,823.5 253.7,822.9 257.7,822.2 261.7,821.4 265.7,820.7 269.7,819.9 273.7,819.2 277.7,818.5 281.7,817.8 285.7,817.1 289.7,816.4 293.7,815.7 297.7,815.0 301.7,814.3 305.7,813.6 309.7,813.0 313.7,812.3 317.7,811.7 321.7,811.0 325.7,810.4 329.7,809.7 333.7,809.1 337.7,808.5 341.7,807.9 345.7,807.3 349.7,806.7 353.7,806.1 357.7,805.5 361.7,804.9 365.7,804.4 369.7,803.8 373.7,803.2 377.7,802.6 381.7,802.1 385.7,801.5 389.7,800.9 393.7,800.4 397.7,799.8 401.7,799.4 405.7,799.0 409.7,798.7 413.7,798.4 417.7,798.2 421.7,798.0 425.7,797.9 429.7,797.8 433.7,797.8 437.7,797.8 441.7,797.7 445.7,797.7 449.7,797.7 453.7,797.7 457.7,797.7 461.7,797.8 465.7,797.8 469.7,797.9 473.7,797.9 477.7,798.0 481.7,798.1 485.7,798.2 489.7,798.3 493.7,798.4 497.7,798.5 501.7,798.7 505.7,798.8 509.7,799.0 513.7,799.2 517.7,799.4 521.7,799.6 525.7,799.8 529.7,800.0 533.7,800.2 537.7,800.4 541.7,800.7 545.7,800.9 549.7,801.1 553.7,801.4 557.7,801.6 561.7,801.8 565.7,802.1 569.7,802.3 573.7,802.5 577.7,802.7 581.7,802.9 585.7,803.2 589.7,803.4 593.7,803.7 597.8,804.1" fill="none" stroke="#000" stroke-width="5.8" stroke-linejoin="round" />
<path d="M596.0,801.2 L600.6,803.9 L598.0,807.0 L595.3,807.0 Z" fill="#000"/>
<path d="M61.70,849.80 H626.50" stroke="#262626" stroke-width="1.8" fill="none"/>
<path d="M620.20,704.70 V849.80" stroke="#262626" stroke-width="1.8" fill="none"/>
<text x="632.50" y="857.00" font-size="19.8" font-family="Liberation Sans, sans-serif">0</text>
<line x1="620.20" y1="803.00" x2="626.50" y2="803.00" stroke="#262626" stroke-width="1.8"/>
<text x="632.50" y="810.20" font-size="19.8" font-family="Liberation Sans, sans-serif">2</text>
<line x1="620.20" y1="756.20" x2="626.50" y2="756.20" stroke="#262626" stroke-width="1.8"/>
<text x="632.50" y="763.40" font-size="19.8" font-family="Liberation Sans, sans-serif">4</text>
<line x1="620.20" y1="709.40" x2="626.50" y2="709.40" stroke="#262626" stroke-width="1.8"/>
<text x="632.50" y="716.60" font-size="19.8" font-family="Liberation Sans, sans-serif">6</text>
<line x1="61.70" y1="849.80" x2="61.70" y2="855.80" stroke="#262626" stroke-width="1.8"/>
<text x="61.70" y="883.00" text-anchor="middle" font-size="19.8" font-family="Liberation Sans, sans-serif">12,000</text>
<line x1="151.05" y1="849.80" x2="151.05" y2="855.80" stroke="#262626" stroke-width="1.8"/>
<text x="151.05" y="883.00" text-anchor="middle" font-size="19.8" font-family="Liberation Sans, sans-serif">10,000</text>
<line x1="240.40" y1="849.80" x2="240.40" y2="855.80" stroke="#262626" stroke-width="1.8"/>
<text x="240.40" y="883.00" text-anchor="middle" font-size="19.8" font-family="Liberation Sans, sans-serif">8000</text>
<line x1="329.75" y1="849.80" x2="329.75" y2="855.80" stroke="#262626" stroke-width="1.8"/>
<text x="329.75" y="883.00" text-anchor="middle" font-size="19.8" font-family="Liberation Sans, sans-serif">6000</text>
<line x1="419.10" y1="849.80" x2="419.10" y2="855.80" stroke="#262626" stroke-width="1.8"/>
<text x="419.10" y="883.00" text-anchor="middle" font-size="19.8" font-family="Liberation Sans, sans-serif">4000</text>
<line x1="508.45" y1="849.80" x2="508.45" y2="855.80" stroke="#262626" stroke-width="1.8"/>
<text x="508.45" y="883.00" text-anchor="middle" font-size="19.8" font-family="Liberation Sans, sans-serif">2000</text>
<line x1="597.80" y1="849.80" x2="597.80" y2="855.80" stroke="#262626" stroke-width="1.8"/>
<text x="597.80" y="883.00" text-anchor="middle" font-size="19.8" font-family="Liberation Sans, sans-serif">0</text>
<text x="335.80" y="913.70" text-anchor="middle" font-size="19.8" font-family="Liberation Sans, sans-serif">Year BP</text>
<text x="624.00" y="693.10" font-size="19.8" font-family="Liberation Sans, sans-serif"><tspan font-size="24" dy="3.0">&#215;</tspan><tspan dx="-0.8" dy="-3.0">10</tspan><tspan font-size="13.2" dy="-6.8">4</tspan></text>
<text transform="translate(680.7,777.30) rotate(-90)" text-anchor="middle" font-size="20.2" font-family="Liberation Sans, sans-serif"><tspan font-size="13.6" dy="-7.6">14</tspan><tspan dy="7.6">C (at g</tspan><tspan font-size="13.6" dy="-7.6">&#8722;</tspan><tspan font-size="13.6" dx="-1.6">1</tspan><tspan dx="1.6" dy="7.6">)</tspan></text>
<text x="-0.2" y="966.0" font-size="29" font-weight="bold" font-family="Liberation Sans, sans-serif">c</text>
<text x="341.8" y="974.2" text-anchor="middle" font-size="20" font-family="Liberation Sans, sans-serif">Site #23</text>
<polyline points="61.7,998.2 64.7,999.9 67.7,1001.8 70.7,1004.1 73.7,1006.6 76.7,1009.4 79.7,1012.5 82.7,1016.0 85.7,1019.9 88.7,1024.1 91.7,1028.6 94.7,1033.4 97.7,1038.5 100.7,1043.9 103.7,1049.4 106.7,1055.1 109.7,1060.8 112.7,1066.4 115.7,1071.9 118.7,1077.2 121.7,1082.3 124.7,1087.0 127.7,1091.4 130.7,1095.4 133.7,1099.0 136.7,1102.2 139.7,1105.1 142.7,1107.6 145.7,1109.7 148.7,1111.6 151.7,1113.1 154.7,1114.5 157.7,1115.6 160.7,1116.6 163.7,1117.4 166.7,1118.0 169.7,1118.6 172.7,1119.0 175.7,1119.4 178.7,1119.7 181.7,1119.9 184.7,1120.2 187.7,1120.3 190.7,1120.5 193.7,1120.6 196.7,1120.7 199.7,1120.7 202.7,1120.8 205.7,1120.9 208.7,1120.9 211.7,1120.9 214.7,1121.0 217.7,1121.0 220.7,1121.0 223.7,1121.0 226.7,1121.0 229.7,1121.0 232.7,1121.0 235.7,1121.0 238.7,1121.1 241.7,1121.1 244.7,1121.1 247.7,1121.1 250.7,1121.1 253.7,1121.1 256.7,1121.1 259.7,1121.1 300.0,1121.1 397.0,1121.1 591.5,1115.6 596.8,1123.3" fill="none" stroke="#000" stroke-width="6.0" stroke-linejoin="round" />
<path d="M61.70,979.60 V1124.15 H620.20" fill="none" stroke="#111" stroke-width="1.7" stroke-linecap="square"/>
<line x1="61.70" y1="1084.75" x2="68.00" y2="1084.75" stroke="#111" stroke-width="1.7"/>
<line x1="61.70" y1="1045.35" x2="68.00" y2="1045.35" stroke="#111" stroke-width="1.7"/>
<line x1="61.70" y1="1005.95" x2="68.00" y2="1005.95" stroke="#111" stroke-width="1.7"/>
<text x="55.2" y="1131.55" text-anchor="end" font-size="20.4" font-family="Liberation Sans, sans-serif">0</text>
<text x="55.2" y="1092.15" text-anchor="end" font-size="20.4" font-family="Liberation Sans, sans-serif">20</text>
<text x="55.2" y="1052.75" text-anchor="end" font-size="20.4" font-family="Liberation Sans, sans-serif">40</text>
<text x="55.2" y="1013.35" text-anchor="end" font-size="20.4" font-family="Liberation Sans, sans-serif">60</text>
<line x1="151.05" y1="1124.15" x2="151.05" y2="1117.85" stroke="#111" stroke-width="1.7"/>
<line x1="240.40" y1="1124.15" x2="240.40" y2="1117.85" stroke="#111" stroke-width="1.7"/>
<line x1="329.75" y1="1124.15" x2="329.75" y2="1117.85" stroke="#111" stroke-width="1.7"/>
<line x1="419.10" y1="1124.15" x2="419.10" y2="1117.85" stroke="#111" stroke-width="1.7"/>
<line x1="508.45" y1="1124.15" x2="508.45" y2="1117.85" stroke="#111" stroke-width="1.7"/>
<line x1="597.80" y1="1124.15" x2="597.80" y2="1117.85" stroke="#111" stroke-width="1.7"/>
<text transform="translate(17.1,1052.4) rotate(-90)" text-anchor="middle" font-size="20.0" font-family="Liberation Sans, sans-serif">Ice thickness (m)</text>
<rect x="61.7" y="1257.5" width="536.1" height="4.7" fill="#000" fill-opacity="0.26"/>
<polyline points="61.7,1313.3 64.7,1313.2 67.7,1313.1 70.7,1313.0 73.7,1312.9 76.7,1312.9 79.7,1312.8 82.7,1312.8 85.7,1312.7 88.7,1312.7 91.7,1312.7 94.7,1312.7 97.7,1312.7 100.7,1312.7 103.7,1312.7 106.7,1312.7 109.7,1312.8 112.7,1312.8 115.7,1312.8 118.7,1312.8 121.7,1312.8 124.7,1312.7 127.7,1312.7 130.7,1312.7 133.7,1312.6 136.7,1312.6 139.7,1312.5 142.7,1312.4 145.7,1312.3 148.7,1312.2 151.7,1312.0 154.7,1311.9 157.7,1311.7 160.7,1311.5 163.7,1311.2 166.7,1311.0 169.7,1310.7 172.7,1310.3 175.7,1310.0 178.7,1309.6 181.7,1309.2 184.7,1308.7 187.7,1308.2 190.7,1307.7 193.7,1307.1 196.7,1306.5 199.7,1305.8 202.7,1305.1 205.7,1304.4 208.7,1303.7 211.7,1302.9 214.7,1302.2 217.7,1301.4 220.7,1300.6 223.7,1299.8 226.7,1299.0 229.7,1298.1 232.7,1297.3 235.7,1296.5 238.7,1295.7 241.7,1294.9 244.7,1294.1 247.7,1293.4 250.7,1292.6 253.7,1291.9 256.7,1291.1 259.7,1290.4 262.7,1289.7 265.7,1289.0 268.7,1288.3 271.7,1287.6 274.7,1286.9 277.7,1286.2 280.7,1285.5 283.7,1284.8 286.7,1284.2 289.7,1283.5 292.7,1282.8 295.7,1282.1 298.7,1281.5 301.7,1280.8 304.7,1280.2 307.7,1279.5 310.7,1278.9 313.7,1278.2 316.7,1277.6 319.7,1276.9 322.7,1276.3 325.7,1275.7 328.7,1275.1 331.7,1274.5 334.7,1273.9 337.7,1273.3 340.7,1272.7 343.7,1272.1 346.7,1271.5 349.7,1270.9 352.7,1270.4 355.7,1269.8 358.7,1269.3 361.7,1268.7 364.7,1268.2 367.7,1267.7 370.7,1267.2 373.7,1266.7 376.7,1266.2 379.7,1265.7 382.7,1265.2 385.7,1264.8 388.7,1264.3 391.7,1263.9 394.7,1263.5 397.7,1263.1 400.7,1262.6 403.7,1262.3 406.7,1261.9 409.7,1261.5 412.7,1261.1 415.7,1260.8 418.7,1260.5 421.7,1260.2 424.7,1259.9 427.7,1259.6 430.7,1259.3 433.7,1259.0 436.7,1258.8 439.7,1258.5 442.7,1258.3 445.7,1258.1 448.7,1257.9 451.7,1257.8 454.7,1257.6 457.7,1257.5 460.7,1257.3 463.7,1257.2 466.7,1257.1 469.7,1257.1 472.7,1257.0 475.7,1256.9 478.7,1256.9 481.7,1256.9 484.7,1256.9 487.7,1256.8 490.7,1256.9 493.7,1256.9 496.7,1256.9 499.7,1256.9 502.7,1257.0 505.7,1257.1 508.7,1257.1 511.7,1257.2 514.7,1257.3 517.7,1257.4 520.7,1257.5 523.7,1257.6 526.7,1257.7 529.7,1257.9 532.7,1258.0 535.7,1258.1 538.7,1258.3 541.7,1258.4 544.7,1258.6 547.7,1258.8 550.7,1258.9 553.7,1259.1 556.7,1259.3 559.7,1259.5 562.7,1259.6 565.7,1259.8 568.7,1260.0 571.7,1260.2 574.7,1260.4 577.7,1260.6 580.7,1260.8 583.7,1261.0 586.7,1261.2 589.7,1261.3 592.7,1261.5 597.8,1261.9" fill="none" stroke="#000" stroke-width="6.0" stroke-linejoin="round" />
<path d="M61.70,1313.90 H626.50" stroke="#262626" stroke-width="1.8" fill="none"/>
<path d="M620.20,1169.20 V1313.90" stroke="#262626" stroke-width="1.8" fill="none"/>
<text x="633.80" y="1320.10" font-size="19.8" font-family="Liberation Sans, sans-serif">0</text>
<line x1="620.20" y1="1273.43" x2="626.50" y2="1273.43" stroke="#262626" stroke-width="1.8"/>
<text x="633.80" y="1279.63" font-size="19.8" font-family="Liberation Sans, sans-serif">1</text>
<line x1="620.20" y1="1232.96" x2="626.50" y2="1232.96" stroke="#262626" stroke-width="1.8"/>
<text x="633.80" y="1239.16" font-size="19.8" font-family="Liberation Sans, sans-serif">2</text>
<line x1="620.20" y1="1192.49" x2="626.50" y2="1192.49" stroke="#262626" stroke-width="1.8"/>
<text x="633.80" y="1198.69" font-size="19.8" font-family="Liberation Sans, sans-serif">3</text>
<line x1="61.70" y1="1313.90" x2="61.70" y2="1319.90" stroke="#262626" stroke-width="1.8"/>
<text x="61.70" y="1343.80" text-anchor="middle" font-size="19.8" font-family="Liberation Sans, sans-serif">12,000</text>
<line x1="151.05" y1="1313.90" x2="151.05" y2="1319.90" stroke="#262626" stroke-width="1.8"/>
<text x="151.05" y="1343.80" text-anchor="middle" font-size="19.8" font-family="Liberation Sans, sans-serif">10,000</text>
<line x1="240.40" y1="1313.90" x2="240.40" y2="1319.90" stroke="#262626" stroke-width="1.8"/>
<text x="240.40" y="1343.80" text-anchor="middle" font-size="19.8" font-family="Liberation Sans, sans-serif">8000</text>
<line x1="329.75" y1="1313.90" x2="329.75" y2="1319.90" stroke="#262626" stroke-width="1.8"/>
<text x="329.75" y="1343.80" text-anchor="middle" font-size="19.8" font-family="Liberation Sans, sans-serif">6000</text>
<line x1="419.10" y1="1313.90" x2="419.10" y2="1319.90" stroke="#262626" stroke-width="1.8"/>
<text x="419.10" y="1343.80" text-anchor="middle" font-size="19.8" font-family="Liberation Sans, sans-serif">4000</text>
<line x1="508.45" y1="1313.90" x2="508.45" y2="1319.90" stroke="#262626" stroke-width="1.8"/>
<text x="508.45" y="1343.80" text-anchor="middle" font-size="19.8" font-family="Liberation Sans, sans-serif">2000</text>
<line x1="597.80" y1="1313.90" x2="597.80" y2="1319.90" stroke="#262626" stroke-width="1.8"/>
<text x="597.80" y="1343.80" text-anchor="middle" font-size="19.8" font-family="Liberation Sans, sans-serif">0</text>
<text x="341.50" y="1369.90" text-anchor="middle" font-size="19.8" font-family="Liberation Sans, sans-serif">Year BP</text>
<text x="622.90" y="1158.30" font-size="19.8" font-family="Liberation Sans, sans-serif"><tspan font-size="24" dy="3.0">&#215;</tspan><tspan dx="-0.8" dy="-3.0">10</tspan><tspan font-size="13.2" dy="-6.8">5</tspan></text>
<text transform="translate(680.7,1241.50) rotate(-90)" text-anchor="middle" font-size="20.2" font-family="Liberation Sans, sans-serif"><tspan font-size="13.6" dy="-7.6">14</tspan><tspan dy="7.6">C (at g</tspan><tspan font-size="13.6" dy="-7.6">&#8722;</tspan><tspan font-size="13.6" dx="-1.6">1</tspan><tspan dx="1.6" dy="7.6">)</tspan></text>
</svg>
</body></html>
